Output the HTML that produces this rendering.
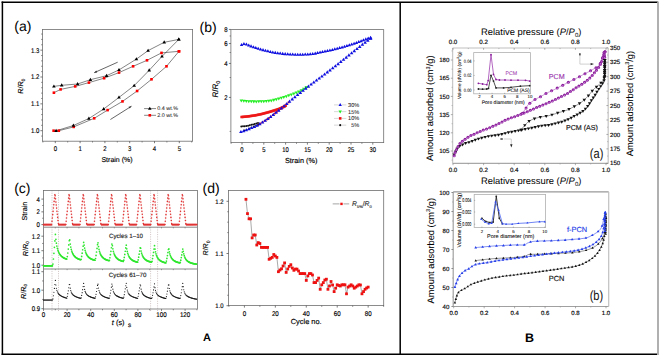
<!DOCTYPE html>
<html><head><meta charset="utf-8"><style>
html,body{margin:0;padding:0;background:#fff;}
svg{display:block;font-family:"Liberation Sans", sans-serif;text-rendering:geometricPrecision;}
</style></head><body>
<svg width="659" height="357" viewBox="0 0 659 357">
<rect x="0" y="0" width="659" height="357" fill="#fff"/>
<line x1="1.6" y1="2.3" x2="657.9" y2="2.3" stroke="#000" stroke-width="1.5" />
<line x1="1.6" y1="354.2" x2="657.2" y2="354.2" stroke="#000" stroke-width="1.5" />
<line x1="2.4" y1="1.6" x2="2.4" y2="355" stroke="#000" stroke-width="1.5" />
<line x1="658" y1="1.6" x2="658" y2="355" stroke="#a8a8a8" stroke-width="1.8" />
<line x1="400.2" y1="2.3" x2="400.2" y2="354.3" stroke="#000" stroke-width="1.5" />
<rect x="42.4" y="29.4" width="150.2" height="111.8" stroke="#6e6e6e" stroke-width="0.8" fill="none"/>
<line x1="55.3" y1="141.2" x2="55.3" y2="143.2" stroke="#444" stroke-width="0.7" />
<text transform="translate(55.3,151.41) scale(0.87,1)" text-anchor="middle" fill="#000" stroke="#000" stroke-width="0.15" style="font-size:6.9px;" >0</text>
<line x1="80.1" y1="141.2" x2="80.1" y2="143.2" stroke="#444" stroke-width="0.7" />
<text transform="translate(80.1,151.41) scale(0.87,1)" text-anchor="middle" fill="#000" stroke="#000" stroke-width="0.15" style="font-size:6.9px;" >1</text>
<line x1="104.9" y1="141.2" x2="104.9" y2="143.2" stroke="#444" stroke-width="0.7" />
<text transform="translate(104.9,151.41) scale(0.87,1)" text-anchor="middle" fill="#000" stroke="#000" stroke-width="0.15" style="font-size:6.9px;" >2</text>
<line x1="129.7" y1="141.2" x2="129.7" y2="143.2" stroke="#444" stroke-width="0.7" />
<text transform="translate(129.7,151.41) scale(0.87,1)" text-anchor="middle" fill="#000" stroke="#000" stroke-width="0.15" style="font-size:6.9px;" >3</text>
<line x1="154.5" y1="141.2" x2="154.5" y2="143.2" stroke="#444" stroke-width="0.7" />
<text transform="translate(154.5,151.41) scale(0.87,1)" text-anchor="middle" fill="#000" stroke="#000" stroke-width="0.15" style="font-size:6.9px;" >4</text>
<line x1="179.3" y1="141.2" x2="179.3" y2="143.2" stroke="#444" stroke-width="0.7" />
<text transform="translate(179.3,151.41) scale(0.87,1)" text-anchor="middle" fill="#000" stroke="#000" stroke-width="0.15" style="font-size:6.9px;" >5</text>
<line x1="42.9" y1="141.2" x2="42.9" y2="142.5" stroke="#444" stroke-width="0.6" />
<line x1="67.7" y1="141.2" x2="67.7" y2="142.5" stroke="#444" stroke-width="0.6" />
<line x1="92.5" y1="141.2" x2="92.5" y2="142.5" stroke="#444" stroke-width="0.6" />
<line x1="117.3" y1="141.2" x2="117.3" y2="142.5" stroke="#444" stroke-width="0.6" />
<line x1="142.1" y1="141.2" x2="142.1" y2="142.5" stroke="#444" stroke-width="0.6" />
<line x1="166.9" y1="141.2" x2="166.9" y2="142.5" stroke="#444" stroke-width="0.6" />
<line x1="191.7" y1="141.2" x2="191.7" y2="142.5" stroke="#444" stroke-width="0.6" />
<line x1="40.4" y1="130.7" x2="42.4" y2="130.7" stroke="#444" stroke-width="0.7" />
<text transform="translate(39.3,133.11) scale(0.87,1)" text-anchor="end" fill="#000" stroke="#000" stroke-width="0.15" style="font-size:6.9px;" >1.0</text>
<line x1="40.4" y1="103.85" x2="42.4" y2="103.85" stroke="#444" stroke-width="0.7" />
<text transform="translate(39.3,106.26) scale(0.87,1)" text-anchor="end" fill="#000" stroke="#000" stroke-width="0.15" style="font-size:6.9px;" >1.1</text>
<line x1="40.4" y1="77" x2="42.4" y2="77" stroke="#444" stroke-width="0.7" />
<text transform="translate(39.3,79.42) scale(0.87,1)" text-anchor="end" fill="#000" stroke="#000" stroke-width="0.15" style="font-size:6.9px;" >1.2</text>
<line x1="40.4" y1="50.15" x2="42.4" y2="50.15" stroke="#444" stroke-width="0.7" />
<text transform="translate(39.3,52.56) scale(0.87,1)" text-anchor="end" fill="#000" stroke="#000" stroke-width="0.15" style="font-size:6.9px;" >1.3</text>
<line x1="41.1" y1="136.07" x2="42.4" y2="136.07" stroke="#444" stroke-width="0.6" />
<line x1="41.1" y1="125.33" x2="42.4" y2="125.33" stroke="#444" stroke-width="0.6" />
<line x1="41.1" y1="119.96" x2="42.4" y2="119.96" stroke="#444" stroke-width="0.6" />
<line x1="41.1" y1="114.59" x2="42.4" y2="114.59" stroke="#444" stroke-width="0.6" />
<line x1="41.1" y1="109.22" x2="42.4" y2="109.22" stroke="#444" stroke-width="0.6" />
<line x1="41.1" y1="98.48" x2="42.4" y2="98.48" stroke="#444" stroke-width="0.6" />
<line x1="41.1" y1="93.11" x2="42.4" y2="93.11" stroke="#444" stroke-width="0.6" />
<line x1="41.1" y1="87.74" x2="42.4" y2="87.74" stroke="#444" stroke-width="0.6" />
<line x1="41.1" y1="82.37" x2="42.4" y2="82.37" stroke="#444" stroke-width="0.6" />
<line x1="41.1" y1="71.63" x2="42.4" y2="71.63" stroke="#444" stroke-width="0.6" />
<line x1="41.1" y1="66.26" x2="42.4" y2="66.26" stroke="#444" stroke-width="0.6" />
<line x1="41.1" y1="60.89" x2="42.4" y2="60.89" stroke="#444" stroke-width="0.6" />
<line x1="41.1" y1="55.52" x2="42.4" y2="55.52" stroke="#444" stroke-width="0.6" />
<line x1="41.1" y1="44.78" x2="42.4" y2="44.78" stroke="#444" stroke-width="0.6" />
<line x1="41.1" y1="39.41" x2="42.4" y2="39.41" stroke="#444" stroke-width="0.6" />
<line x1="41.1" y1="34.04" x2="42.4" y2="34.04" stroke="#444" stroke-width="0.6" />
<text x="117" y="162.05" text-anchor="middle" fill="#000" stroke="#000" stroke-width="0.15" style="font-size:7px;" >Strain (%)</text>
<g transform="translate(20.9,86.2) rotate(-90)"><text x="0" y="2.52" text-anchor="middle" fill="#000" stroke="#000" stroke-width="0.15" style="font-size:7.2px;"><tspan font-style="italic">R</tspan>/<tspan font-style="italic">R</tspan><tspan font-size="5" dy="1.6">0</tspan></text></g>
<text x="14.3" y="30.9" text-anchor="start" fill="#000" stroke="#000" stroke-width="0" style="font-size:14px;" >(a)</text>
<polyline fill="none" stroke="#333" stroke-width="0.6" points="56.1,130.8 73.4,125.5 88.9,118.5 103.7,109 119,97.4 134.2,85.6 149.2,70.3 162,56.4 178.8,39.4" />
<polyline fill="none" stroke="#333" stroke-width="0.6" points="178.8,39.4 164.2,42.3 148.1,50.6 136.4,59.1 119,69.9 106.6,75.7 90.4,79.7 77.6,84 61.7,85.3 53.9,86.4" />
<polyline fill="none" stroke="#333" stroke-width="0.6" points="53.6,130.7 58.8,130.7 73.7,126.9 94.2,118.3 107.6,110.1 122.5,101.4 137.1,91 151.5,79.3 166.5,66.3 179,51.3" />
<polyline fill="none" stroke="#333" stroke-width="0.6" points="179,51.3 161.5,52.9 147,60.3 133.1,66.3 119,72.6 104.1,78.2 88.9,82.6 75.2,86.4 60.6,89.4 53.9,92.7" />
<rect x="52.3" y="129.4" width="2.6" height="2.6" fill="#f00"/>
<rect x="57.5" y="129.4" width="2.6" height="2.6" fill="#f00"/>
<rect x="72.4" y="125.6" width="2.6" height="2.6" fill="#f00"/>
<rect x="92.9" y="117" width="2.6" height="2.6" fill="#f00"/>
<rect x="106.3" y="108.8" width="2.6" height="2.6" fill="#f00"/>
<rect x="121.2" y="100.1" width="2.6" height="2.6" fill="#f00"/>
<rect x="135.8" y="89.7" width="2.6" height="2.6" fill="#f00"/>
<rect x="150.2" y="78" width="2.6" height="2.6" fill="#f00"/>
<rect x="165.2" y="65" width="2.6" height="2.6" fill="#f00"/>
<rect x="177.7" y="50" width="2.6" height="2.6" fill="#f00"/>
<rect x="177.7" y="50" width="2.6" height="2.6" fill="#f00"/>
<rect x="160.2" y="51.6" width="2.6" height="2.6" fill="#f00"/>
<rect x="145.7" y="59" width="2.6" height="2.6" fill="#f00"/>
<rect x="131.8" y="65" width="2.6" height="2.6" fill="#f00"/>
<rect x="117.7" y="71.3" width="2.6" height="2.6" fill="#f00"/>
<rect x="102.8" y="76.9" width="2.6" height="2.6" fill="#f00"/>
<rect x="87.6" y="81.3" width="2.6" height="2.6" fill="#f00"/>
<rect x="73.9" y="85.1" width="2.6" height="2.6" fill="#f00"/>
<rect x="59.3" y="88.1" width="2.6" height="2.6" fill="#f00"/>
<rect x="52.6" y="91.4" width="2.6" height="2.6" fill="#f00"/>
<polygon points="56.1,128.87 54.3,131.98 57.9,131.98" fill="#000"/>
<polygon points="73.4,123.57 71.6,126.68 75.2,126.68" fill="#000"/>
<polygon points="88.9,116.57 87.1,119.68 90.7,119.68" fill="#000"/>
<polygon points="103.7,107.07 101.9,110.18 105.5,110.18" fill="#000"/>
<polygon points="119,95.47 117.2,98.58 120.8,98.58" fill="#000"/>
<polygon points="134.2,83.67 132.4,86.78 136,86.78" fill="#000"/>
<polygon points="149.2,68.37 147.4,71.48 151,71.48" fill="#000"/>
<polygon points="162,54.47 160.2,57.58 163.8,57.58" fill="#000"/>
<polygon points="178.8,37.47 177,40.58 180.6,40.58" fill="#000"/>
<polygon points="178.8,37.47 177,40.58 180.6,40.58" fill="#000"/>
<polygon points="164.2,40.37 162.4,43.48 166,43.48" fill="#000"/>
<polygon points="148.1,48.67 146.3,51.78 149.9,51.78" fill="#000"/>
<polygon points="136.4,57.17 134.6,60.28 138.2,60.28" fill="#000"/>
<polygon points="119,67.97 117.2,71.08 120.8,71.08" fill="#000"/>
<polygon points="106.6,73.77 104.8,76.88 108.4,76.88" fill="#000"/>
<polygon points="90.4,77.77 88.6,80.88 92.2,80.88" fill="#000"/>
<polygon points="77.6,82.07 75.8,85.18 79.4,85.18" fill="#000"/>
<polygon points="61.7,83.37 59.9,86.48 63.5,86.48" fill="#000"/>
<polygon points="53.9,84.47 52.1,87.58 55.7,87.58" fill="#000"/>
<line x1="117.7" y1="62.2" x2="94.2" y2="72.7" stroke="#333" stroke-width="0.75" />
<polygon points="94.2,72.7 96.31,70.55 97.21,72.56" fill="#333"/>
<line x1="110.4" y1="119.5" x2="131.5" y2="106.2" stroke="#333" stroke-width="0.75" />
<polygon points="131.5,106.2 129.72,108.62 128.54,106.76" fill="#333"/>
<line x1="144.1" y1="108.6" x2="156" y2="108.6" stroke="#333" stroke-width="0.6" />
<polygon points="149.8,106.67 148,109.78 151.6,109.78" fill="#000"/>
<line x1="144.1" y1="115.3" x2="156" y2="115.3" stroke="#333" stroke-width="0.6" />
<rect x="148.5" y="114" width="2.6" height="2.6" fill="#f00"/>
<text x="157.3" y="110.49" text-anchor="start" fill="#222" stroke="#222" stroke-width="0.06" style="font-size:5.4px;" >0.4 wt.%</text>
<text x="157.3" y="117.19" text-anchor="start" fill="#222" stroke="#222" stroke-width="0.06" style="font-size:5.4px;" >2.0 wt.%</text>
<rect x="230.9" y="29.6" width="152.8" height="113" stroke="#6e6e6e" stroke-width="0.8" fill="none"/>
<line x1="242" y1="142.6" x2="242" y2="144.6" stroke="#444" stroke-width="0.7" />
<text transform="translate(242,151.91) scale(0.85,1)" text-anchor="middle" fill="#000" stroke="#000" stroke-width="0.15" style="font-size:6.9px;" >0</text>
<line x1="263.8" y1="142.6" x2="263.8" y2="144.6" stroke="#444" stroke-width="0.7" />
<text transform="translate(263.8,151.91) scale(0.85,1)" text-anchor="middle" fill="#000" stroke="#000" stroke-width="0.15" style="font-size:6.9px;" >5</text>
<line x1="285.6" y1="142.6" x2="285.6" y2="144.6" stroke="#444" stroke-width="0.7" />
<text transform="translate(285.6,151.91) scale(0.85,1)" text-anchor="middle" fill="#000" stroke="#000" stroke-width="0.15" style="font-size:6.9px;" >10</text>
<line x1="307.4" y1="142.6" x2="307.4" y2="144.6" stroke="#444" stroke-width="0.7" />
<text transform="translate(307.4,151.91) scale(0.85,1)" text-anchor="middle" fill="#000" stroke="#000" stroke-width="0.15" style="font-size:6.9px;" >15</text>
<line x1="329.2" y1="142.6" x2="329.2" y2="144.6" stroke="#444" stroke-width="0.7" />
<text transform="translate(329.2,151.91) scale(0.85,1)" text-anchor="middle" fill="#000" stroke="#000" stroke-width="0.15" style="font-size:6.9px;" >20</text>
<line x1="351" y1="142.6" x2="351" y2="144.6" stroke="#444" stroke-width="0.7" />
<text transform="translate(351,151.91) scale(0.85,1)" text-anchor="middle" fill="#000" stroke="#000" stroke-width="0.15" style="font-size:6.9px;" >25</text>
<line x1="372.8" y1="142.6" x2="372.8" y2="144.6" stroke="#444" stroke-width="0.7" />
<text transform="translate(372.8,151.91) scale(0.85,1)" text-anchor="middle" fill="#000" stroke="#000" stroke-width="0.15" style="font-size:6.9px;" >30</text>
<line x1="231.1" y1="142.6" x2="231.1" y2="143.9" stroke="#444" stroke-width="0.6" />
<line x1="252.9" y1="142.6" x2="252.9" y2="143.9" stroke="#444" stroke-width="0.6" />
<line x1="274.7" y1="142.6" x2="274.7" y2="143.9" stroke="#444" stroke-width="0.6" />
<line x1="296.5" y1="142.6" x2="296.5" y2="143.9" stroke="#444" stroke-width="0.6" />
<line x1="318.3" y1="142.6" x2="318.3" y2="143.9" stroke="#444" stroke-width="0.6" />
<line x1="340.1" y1="142.6" x2="340.1" y2="143.9" stroke="#444" stroke-width="0.6" />
<line x1="361.9" y1="142.6" x2="361.9" y2="143.9" stroke="#444" stroke-width="0.6" />
<line x1="229.6" y1="131.4" x2="230.9" y2="131.4" stroke="#444" stroke-width="0.6" />
<line x1="228.9" y1="97.41" x2="230.9" y2="97.41" stroke="#444" stroke-width="0.7" />
<text transform="translate(227.6,99.83) scale(0.87,1)" text-anchor="end" fill="#000" stroke="#000" stroke-width="0.15" style="font-size:6.9px;" >2</text>
<line x1="229.6" y1="77.53" x2="230.9" y2="77.53" stroke="#444" stroke-width="0.6" />
<line x1="228.9" y1="63.43" x2="230.9" y2="63.43" stroke="#444" stroke-width="0.7" />
<text transform="translate(227.6,65.84) scale(0.87,1)" text-anchor="end" fill="#000" stroke="#000" stroke-width="0.15" style="font-size:6.9px;" >4</text>
<line x1="229.6" y1="52.49" x2="230.9" y2="52.49" stroke="#444" stroke-width="0.6" />
<line x1="228.9" y1="43.55" x2="230.9" y2="43.55" stroke="#444" stroke-width="0.7" />
<text transform="translate(227.6,45.96) scale(0.87,1)" text-anchor="end" fill="#000" stroke="#000" stroke-width="0.15" style="font-size:6.9px;" >6</text>
<line x1="229.6" y1="35.99" x2="230.9" y2="35.99" stroke="#444" stroke-width="0.6" />
<line x1="228.9" y1="29.44" x2="230.9" y2="29.44" stroke="#444" stroke-width="0.7" />
<text transform="translate(227.6,31.86) scale(0.87,1)" text-anchor="end" fill="#000" stroke="#000" stroke-width="0.15" style="font-size:6.9px;" >8</text>
<text x="301.1" y="162.75" text-anchor="middle" fill="#000" stroke="#000" stroke-width="0.15" style="font-size:7.3px;" >Strain (%)</text>
<g transform="translate(215.2,89.2) rotate(-90)"><text x="0" y="2.8" text-anchor="middle" fill="#000" stroke="#000" stroke-width="0.15" style="font-size:8px;"><tspan font-style="italic">R</tspan>/<tspan font-style="italic">R</tspan><tspan font-size="5.5" dy="1.8">0</tspan></text></g>
<text x="199.6" y="32.2" text-anchor="start" fill="#000" stroke="#000" stroke-width="0" style="font-size:14px;" >(b)</text>
<polygon points="241.3,102.48 239.55,99.45 243.05,99.45" fill="#22ee22"/>
<polygon points="243.8,102.73 242.05,99.7 245.55,99.7" fill="#22ee22"/>
<polygon points="246.3,102.98 244.55,99.94 248.05,99.94" fill="#22ee22"/>
<polygon points="248.8,103.17 247.05,100.14 250.55,100.14" fill="#22ee22"/>
<polygon points="251.3,103.31 249.55,100.28 253.05,100.28" fill="#22ee22"/>
<polygon points="253.8,103.41 252.05,100.37 255.55,100.37" fill="#22ee22"/>
<polygon points="256.3,103.41 254.55,100.38 258.05,100.38" fill="#22ee22"/>
<polygon points="258.8,103.34 257.05,100.31 260.55,100.31" fill="#22ee22"/>
<polygon points="261.3,103.27 259.55,100.24 263.05,100.24" fill="#22ee22"/>
<polygon points="263.8,103.17 262.05,100.14 265.55,100.14" fill="#22ee22"/>
<polygon points="266.3,103.01 264.55,99.98 268.05,99.98" fill="#22ee22"/>
<polygon points="268.8,102.77 267.05,99.74 270.55,99.74" fill="#22ee22"/>
<polygon points="271.3,102.41 269.55,99.38 273.05,99.38" fill="#22ee22"/>
<polygon points="273.8,101.9 272.05,98.87 275.55,98.87" fill="#22ee22"/>
<polygon points="276.3,101.29 274.55,98.26 278.05,98.26" fill="#22ee22"/>
<polygon points="278.8,100.59 277.05,97.56 280.55,97.56" fill="#22ee22"/>
<polygon points="281.3,99.83 279.55,96.8 283.05,96.8" fill="#22ee22"/>
<polygon points="283.8,99.04 282.05,96.01 285.55,96.01" fill="#22ee22"/>
<polygon points="286.3,98.22 284.55,95.19 288.05,95.19" fill="#22ee22"/>
<polygon points="288.8,97.36 287.05,94.33 290.55,94.33" fill="#22ee22"/>
<polygon points="291.3,96.45 289.55,93.42 293.05,93.42" fill="#22ee22"/>
<polygon points="293.8,95.5 292.05,92.47 295.55,92.47" fill="#22ee22"/>
<polygon points="296.3,94.51 294.55,91.48 298.05,91.48" fill="#22ee22"/>
<polygon points="298.8,93.43 297.05,90.4 300.55,90.4" fill="#22ee22"/>
<polygon points="301.3,92.22 299.55,89.18 303.05,89.18" fill="#22ee22"/>
<polygon points="303.8,90.87 302.05,87.84 305.55,87.84" fill="#22ee22"/>
<polygon points="306.3,89.49 304.55,86.45 308.05,86.45" fill="#22ee22"/>
<polygon points="306.5,89.38 304.75,86.35 308.25,86.35" fill="#22ee22"/>
<rect x="240.35" y="115.75" width="2.5" height="2.5" fill="#ee1818"/>
<rect x="241.55" y="115.65" width="2.5" height="2.5" fill="#ee1818"/>
<rect x="242.75" y="115.55" width="2.5" height="2.5" fill="#ee1818"/>
<rect x="243.94" y="115.44" width="2.5" height="2.5" fill="#ee1818"/>
<rect x="245.14" y="115.32" width="2.5" height="2.5" fill="#ee1818"/>
<rect x="246.33" y="115.18" width="2.5" height="2.5" fill="#ee1818"/>
<rect x="247.52" y="115.02" width="2.5" height="2.5" fill="#ee1818"/>
<rect x="248.72" y="114.86" width="2.5" height="2.5" fill="#ee1818"/>
<rect x="249.91" y="114.7" width="2.5" height="2.5" fill="#ee1818"/>
<rect x="251.1" y="114.53" width="2.5" height="2.5" fill="#ee1818"/>
<rect x="252.29" y="114.35" width="2.5" height="2.5" fill="#ee1818"/>
<rect x="253.47" y="114.17" width="2.5" height="2.5" fill="#ee1818"/>
<rect x="254.66" y="113.96" width="2.5" height="2.5" fill="#ee1818"/>
<rect x="255.84" y="113.75" width="2.5" height="2.5" fill="#ee1818"/>
<rect x="257.02" y="113.51" width="2.5" height="2.5" fill="#ee1818"/>
<rect x="258.2" y="113.26" width="2.5" height="2.5" fill="#ee1818"/>
<rect x="259.37" y="113" width="2.5" height="2.5" fill="#ee1818"/>
<rect x="260.54" y="112.72" width="2.5" height="2.5" fill="#ee1818"/>
<rect x="261.7" y="112.43" width="2.5" height="2.5" fill="#ee1818"/>
<rect x="262.87" y="112.13" width="2.5" height="2.5" fill="#ee1818"/>
<rect x="264.03" y="111.82" width="2.5" height="2.5" fill="#ee1818"/>
<rect x="265.19" y="111.51" width="2.5" height="2.5" fill="#ee1818"/>
<rect x="266.35" y="111.19" width="2.5" height="2.5" fill="#ee1818"/>
<rect x="267.51" y="110.87" width="2.5" height="2.5" fill="#ee1818"/>
<rect x="268.66" y="110.53" width="2.5" height="2.5" fill="#ee1818"/>
<rect x="269.82" y="110.19" width="2.5" height="2.5" fill="#ee1818"/>
<rect x="270.97" y="109.84" width="2.5" height="2.5" fill="#ee1818"/>
<rect x="272.12" y="109.49" width="2.5" height="2.5" fill="#ee1818"/>
<rect x="273.26" y="109.13" width="2.5" height="2.5" fill="#ee1818"/>
<rect x="274.41" y="108.76" width="2.5" height="2.5" fill="#ee1818"/>
<rect x="275.55" y="108.38" width="2.5" height="2.5" fill="#ee1818"/>
<rect x="276.69" y="108" width="2.5" height="2.5" fill="#ee1818"/>
<rect x="277.82" y="107.58" width="2.5" height="2.5" fill="#ee1818"/>
<rect x="278.93" y="107.15" width="2.5" height="2.5" fill="#ee1818"/>
<rect x="280.04" y="106.68" width="2.5" height="2.5" fill="#ee1818"/>
<rect x="281.14" y="106.2" width="2.5" height="2.5" fill="#ee1818"/>
<rect x="282.23" y="105.69" width="2.5" height="2.5" fill="#ee1818"/>
<rect x="283.3" y="105.13" width="2.5" height="2.5" fill="#ee1818"/>
<rect x="284.35" y="104.55" width="2.5" height="2.5" fill="#ee1818"/>
<circle cx="241.3" cy="126.5" r="1" fill="#111" />
<circle cx="243" cy="126.32" r="1" fill="#111" />
<circle cx="244.7" cy="126.14" r="1" fill="#111" />
<circle cx="246.4" cy="125.93" r="1" fill="#111" />
<circle cx="248.09" cy="125.64" r="1" fill="#111" />
<circle cx="249.76" cy="125.28" r="1" fill="#111" />
<circle cx="251.42" cy="124.87" r="1" fill="#111" />
<circle cx="253.07" cy="124.44" r="1" fill="#111" />
<circle cx="254.73" cy="123.99" r="1" fill="#111" />
<circle cx="256.37" cy="123.52" r="1" fill="#111" />
<circle cx="258" cy="123" r="1" fill="#111" />
<rect x="257.34" y="123.79" width="1.8" height="1.8" fill="#ee1111"/>
<rect x="259.53" y="122.57" width="1.8" height="1.8" fill="#ee1111"/>
<rect x="261.68" y="121.28" width="1.8" height="1.8" fill="#ee1111"/>
<rect x="263.8" y="119.94" width="1.8" height="1.8" fill="#ee1111"/>
<rect x="265.91" y="118.57" width="1.8" height="1.8" fill="#ee1111"/>
<rect x="267.98" y="117.17" width="1.8" height="1.8" fill="#ee1111"/>
<rect x="270.02" y="115.69" width="1.8" height="1.8" fill="#ee1111"/>
<rect x="272" y="114.16" width="1.8" height="1.8" fill="#ee1111"/>
<rect x="273.97" y="112.59" width="1.8" height="1.8" fill="#ee1111"/>
<rect x="275.94" y="111.04" width="1.8" height="1.8" fill="#ee1111"/>
<rect x="277.91" y="109.49" width="1.8" height="1.8" fill="#ee1111"/>
<rect x="279.87" y="107.92" width="1.8" height="1.8" fill="#ee1111"/>
<rect x="281.82" y="106.35" width="1.8" height="1.8" fill="#ee1111"/>
<rect x="283.76" y="104.75" width="1.8" height="1.8" fill="#ee1111"/>
<rect x="285.68" y="103.14" width="1.8" height="1.8" fill="#ee1111"/>
<rect x="287.6" y="101.52" width="1.8" height="1.8" fill="#ee1111"/>
<circle cx="244.3" cy="130.37" r="0.9" fill="#111" />
<circle cx="246.67" cy="129.55" r="0.9" fill="#111" />
<circle cx="249.01" cy="128.63" r="0.9" fill="#111" />
<circle cx="251.32" cy="127.67" r="0.9" fill="#111" />
<circle cx="253.66" cy="126.74" r="0.9" fill="#111" />
<circle cx="255.98" cy="125.78" r="0.9" fill="#111" />
<circle cx="258.24" cy="124.69" r="0.9" fill="#111" />
<polygon points="241.6,42.92 239.85,45.95 243.35,45.95" fill="#1010e0"/>
<polygon points="243.93,42.05 242.18,45.09 245.68,45.09" fill="#1010e0"/>
<polygon points="246.38,42.51 244.63,45.54 248.13,45.54" fill="#1010e0"/>
<polygon points="248.72,43.41 246.97,46.44 250.47,46.44" fill="#1010e0"/>
<polygon points="251.05,44.35 249.3,47.38 252.8,47.38" fill="#1010e0"/>
<polygon points="253.41,45.19 251.66,48.22 255.16,48.22" fill="#1010e0"/>
<polygon points="255.8,45.96 254.05,48.99 257.55,48.99" fill="#1010e0"/>
<polygon points="258.19,46.71 256.44,49.74 259.94,49.74" fill="#1010e0"/>
<polygon points="260.59,47.43 258.84,50.46 262.34,50.46" fill="#1010e0"/>
<polygon points="263.01,48.12 261.26,51.15 264.76,51.15" fill="#1010e0"/>
<polygon points="265.43,48.75 263.68,51.78 267.18,51.78" fill="#1010e0"/>
<polygon points="267.87,49.34 266.12,52.37 269.62,52.37" fill="#1010e0"/>
<polygon points="270.32,49.89 268.57,52.92 272.07,52.92" fill="#1010e0"/>
<polygon points="272.77,50.4 271.02,53.43 274.52,53.43" fill="#1010e0"/>
<polygon points="275.24,50.85 273.49,53.88 276.99,53.88" fill="#1010e0"/>
<polygon points="277.72,51.25 275.97,54.28 279.47,54.28" fill="#1010e0"/>
<polygon points="280.2,51.59 278.45,54.62 281.95,54.62" fill="#1010e0"/>
<polygon points="282.7,51.87 280.95,54.9 284.45,54.9" fill="#1010e0"/>
<polygon points="285.19,52.1 283.44,55.14 286.94,55.14" fill="#1010e0"/>
<polygon points="287.7,52.3 285.95,55.33 289.45,55.33" fill="#1010e0"/>
<polygon points="290.2,52.46 288.45,55.49 291.95,55.49" fill="#1010e0"/>
<polygon points="292.7,52.59 290.95,55.62 294.45,55.62" fill="#1010e0"/>
<polygon points="295.21,52.69 293.46,55.72 296.96,55.72" fill="#1010e0"/>
<polygon points="297.72,52.74 295.97,55.77 299.47,55.77" fill="#1010e0"/>
<polygon points="300.23,52.75 298.48,55.78 301.98,55.78" fill="#1010e0"/>
<polygon points="302.73,52.69 300.98,55.72 304.48,55.72" fill="#1010e0"/>
<polygon points="305.24,52.57 303.49,55.6 306.99,55.6" fill="#1010e0"/>
<polygon points="307.74,52.39 305.99,55.42 309.49,55.42" fill="#1010e0"/>
<polygon points="310.24,52.18 308.49,55.21 311.99,55.21" fill="#1010e0"/>
<polygon points="312.74,51.94 310.99,54.98 314.49,54.98" fill="#1010e0"/>
<polygon points="315.23,51.62 313.48,54.66 316.98,54.66" fill="#1010e0"/>
<polygon points="317.62,50.92 315.87,53.95 319.37,53.95" fill="#1010e0"/>
<polygon points="320.08,50.44 318.33,53.47 321.83,53.47" fill="#1010e0"/>
<polygon points="322.55,49.98 320.8,53.01 324.3,53.01" fill="#1010e0"/>
<polygon points="325.01,49.5 323.26,52.54 326.76,52.54" fill="#1010e0"/>
<polygon points="327.47,49.01 325.72,52.04 329.22,52.04" fill="#1010e0"/>
<polygon points="329.92,48.48 328.17,51.51 331.67,51.51" fill="#1010e0"/>
<polygon points="332.37,47.92 330.62,50.95 334.12,50.95" fill="#1010e0"/>
<polygon points="334.81,47.34 333.06,50.37 336.56,50.37" fill="#1010e0"/>
<polygon points="337.24,46.73 335.49,49.76 338.99,49.76" fill="#1010e0"/>
<polygon points="339.67,46.09 337.92,49.12 341.42,49.12" fill="#1010e0"/>
<polygon points="342.09,45.43 340.34,48.46 343.84,48.46" fill="#1010e0"/>
<polygon points="344.5,44.75 342.75,47.78 346.25,47.78" fill="#1010e0"/>
<polygon points="346.91,44.04 345.16,47.07 348.66,47.07" fill="#1010e0"/>
<polygon points="349.31,43.31 347.56,46.34 351.06,46.34" fill="#1010e0"/>
<polygon points="351.7,42.55 349.95,45.58 353.45,45.58" fill="#1010e0"/>
<polygon points="354.08,41.76 352.33,44.79 355.83,44.79" fill="#1010e0"/>
<polygon points="356.44,40.92 354.69,43.95 358.19,43.95" fill="#1010e0"/>
<polygon points="358.79,40.04 357.04,43.07 360.54,43.07" fill="#1010e0"/>
<polygon points="361.14,39.15 359.39,42.18 362.89,42.18" fill="#1010e0"/>
<polygon points="363.48,38.25 361.73,41.28 365.23,41.28" fill="#1010e0"/>
<polygon points="365.83,37.37 364.08,40.41 367.58,40.41" fill="#1010e0"/>
<polygon points="368.2,36.56 366.45,39.59 369.95,39.59" fill="#1010e0"/>
<polygon points="370.6,35.82 368.85,38.85 372.35,38.85" fill="#1010e0"/>
<polygon points="240.9,129.97 239.1,133.08 242.7,133.08" fill="#1010e0"/>
<polygon points="243.6,129.14 241.8,132.26 245.4,132.26" fill="#1010e0"/>
<polygon points="246.3,128.18 244.5,131.3 248.1,131.3" fill="#1010e0"/>
<polygon points="249,127.09 247.2,130.2 250.8,130.2" fill="#1010e0"/>
<polygon points="251.7,125.99 249.9,129.1 253.5,129.1" fill="#1010e0"/>
<polygon points="254.4,124.9 252.6,128.02 256.2,128.02" fill="#1010e0"/>
<polygon points="257.1,123.63 255.3,126.75 258.9,126.75" fill="#1010e0"/>
<polygon points="259.8,122.12 258,125.24 261.6,125.24" fill="#1010e0"/>
<polygon points="262.5,120.47 260.7,123.59 264.3,123.59" fill="#1010e0"/>
<polygon points="265.2,118.74 263.4,121.86 267,121.86" fill="#1010e0"/>
<polygon points="267.9,116.92 266.1,120.04 269.7,120.04" fill="#1010e0"/>
<polygon points="270.6,114.94 268.8,118.06 272.4,118.06" fill="#1010e0"/>
<polygon points="273.3,112.81 271.5,115.93 275.1,115.93" fill="#1010e0"/>
<polygon points="276,110.68 274.2,113.8 277.8,113.8" fill="#1010e0"/>
<polygon points="278.7,108.55 276.9,111.67 280.5,111.67" fill="#1010e0"/>
<polygon points="281.4,106.37 279.6,109.49 283.2,109.49" fill="#1010e0"/>
<polygon points="284.1,104.16 282.3,107.27 285.9,107.27" fill="#1010e0"/>
<polygon points="286.8,101.88 285,105 288.6,105" fill="#1010e0"/>
<polygon points="289.5,99.59 287.7,102.71 291.3,102.71" fill="#1010e0"/>
<polygon points="292.2,97.34 290.4,100.46 294,100.46" fill="#1010e0"/>
<polygon points="294.9,95.14 293.1,98.26 296.7,98.26" fill="#1010e0"/>
<polygon points="297.6,92.98 295.8,96.1 299.4,96.1" fill="#1010e0"/>
<polygon points="300.3,90.84 298.5,93.95 302.1,93.95" fill="#1010e0"/>
<polygon points="303,88.71 301.2,91.83 304.8,91.83" fill="#1010e0"/>
<polygon points="305.7,86.61 303.9,89.72 307.5,89.72" fill="#1010e0"/>
<polygon points="308.4,84.52 306.6,87.64 310.2,87.64" fill="#1010e0"/>
<polygon points="311.1,82.47 309.3,85.59 312.9,85.59" fill="#1010e0"/>
<polygon points="313.8,80.45 312,83.57 315.6,83.57" fill="#1010e0"/>
<polygon points="316.5,78.45 314.7,81.57 318.3,81.57" fill="#1010e0"/>
<polygon points="319.2,76.46 317.4,79.58 321,79.58" fill="#1010e0"/>
<polygon points="321.9,74.45 320.1,77.56 323.7,77.56" fill="#1010e0"/>
<polygon points="324.6,72.41 322.8,75.52 326.4,75.52" fill="#1010e0"/>
<polygon points="327.3,70.36 325.5,73.47 329.1,73.47" fill="#1010e0"/>
<polygon points="330,68.29 328.2,71.41 331.8,71.41" fill="#1010e0"/>
<polygon points="332.7,66.22 330.9,69.34 334.5,69.34" fill="#1010e0"/>
<polygon points="335.4,64.13 333.6,67.25 337.2,67.25" fill="#1010e0"/>
<polygon points="338.1,62.02 336.3,65.13 339.9,65.13" fill="#1010e0"/>
<polygon points="340.8,59.87 339,62.99 342.6,62.99" fill="#1010e0"/>
<polygon points="343.5,57.7 341.7,60.82 345.3,60.82" fill="#1010e0"/>
<polygon points="346.2,55.52 344.4,58.64 348,58.64" fill="#1010e0"/>
<polygon points="348.9,53.34 347.1,56.46 350.7,56.46" fill="#1010e0"/>
<polygon points="351.6,51.19 349.8,54.31 353.4,54.31" fill="#1010e0"/>
<polygon points="354.3,49.06 352.5,52.17 356.1,52.17" fill="#1010e0"/>
<polygon points="357,46.93 355.2,50.05 358.8,50.05" fill="#1010e0"/>
<polygon points="359.7,44.82 357.9,47.94 361.5,47.94" fill="#1010e0"/>
<polygon points="362.4,42.72 360.6,45.84 364.2,45.84" fill="#1010e0"/>
<polygon points="365.1,40.64 363.3,43.76 366.9,43.76" fill="#1010e0"/>
<polygon points="367.8,38.59 366,41.71 369.6,41.71" fill="#1010e0"/>
<polygon points="370.5,36.54 368.7,39.66 372.3,39.66" fill="#1010e0"/>
<polygon points="370.6,36.47 368.8,39.58 372.4,39.58" fill="#1010e0"/>
<line x1="334" y1="104.9" x2="338.7" y2="104.9" stroke="#bbb" stroke-width="0.6" />
<line x1="341.7" y1="104.9" x2="346.3" y2="104.9" stroke="#bbb" stroke-width="0.6" />
<polygon points="340.2,103.07 338.5,106.02 341.9,106.02" fill="#1010e0"/>
<text x="359.3" y="106.86" text-anchor="end" fill="#222" stroke="#222" stroke-width="0.06" style="font-size:5.6px;" >30%</text>
<line x1="334" y1="111.65" x2="338.7" y2="111.65" stroke="#bbb" stroke-width="0.6" />
<line x1="341.7" y1="111.65" x2="346.3" y2="111.65" stroke="#bbb" stroke-width="0.6" />
<polygon points="340.2,113.48 338.5,110.53 341.9,110.53" fill="#22ee22"/>
<text x="359.3" y="113.61" text-anchor="end" fill="#222" stroke="#222" stroke-width="0.06" style="font-size:5.6px;" >15%</text>
<line x1="334" y1="118.4" x2="338.7" y2="118.4" stroke="#bbb" stroke-width="0.6" />
<line x1="341.7" y1="118.4" x2="346.3" y2="118.4" stroke="#bbb" stroke-width="0.6" />
<rect x="338.9" y="117.1" width="2.6" height="2.6" fill="#ee1111"/>
<text x="359.3" y="120.36" text-anchor="end" fill="#222" stroke="#222" stroke-width="0.06" style="font-size:5.6px;" >10%</text>
<line x1="334" y1="125.15" x2="338.7" y2="125.15" stroke="#bbb" stroke-width="0.6" />
<line x1="341.7" y1="125.15" x2="346.3" y2="125.15" stroke="#bbb" stroke-width="0.6" />
<circle cx="340.2" cy="125.15" r="1.1" fill="#111" />
<text x="359.3" y="127.11" text-anchor="end" fill="#222" stroke="#222" stroke-width="0.06" style="font-size:5.6px;" >5%</text>
<line x1="52" y1="190.4" x2="52" y2="311.5" stroke="#b09a9a" stroke-width="0.6" stroke-dasharray="1,1.3"/>
<line x1="58.5" y1="190.4" x2="58.5" y2="311.5" stroke="#b09a9a" stroke-width="0.6" stroke-dasharray="1,1.3"/>
<line x1="150.6" y1="190.4" x2="150.6" y2="311.5" stroke="#b09a9a" stroke-width="0.6" stroke-dasharray="1,1.3"/>
<line x1="157.6" y1="190.4" x2="157.6" y2="311.5" stroke="#b09a9a" stroke-width="0.6" stroke-dasharray="1,1.3"/>
<rect x="43.4" y="190.4" width="154" height="118.6" stroke="#6e6e6e" stroke-width="0.8" fill="none"/>
<line x1="43.4" y1="227.2" x2="197.4" y2="227.2" stroke="#888" stroke-width="1.0" />
<line x1="43.4" y1="269" x2="197.4" y2="269" stroke="#888" stroke-width="1.0" />
<line x1="43.5" y1="309" x2="43.5" y2="311" stroke="#444" stroke-width="0.6" />
<text transform="translate(43.5,317.22) scale(0.9,1)" text-anchor="middle" fill="#000" stroke="#000" stroke-width="0.15" style="font-size:6.9px;" >0</text>
<line x1="55.3" y1="309" x2="55.3" y2="310.3" stroke="#444" stroke-width="0.6" />
<line x1="55.3" y1="227.2" x2="55.3" y2="228.4" stroke="#555" stroke-width="0.5" />
<line x1="55.3" y1="269" x2="55.3" y2="270.2" stroke="#555" stroke-width="0.5" />
<line x1="67.1" y1="309" x2="67.1" y2="311" stroke="#444" stroke-width="0.6" />
<line x1="67.1" y1="227.2" x2="67.1" y2="228.4" stroke="#555" stroke-width="0.5" />
<line x1="67.1" y1="269" x2="67.1" y2="270.2" stroke="#555" stroke-width="0.5" />
<text transform="translate(67.1,317.22) scale(0.9,1)" text-anchor="middle" fill="#000" stroke="#000" stroke-width="0.15" style="font-size:6.9px;" >20</text>
<line x1="78.9" y1="309" x2="78.9" y2="310.3" stroke="#444" stroke-width="0.6" />
<line x1="78.9" y1="227.2" x2="78.9" y2="228.4" stroke="#555" stroke-width="0.5" />
<line x1="78.9" y1="269" x2="78.9" y2="270.2" stroke="#555" stroke-width="0.5" />
<line x1="90.7" y1="309" x2="90.7" y2="311" stroke="#444" stroke-width="0.6" />
<line x1="90.7" y1="227.2" x2="90.7" y2="228.4" stroke="#555" stroke-width="0.5" />
<line x1="90.7" y1="269" x2="90.7" y2="270.2" stroke="#555" stroke-width="0.5" />
<text transform="translate(90.7,317.22) scale(0.9,1)" text-anchor="middle" fill="#000" stroke="#000" stroke-width="0.15" style="font-size:6.9px;" >40</text>
<line x1="102.5" y1="309" x2="102.5" y2="310.3" stroke="#444" stroke-width="0.6" />
<line x1="102.5" y1="227.2" x2="102.5" y2="228.4" stroke="#555" stroke-width="0.5" />
<line x1="102.5" y1="269" x2="102.5" y2="270.2" stroke="#555" stroke-width="0.5" />
<line x1="114.3" y1="309" x2="114.3" y2="311" stroke="#444" stroke-width="0.6" />
<line x1="114.3" y1="227.2" x2="114.3" y2="228.4" stroke="#555" stroke-width="0.5" />
<line x1="114.3" y1="269" x2="114.3" y2="270.2" stroke="#555" stroke-width="0.5" />
<text transform="translate(114.3,317.22) scale(0.9,1)" text-anchor="middle" fill="#000" stroke="#000" stroke-width="0.15" style="font-size:6.9px;" >60</text>
<line x1="126.1" y1="309" x2="126.1" y2="310.3" stroke="#444" stroke-width="0.6" />
<line x1="126.1" y1="227.2" x2="126.1" y2="228.4" stroke="#555" stroke-width="0.5" />
<line x1="126.1" y1="269" x2="126.1" y2="270.2" stroke="#555" stroke-width="0.5" />
<line x1="137.9" y1="309" x2="137.9" y2="311" stroke="#444" stroke-width="0.6" />
<line x1="137.9" y1="227.2" x2="137.9" y2="228.4" stroke="#555" stroke-width="0.5" />
<line x1="137.9" y1="269" x2="137.9" y2="270.2" stroke="#555" stroke-width="0.5" />
<text transform="translate(137.9,317.22) scale(0.9,1)" text-anchor="middle" fill="#000" stroke="#000" stroke-width="0.15" style="font-size:6.9px;" >80</text>
<line x1="149.7" y1="309" x2="149.7" y2="310.3" stroke="#444" stroke-width="0.6" />
<line x1="149.7" y1="227.2" x2="149.7" y2="228.4" stroke="#555" stroke-width="0.5" />
<line x1="149.7" y1="269" x2="149.7" y2="270.2" stroke="#555" stroke-width="0.5" />
<line x1="161.5" y1="309" x2="161.5" y2="311" stroke="#444" stroke-width="0.6" />
<line x1="161.5" y1="227.2" x2="161.5" y2="228.4" stroke="#555" stroke-width="0.5" />
<line x1="161.5" y1="269" x2="161.5" y2="270.2" stroke="#555" stroke-width="0.5" />
<text transform="translate(161.5,317.22) scale(0.9,1)" text-anchor="middle" fill="#000" stroke="#000" stroke-width="0.15" style="font-size:6.9px;" >100</text>
<line x1="173.3" y1="309" x2="173.3" y2="310.3" stroke="#444" stroke-width="0.6" />
<line x1="173.3" y1="227.2" x2="173.3" y2="228.4" stroke="#555" stroke-width="0.5" />
<line x1="173.3" y1="269" x2="173.3" y2="270.2" stroke="#555" stroke-width="0.5" />
<line x1="185.1" y1="309" x2="185.1" y2="311" stroke="#444" stroke-width="0.6" />
<line x1="185.1" y1="227.2" x2="185.1" y2="228.4" stroke="#555" stroke-width="0.5" />
<line x1="185.1" y1="269" x2="185.1" y2="270.2" stroke="#555" stroke-width="0.5" />
<text transform="translate(185.1,317.22) scale(0.9,1)" text-anchor="middle" fill="#000" stroke="#000" stroke-width="0.15" style="font-size:6.9px;" >120</text>
<line x1="196.9" y1="309" x2="196.9" y2="310.3" stroke="#444" stroke-width="0.6" />
<line x1="41.4" y1="224.6" x2="43.4" y2="224.6" stroke="#444" stroke-width="0.7" />
<text transform="translate(39.9,227.01) scale(0.87,1)" text-anchor="end" fill="#000" stroke="#000" stroke-width="0.15" style="font-size:6.9px;" >0</text>
<line x1="41.4" y1="211.85" x2="43.4" y2="211.85" stroke="#444" stroke-width="0.7" />
<text transform="translate(39.9,214.26) scale(0.87,1)" text-anchor="end" fill="#000" stroke="#000" stroke-width="0.15" style="font-size:6.9px;" >2</text>
<line x1="41.4" y1="199.1" x2="43.4" y2="199.1" stroke="#444" stroke-width="0.7" />
<text transform="translate(39.9,201.51) scale(0.87,1)" text-anchor="end" fill="#000" stroke="#000" stroke-width="0.15" style="font-size:6.9px;" >4</text>
<line x1="42.1" y1="218.22" x2="43.4" y2="218.22" stroke="#444" stroke-width="0.6" />
<line x1="42.1" y1="205.47" x2="43.4" y2="205.47" stroke="#444" stroke-width="0.6" />
<line x1="41.4" y1="265.2" x2="43.4" y2="265.2" stroke="#444" stroke-width="0.7" />
<text transform="translate(40,267.62) scale(0.87,1)" text-anchor="end" fill="#000" stroke="#000" stroke-width="0.15" style="font-size:6.9px;" >1.0</text>
<line x1="41.4" y1="250.7" x2="43.4" y2="250.7" stroke="#444" stroke-width="0.7" />
<text transform="translate(40,253.11) scale(0.87,1)" text-anchor="end" fill="#000" stroke="#000" stroke-width="0.15" style="font-size:6.9px;" >1.1</text>
<line x1="41.4" y1="236.2" x2="43.4" y2="236.2" stroke="#444" stroke-width="0.7" />
<text transform="translate(40,238.61) scale(0.87,1)" text-anchor="end" fill="#000" stroke="#000" stroke-width="0.15" style="font-size:6.9px;" >1.2</text>
<line x1="42.1" y1="257.95" x2="43.4" y2="257.95" stroke="#444" stroke-width="0.6" />
<line x1="42.1" y1="243.45" x2="43.4" y2="243.45" stroke="#444" stroke-width="0.6" />
<line x1="41.4" y1="308.7" x2="43.4" y2="308.7" stroke="#444" stroke-width="0.7" />
<text transform="translate(40,311.12) scale(0.87,1)" text-anchor="end" fill="#000" stroke="#000" stroke-width="0.15" style="font-size:6.9px;" >0.9</text>
<line x1="41.4" y1="290.2" x2="43.4" y2="290.2" stroke="#444" stroke-width="0.7" />
<text transform="translate(40,292.62) scale(0.87,1)" text-anchor="end" fill="#000" stroke="#000" stroke-width="0.15" style="font-size:6.9px;" >1.0</text>
<line x1="41.4" y1="271.7" x2="43.4" y2="271.7" stroke="#444" stroke-width="0.7" />
<text transform="translate(40,274.12) scale(0.87,1)" text-anchor="end" fill="#000" stroke="#000" stroke-width="0.15" style="font-size:6.9px;" >1.1</text>
<line x1="42.1" y1="299.45" x2="43.4" y2="299.45" stroke="#444" stroke-width="0.6" />
<line x1="42.1" y1="280.95" x2="43.4" y2="280.95" stroke="#444" stroke-width="0.6" />
<g transform="translate(24.8,211.1) rotate(-90)"><text x="0" y="2.52" text-anchor="middle" fill="#000" stroke="#000" stroke-width="0.15" style="font-size:7.2px;">Strain</text></g>
<g transform="translate(25.2,248.7) rotate(-90)"><text x="0" y="2.52" text-anchor="middle" fill="#000" stroke="#000" stroke-width="0.15" style="font-size:7.2px;"><tspan font-style="italic">R</tspan>/<tspan font-style="italic">R</tspan><tspan font-size="4.5" dy="1.5">0</tspan></text></g>
<g transform="translate(23,291.5) rotate(-90)"><text x="0" y="2.52" text-anchor="middle" fill="#000" stroke="#000" stroke-width="0.15" style="font-size:7.2px;"><tspan font-style="italic">R</tspan>/<tspan font-style="italic">R</tspan><tspan font-size="4.5" dy="1.5">0</tspan></text></g>
<text x="14.2" y="192.7" text-anchor="start" fill="#000" stroke="#000" stroke-width="0" style="font-size:14px;" >(c)</text>
<text x="126" y="238.27" text-anchor="middle" fill="#222" stroke="#222" stroke-width="0.15" style="font-size:6.2px;" >Cycles 1&#8211;10</text>
<text x="127.6" y="277.37" text-anchor="middle" fill="#222" stroke="#222" stroke-width="0.15" style="font-size:6.2px;" >Cycles 61&#8211;70</text>
<text x="118.2" y="325.39" text-anchor="middle" fill="#000" stroke="#000" stroke-width="0.15" style="font-size:7.4px;" ><tspan font-style="italic">t</tspan> (s)</text>
<text x="129.5" y="327.24" text-anchor="middle" fill="#000" stroke="#000" stroke-width="0.15" style="font-size:6.4px;" >s</text>
<polyline fill="none" stroke="#f6c8c8" stroke-width="0.4" points="43.5,224.6 43.56,224.6 43.62,224.6 43.68,224.6 43.74,224.6 43.8,224.6 43.85,224.6 43.91,224.6 43.97,224.6 44.03,224.6 44.09,224.6 44.15,224.6 44.21,224.6 44.27,224.6 44.33,224.6 44.38,224.6 44.44,224.6 44.5,224.6 44.56,224.6 44.62,224.6 44.68,224.6 44.74,224.6 44.8,224.6 44.86,224.6 44.92,224.6 44.98,224.6 45.03,224.6 45.09,224.6 45.15,224.6 45.21,224.6 45.27,224.6 45.33,224.6 45.39,224.6 45.45,224.6 45.51,224.6 45.56,224.6 45.62,224.6 45.68,224.6 45.74,224.6 45.8,224.6 45.86,224.6 45.92,224.6 45.98,224.6 46.04,224.6 46.1,224.6 46.16,224.6 46.21,224.6 46.27,224.6 46.33,224.6 46.39,224.6 46.45,224.6 46.51,224.6 46.57,224.6 46.63,224.6 46.69,224.6 46.74,224.6 46.8,224.6 46.86,224.6 46.92,224.6 46.98,224.6 47.04,224.6 47.1,224.6 47.16,224.6 47.22,224.6 47.28,224.6 47.34,224.6 47.39,224.6 47.45,224.6 47.51,224.6 47.57,224.6 47.63,224.6 47.69,224.6 47.75,224.6 47.81,224.6 47.87,224.6 47.92,224.6 47.98,224.6 48.04,224.6 48.1,224.6 48.16,224.6 48.22,224.6 48.28,224.6 48.34,224.6 48.4,224.6 48.46,224.6 48.52,224.6 48.57,224.6 48.63,224.6 48.69,224.6 48.75,224.6 48.81,224.6 48.87,224.6 48.93,224.6 48.99,224.6 49.05,224.6 49.1,224.6 49.16,224.6 49.22,224.6 49.28,224.6 49.34,224.6 49.4,224.6 49.46,224.6 49.52,224.6 49.58,224.6 49.64,224.6 49.7,224.6 49.75,224.6 49.81,224.6 49.87,224.6 49.93,224.6 49.99,224.6 50.05,224.6 50.11,224.6 50.17,224.6 50.23,224.6 50.28,224.6 50.34,224.6 50.4,224.6 50.46,224.6 50.52,224.6 50.58,224.6 50.64,224.6 50.7,224.6 50.76,224.6 50.82,224.6 50.88,224.6 50.93,224.6 50.99,224.6 51.05,224.6 51.11,224.6 51.17,224.6 51.23,224.6 51.29,224.6 51.35,224.6 51.41,224.6 51.47,224.6 51.52,224.6 51.58,224.6 51.64,224.6 51.7,224.05 51.76,223.5 51.82,222.94 51.88,222.39 51.94,221.84 52,221.29 52.05,220.74 52.11,220.18 52.17,219.63 52.23,219.08 52.29,218.53 52.35,217.97 52.41,217.42 52.47,216.87 52.53,216.32 52.59,215.77 52.64,215.21 52.7,214.66 52.76,214.11 52.82,213.56 52.88,213.01 52.94,212.45 53,211.9 53.06,211.35 53.12,210.8 53.18,210.24 53.23,209.69 53.29,209.14 53.35,208.59 53.41,208.04 53.47,207.48 53.53,206.93 53.59,206.38 53.65,205.83 53.71,205.28 53.77,204.72 53.83,204.17 53.88,203.62 53.94,203.07 54,202.52 54.06,201.96 54.12,201.41 54.18,200.86 54.24,200.31 54.3,199.75 54.36,199.2 54.41,198.65 54.47,198.1 54.53,197.55 54.59,196.99 54.65,196.44 54.71,195.89 54.77,195.34 54.83,194.79 54.89,194.23 54.95,193.68 55,194.2 55.06,194.71 55.12,195.23 55.18,195.74 55.24,196.26 55.3,196.77 55.36,197.29 55.42,197.8 55.48,198.32 55.54,198.83 55.59,199.35 55.65,199.87 55.71,200.38 55.77,200.9 55.83,201.41 55.89,201.93 55.95,202.44 56.01,202.96 56.07,203.47 56.13,203.99 56.19,204.5 56.24,205.02 56.3,205.53 56.36,206.05 56.42,206.56 56.48,207.08 56.54,207.59 56.6,208.11 56.66,208.63 56.72,209.14 56.77,209.66 56.83,210.17 56.89,210.69 56.95,211.2 57.01,211.72 57.07,212.23 57.13,212.75 57.19,213.26 57.25,213.78 57.31,214.29 57.36,214.81 57.42,215.32 57.48,215.84 57.54,216.35 57.6,216.87 57.66,217.39 57.72,217.9 57.78,218.42 57.84,218.93 57.9,219.45 57.95,219.96 58.01,220.48 58.07,220.99 58.13,221.51 58.19,222.02 58.25,222.54 58.31,223.05 58.37,223.57 58.43,224.08 58.49,224.6 58.55,224.6 58.6,224.6 58.66,224.6 58.72,224.6 58.78,224.6 58.84,224.6 58.9,224.6 58.96,224.6 59.02,224.6 59.08,224.6 59.13,224.6 59.19,224.6 59.25,224.6 59.31,224.6 59.37,224.6 59.43,224.6 59.49,224.6 59.55,224.6 59.61,224.6 59.67,224.6 59.72,224.6 59.78,224.6 59.84,224.6 59.9,224.6 59.96,224.6 60.02,224.6 60.08,224.6 60.14,224.6 60.2,224.6 60.26,224.6 60.31,224.6 60.37,224.6 60.43,224.6 60.49,224.6 60.55,224.6 60.61,224.6 60.67,224.6 60.73,224.6 60.79,224.6 60.85,224.6 60.91,224.6 60.96,224.6 61.02,224.6 61.08,224.6 61.14,224.6 61.2,224.6 61.26,224.6 61.32,224.6 61.38,224.6 61.44,224.6 61.49,224.6 61.55,224.6 61.61,224.6 61.67,224.6 61.73,224.6 61.79,224.6 61.85,224.6 61.91,224.6 61.97,224.6 62.03,224.6 62.08,224.6 62.14,224.6 62.2,224.6 62.26,224.6 62.32,224.6 62.38,224.6 62.44,224.6 62.5,224.6 62.56,224.6 62.62,224.6 62.67,224.6 62.73,224.6 62.79,224.6 62.85,224.6 62.91,224.6 62.97,224.6 63.03,224.6 63.09,224.6 63.15,224.6 63.21,224.6 63.27,224.6 63.32,224.6 63.38,224.6 63.44,224.6 63.5,224.6 63.56,224.6 63.62,224.6 63.68,224.6 63.74,224.6 63.8,224.6 63.86,224.6 63.91,224.6 63.97,224.6 64.03,224.6 64.09,224.6 64.15,224.6 64.21,224.6 64.27,224.6 64.33,224.6 64.39,224.6 64.44,224.6 64.5,224.6 64.56,224.6 64.62,224.6 64.68,224.6 64.74,224.6 64.8,224.6 64.86,224.6 64.92,224.6 64.98,224.6 65.03,224.6 65.09,224.6 65.15,224.6 65.21,224.6 65.27,224.6 65.33,224.6 65.39,224.6 65.45,224.6 65.51,224.6 65.57,224.6 65.62,224.6 65.68,224.6 65.74,224.6 65.8,224.6 65.86,224.05 65.92,223.5 65.98,222.94 66.04,222.39 66.1,221.84 66.16,221.29 66.22,220.74 66.27,220.18 66.33,219.63 66.39,219.08 66.45,218.53 66.51,217.97 66.57,217.42 66.63,216.87 66.69,216.32 66.75,215.77 66.81,215.21 66.86,214.66 66.92,214.11 66.98,213.56 67.04,213.01 67.1,212.45 67.16,211.9 67.22,211.35 67.28,210.8 67.34,210.24 67.39,209.69 67.45,209.14 67.51,208.59 67.57,208.04 67.63,207.48 67.69,206.93 67.75,206.38 67.81,205.83 67.87,205.28 67.93,204.72 67.98,204.17 68.04,203.62 68.1,203.07 68.16,202.52 68.22,201.96 68.28,201.41 68.34,200.86 68.4,200.31 68.46,199.75 68.52,199.2 68.58,198.65 68.63,198.1 68.69,197.55 68.75,196.99 68.81,196.44 68.87,195.89 68.93,195.34 68.99,194.79 69.05,194.23 69.11,193.68 69.16,194.2 69.22,194.71 69.28,195.23 69.34,195.74 69.4,196.26 69.46,196.77 69.52,197.29 69.58,197.8 69.64,198.32 69.7,198.83 69.75,199.35 69.81,199.87 69.87,200.38 69.93,200.9 69.99,201.41 70.05,201.93 70.11,202.44 70.17,202.96 70.23,203.47 70.29,203.99 70.34,204.5 70.4,205.02 70.46,205.53 70.52,206.05 70.58,206.56 70.64,207.08 70.7,207.59 70.76,208.11 70.82,208.63 70.88,209.14 70.94,209.66 70.99,210.17 71.05,210.69 71.11,211.2 71.17,211.72 71.23,212.23 71.29,212.75 71.35,213.26 71.41,213.78 71.47,214.29 71.53,214.81 71.58,215.32 71.64,215.84 71.7,216.36 71.76,216.87 71.82,217.39 71.88,217.9 71.94,218.42 72,218.93 72.06,219.45 72.11,219.96 72.17,220.48 72.23,220.99 72.29,221.51 72.35,222.02 72.41,222.54 72.47,223.05 72.53,223.57 72.59,224.08 72.65,224.6 72.7,224.6 72.76,224.6 72.82,224.6 72.88,224.6 72.94,224.6 73,224.6 73.06,224.6 73.12,224.6 73.18,224.6 73.24,224.6 73.3,224.6 73.35,224.6 73.41,224.6 73.47,224.6 73.53,224.6 73.59,224.6 73.65,224.6 73.71,224.6 73.77,224.6 73.83,224.6 73.88,224.6 73.94,224.6 74,224.6 74.06,224.6 74.12,224.6 74.18,224.6 74.24,224.6 74.3,224.6 74.36,224.6 74.42,224.6 74.47,224.6 74.53,224.6 74.59,224.6 74.65,224.6 74.71,224.6 74.77,224.6 74.83,224.6 74.89,224.6 74.95,224.6 75.01,224.6 75.06,224.6 75.12,224.6 75.18,224.6 75.24,224.6 75.3,224.6 75.36,224.6 75.42,224.6 75.48,224.6 75.54,224.6 75.6,224.6 75.66,224.6 75.71,224.6 75.77,224.6 75.83,224.6 75.89,224.6 75.95,224.6 76.01,224.6 76.07,224.6 76.13,224.6 76.19,224.6 76.25,224.6 76.3,224.6 76.36,224.6 76.42,224.6 76.48,224.6 76.54,224.6 76.6,224.6 76.66,224.6 76.72,224.6 76.78,224.6 76.84,224.6 76.89,224.6 76.95,224.6 77.01,224.6 77.07,224.6 77.13,224.6 77.19,224.6 77.25,224.6 77.31,224.6 77.37,224.6 77.42,224.6 77.48,224.6 77.54,224.6 77.6,224.6 77.66,224.6 77.72,224.6 77.78,224.6 77.84,224.6 77.9,224.6 77.96,224.6 78.02,224.6 78.07,224.6 78.13,224.6 78.19,224.6 78.25,224.6 78.31,224.6 78.37,224.6 78.43,224.6 78.49,224.6 78.55,224.6 78.6,224.6 78.66,224.6 78.72,224.6 78.78,224.6 78.84,224.6 78.9,224.6 78.96,224.6 79.02,224.6 79.08,224.6 79.14,224.6 79.19,224.6 79.25,224.6 79.31,224.6 79.37,224.6 79.43,224.6 79.49,224.6 79.55,224.6 79.61,224.6 79.67,224.6 79.73,224.6 79.78,224.6 79.84,224.6 79.9,224.6 79.96,224.6 80.02,224.05 80.08,223.5 80.14,222.94 80.2,222.39 80.26,221.84 80.32,221.29 80.38,220.74 80.43,220.18 80.49,219.63 80.55,219.08 80.61,218.53 80.67,217.97 80.73,217.42 80.79,216.87 80.85,216.32 80.91,215.77 80.97,215.21 81.02,214.66 81.08,214.11 81.14,213.56 81.2,213.01 81.26,212.45 81.32,211.9 81.38,211.35 81.44,210.8 81.5,210.24 81.56,209.69 81.61,209.14 81.67,208.59 81.73,208.04 81.79,207.48 81.85,206.93 81.91,206.38 81.97,205.83 82.03,205.28 82.09,204.72 82.14,204.17 82.2,203.62 82.26,203.07 82.32,202.52 82.38,201.96 82.44,201.41 82.5,200.86 82.56,200.31 82.62,199.75 82.68,199.2 82.73,198.65 82.79,198.1 82.85,197.55 82.91,196.99 82.97,196.44 83.03,195.89 83.09,195.34 83.15,194.79 83.21,194.23 83.27,193.68 83.32,194.2 83.38,194.71 83.44,195.23 83.5,195.74 83.56,196.26 83.62,196.77 83.68,197.29 83.74,197.8 83.8,198.32 83.86,198.83 83.91,199.35 83.97,199.87 84.03,200.38 84.09,200.9 84.15,201.41 84.21,201.93 84.27,202.44 84.33,202.96 84.39,203.47 84.45,203.99 84.5,204.5 84.56,205.02 84.62,205.53 84.68,206.05 84.74,206.56 84.8,207.08 84.86,207.59 84.92,208.11 84.98,208.63 85.04,209.14 85.09,209.66 85.15,210.17 85.21,210.69 85.27,211.2 85.33,211.72 85.39,212.23 85.45,212.75 85.51,213.26 85.57,213.78 85.63,214.29 85.69,214.81 85.74,215.32 85.8,215.84 85.86,216.35 85.92,216.87 85.98,217.39 86.04,217.9 86.1,218.42 86.16,218.93 86.22,219.45 86.28,219.96 86.33,220.48 86.39,220.99 86.45,221.51 86.51,222.02 86.57,222.54 86.63,223.05 86.69,223.57 86.75,224.08 86.81,224.6 86.86,224.6 86.92,224.6 86.98,224.6 87.04,224.6 87.1,224.6 87.16,224.6 87.22,224.6 87.28,224.6 87.34,224.6 87.4,224.6 87.45,224.6 87.51,224.6 87.57,224.6 87.63,224.6 87.69,224.6 87.75,224.6 87.81,224.6 87.87,224.6 87.93,224.6 87.99,224.6 88.04,224.6 88.1,224.6 88.16,224.6 88.22,224.6 88.28,224.6 88.34,224.6 88.4,224.6 88.46,224.6 88.52,224.6 88.58,224.6 88.63,224.6 88.69,224.6 88.75,224.6 88.81,224.6 88.87,224.6 88.93,224.6 88.99,224.6 89.05,224.6 89.11,224.6 89.17,224.6 89.22,224.6 89.28,224.6 89.34,224.6 89.4,224.6 89.46,224.6 89.52,224.6 89.58,224.6 89.64,224.6 89.7,224.6 89.76,224.6 89.81,224.6 89.87,224.6 89.93,224.6 89.99,224.6 90.05,224.6 90.11,224.6 90.17,224.6 90.23,224.6 90.29,224.6 90.35,224.6 90.41,224.6 90.46,224.6 90.52,224.6 90.58,224.6 90.64,224.6 90.7,224.6 90.76,224.6 90.82,224.6 90.88,224.6 90.94,224.6 91,224.6 91.05,224.6 91.11,224.6 91.17,224.6 91.23,224.6 91.29,224.6 91.35,224.6 91.41,224.6 91.47,224.6 91.53,224.6 91.59,224.6 91.64,224.6 91.7,224.6 91.76,224.6 91.82,224.6 91.88,224.6 91.94,224.6 92,224.6 92.06,224.6 92.12,224.6 92.17,224.6 92.23,224.6 92.29,224.6 92.35,224.6 92.41,224.6 92.47,224.6 92.53,224.6 92.59,224.6 92.65,224.6 92.71,224.6 92.77,224.6 92.82,224.6 92.88,224.6 92.94,224.6 93,224.6 93.06,224.6 93.12,224.6 93.18,224.6 93.24,224.6 93.3,224.6 93.35,224.6 93.41,224.6 93.47,224.6 93.53,224.6 93.59,224.6 93.65,224.6 93.71,224.6 93.77,224.6 93.83,224.6 93.89,224.6 93.94,224.6 94,224.6 94.06,224.6 94.12,224.6 94.18,224.05 94.24,223.5 94.3,222.94 94.36,222.39 94.42,221.84 94.48,221.29 94.53,220.74 94.59,220.18 94.65,219.63 94.71,219.08 94.77,218.53 94.83,217.97 94.89,217.42 94.95,216.87 95.01,216.32 95.07,215.77 95.12,215.21 95.18,214.66 95.24,214.11 95.3,213.56 95.36,213.01 95.42,212.45 95.48,211.9 95.54,211.35 95.6,210.8 95.66,210.24 95.72,209.69 95.77,209.14 95.83,208.59 95.89,208.04 95.95,207.48 96.01,206.93 96.07,206.38 96.13,205.83 96.19,205.28 96.25,204.72 96.31,204.17 96.36,203.62 96.42,203.07 96.48,202.52 96.54,201.96 96.6,201.41 96.66,200.86 96.72,200.31 96.78,199.75 96.84,199.2 96.89,198.65 96.95,198.1 97.01,197.55 97.07,196.99 97.13,196.44 97.19,195.89 97.25,195.34 97.31,194.79 97.37,194.23 97.43,193.68 97.48,194.2 97.54,194.71 97.6,195.23 97.66,195.74 97.72,196.26 97.78,196.77 97.84,197.29 97.9,197.8 97.96,198.32 98.02,198.83 98.07,199.35 98.13,199.87 98.19,200.38 98.25,200.9 98.31,201.41 98.37,201.93 98.43,202.44 98.49,202.96 98.55,203.47 98.61,203.99 98.66,204.5 98.72,205.02 98.78,205.53 98.84,206.05 98.9,206.56 98.96,207.08 99.02,207.59 99.08,208.11 99.14,208.63 99.2,209.14 99.25,209.66 99.31,210.17 99.37,210.69 99.43,211.2 99.49,211.72 99.55,212.23 99.61,212.75 99.67,213.26 99.73,213.78 99.79,214.29 99.84,214.81 99.9,215.32 99.96,215.84 100.02,216.36 100.08,216.87 100.14,217.39 100.2,217.9 100.26,218.42 100.32,218.93 100.38,219.45 100.44,219.96 100.49,220.48 100.55,220.99 100.61,221.51 100.67,222.02 100.73,222.54 100.79,223.05 100.85,223.57 100.91,224.08 100.97,224.6 101.03,224.6 101.08,224.6 101.14,224.6 101.2,224.6 101.26,224.6 101.32,224.6 101.38,224.6 101.44,224.6 101.5,224.6 101.56,224.6 101.61,224.6 101.67,224.6 101.73,224.6 101.79,224.6 101.85,224.6 101.91,224.6 101.97,224.6 102.03,224.6 102.09,224.6 102.15,224.6 102.2,224.6 102.26,224.6 102.32,224.6 102.38,224.6 102.44,224.6 102.5,224.6 102.56,224.6 102.62,224.6 102.68,224.6 102.74,224.6 102.79,224.6 102.85,224.6 102.91,224.6 102.97,224.6 103.03,224.6 103.09,224.6 103.15,224.6 103.21,224.6 103.27,224.6 103.33,224.6 103.38,224.6 103.44,224.6 103.5,224.6 103.56,224.6 103.62,224.6 103.68,224.6 103.74,224.6 103.8,224.6 103.86,224.6 103.92,224.6 103.97,224.6 104.03,224.6 104.09,224.6 104.15,224.6 104.21,224.6 104.27,224.6 104.33,224.6 104.39,224.6 104.45,224.6 104.51,224.6 104.56,224.6 104.62,224.6 104.68,224.6 104.74,224.6 104.8,224.6 104.86,224.6 104.92,224.6 104.98,224.6 105.04,224.6 105.1,224.6 105.16,224.6 105.21,224.6 105.27,224.6 105.33,224.6 105.39,224.6 105.45,224.6 105.51,224.6 105.57,224.6 105.63,224.6 105.69,224.6 105.75,224.6 105.8,224.6 105.86,224.6 105.92,224.6 105.98,224.6 106.04,224.6 106.1,224.6 106.16,224.6 106.22,224.6 106.28,224.6 106.33,224.6 106.39,224.6 106.45,224.6 106.51,224.6 106.57,224.6 106.63,224.6 106.69,224.6 106.75,224.6 106.81,224.6 106.87,224.6 106.92,224.6 106.98,224.6 107.04,224.6 107.1,224.6 107.16,224.6 107.22,224.6 107.28,224.6 107.34,224.6 107.4,224.6 107.46,224.6 107.52,224.6 107.57,224.6 107.63,224.6 107.69,224.6 107.75,224.6 107.81,224.6 107.87,224.6 107.93,224.6 107.99,224.6 108.05,224.6 108.1,224.6 108.16,224.6 108.22,224.6 108.28,224.6 108.34,224.05 108.4,223.5 108.46,222.94 108.52,222.39 108.58,221.84 108.64,221.29 108.69,220.74 108.75,220.18 108.81,219.63 108.87,219.08 108.93,218.53 108.99,217.97 109.05,217.42 109.11,216.87 109.17,216.32 109.23,215.77 109.28,215.21 109.34,214.66 109.4,214.11 109.46,213.56 109.52,213.01 109.58,212.45 109.64,211.9 109.7,211.35 109.76,210.8 109.82,210.24 109.88,209.69 109.93,209.14 109.99,208.59 110.05,208.04 110.11,207.48 110.17,206.93 110.23,206.38 110.29,205.83 110.35,205.28 110.41,204.72 110.47,204.17 110.52,203.62 110.58,203.07 110.64,202.52 110.7,201.96 110.76,201.41 110.82,200.86 110.88,200.31 110.94,199.75 111,199.2 111.05,198.65 111.11,198.1 111.17,197.55 111.23,196.99 111.29,196.44 111.35,195.89 111.41,195.34 111.47,194.79 111.53,194.23 111.59,193.68 111.64,194.2 111.7,194.71 111.76,195.23 111.82,195.74 111.88,196.26 111.94,196.77 112,197.29 112.06,197.8 112.12,198.32 112.18,198.83 112.23,199.35 112.29,199.87 112.35,200.38 112.41,200.9 112.47,201.41 112.53,201.93 112.59,202.44 112.65,202.96 112.71,203.47 112.77,203.99 112.83,204.5 112.88,205.02 112.94,205.53 113,206.05 113.06,206.56 113.12,207.08 113.18,207.59 113.24,208.11 113.3,208.63 113.36,209.14 113.41,209.66 113.47,210.17 113.53,210.69 113.59,211.2 113.65,211.72 113.71,212.23 113.77,212.75 113.83,213.26 113.89,213.78 113.95,214.29 114,214.81 114.06,215.32 114.12,215.84 114.18,216.36 114.24,216.87 114.3,217.39 114.36,217.9 114.42,218.42 114.48,218.93 114.54,219.45 114.59,219.96 114.65,220.48 114.71,220.99 114.77,221.51 114.83,222.02 114.89,222.54 114.95,223.05 115.01,223.57 115.07,224.08 115.13,224.6 115.19,224.6 115.24,224.6 115.3,224.6 115.36,224.6 115.42,224.6 115.48,224.6 115.54,224.6 115.6,224.6 115.66,224.6 115.72,224.6 115.77,224.6 115.83,224.6 115.89,224.6 115.95,224.6 116.01,224.6 116.07,224.6 116.13,224.6 116.19,224.6 116.25,224.6 116.31,224.6 116.36,224.6 116.42,224.6 116.48,224.6 116.54,224.6 116.6,224.6 116.66,224.6 116.72,224.6 116.78,224.6 116.84,224.6 116.9,224.6 116.95,224.6 117.01,224.6 117.07,224.6 117.13,224.6 117.19,224.6 117.25,224.6 117.31,224.6 117.37,224.6 117.43,224.6 117.49,224.6 117.55,224.6 117.6,224.6 117.66,224.6 117.72,224.6 117.78,224.6 117.84,224.6 117.9,224.6 117.96,224.6 118.02,224.6 118.08,224.6 118.13,224.6 118.19,224.6 118.25,224.6 118.31,224.6 118.37,224.6 118.43,224.6 118.49,224.6 118.55,224.6 118.61,224.6 118.67,224.6 118.72,224.6 118.78,224.6 118.84,224.6 118.9,224.6 118.96,224.6 119.02,224.6 119.08,224.6 119.14,224.6 119.2,224.6 119.26,224.6 119.31,224.6 119.37,224.6 119.43,224.6 119.49,224.6 119.55,224.6 119.61,224.6 119.67,224.6 119.73,224.6 119.79,224.6 119.85,224.6 119.91,224.6 119.96,224.6 120.02,224.6 120.08,224.6 120.14,224.6 120.2,224.6 120.26,224.6 120.32,224.6 120.38,224.6 120.44,224.6 120.49,224.6 120.55,224.6 120.61,224.6 120.67,224.6 120.73,224.6 120.79,224.6 120.85,224.6 120.91,224.6 120.97,224.6 121.03,224.6 121.08,224.6 121.14,224.6 121.2,224.6 121.26,224.6 121.32,224.6 121.38,224.6 121.44,224.6 121.5,224.6 121.56,224.6 121.62,224.6 121.67,224.6 121.73,224.6 121.79,224.6 121.85,224.6 121.91,224.6 121.97,224.6 122.03,224.6 122.09,224.6 122.15,224.6 122.21,224.6 122.27,224.6 122.32,224.6 122.38,224.6 122.44,224.6 122.5,224.05 122.56,223.5 122.62,222.94 122.68,222.39 122.74,221.84 122.8,221.29 122.85,220.74 122.91,220.18 122.97,219.63 123.03,219.08 123.09,218.53 123.15,217.97 123.21,217.42 123.27,216.87 123.33,216.32 123.39,215.77 123.44,215.21 123.5,214.66 123.56,214.11 123.62,213.56 123.68,213.01 123.74,212.45 123.8,211.9 123.86,211.35 123.92,210.8 123.98,210.24 124.03,209.69 124.09,209.14 124.15,208.59 124.21,208.04 124.27,207.48 124.33,206.93 124.39,206.38 124.45,205.83 124.51,205.28 124.57,204.72 124.62,204.17 124.68,203.62 124.74,203.07 124.8,202.52 124.86,201.96 124.92,201.41 124.98,200.86 125.04,200.31 125.1,199.75 125.16,199.2 125.21,198.65 125.27,198.1 125.33,197.55 125.39,196.99 125.45,196.44 125.51,195.89 125.57,195.34 125.63,194.79 125.69,194.23 125.75,193.68 125.8,194.2 125.86,194.71 125.92,195.23 125.98,195.74 126.04,196.26 126.1,196.77 126.16,197.29 126.22,197.8 126.28,198.32 126.34,198.83 126.39,199.35 126.45,199.86 126.51,200.38 126.57,200.9 126.63,201.41 126.69,201.93 126.75,202.44 126.81,202.96 126.87,203.47 126.93,203.99 126.98,204.5 127.04,205.02 127.1,205.53 127.16,206.05 127.22,206.56 127.28,207.08 127.34,207.59 127.4,208.11 127.46,208.63 127.52,209.14 127.57,209.66 127.63,210.17 127.69,210.69 127.75,211.2 127.81,211.72 127.87,212.23 127.93,212.75 127.99,213.26 128.05,213.78 128.11,214.29 128.16,214.81 128.22,215.32 128.28,215.84 128.34,216.35 128.4,216.87 128.46,217.39 128.52,217.9 128.58,218.42 128.64,218.93 128.7,219.45 128.75,219.96 128.81,220.48 128.87,220.99 128.93,221.51 128.99,222.02 129.05,222.54 129.11,223.05 129.17,223.57 129.23,224.08 129.29,224.6 129.34,224.6 129.4,224.6 129.46,224.6 129.52,224.6 129.58,224.6 129.64,224.6 129.7,224.6 129.76,224.6 129.82,224.6 129.88,224.6 129.94,224.6 129.99,224.6 130.05,224.6 130.11,224.6 130.17,224.6 130.23,224.6 130.29,224.6 130.35,224.6 130.41,224.6 130.47,224.6 130.52,224.6 130.58,224.6 130.64,224.6 130.7,224.6 130.76,224.6 130.82,224.6 130.88,224.6 130.94,224.6 131,224.6 131.06,224.6 131.12,224.6 131.17,224.6 131.23,224.6 131.29,224.6 131.35,224.6 131.41,224.6 131.47,224.6 131.53,224.6 131.59,224.6 131.65,224.6 131.7,224.6 131.76,224.6 131.82,224.6 131.88,224.6 131.94,224.6 132,224.6 132.06,224.6 132.12,224.6 132.18,224.6 132.24,224.6 132.3,224.6 132.35,224.6 132.41,224.6 132.47,224.6 132.53,224.6 132.59,224.6 132.65,224.6 132.71,224.6 132.77,224.6 132.83,224.6 132.88,224.6 132.94,224.6 133,224.6 133.06,224.6 133.12,224.6 133.18,224.6 133.24,224.6 133.3,224.6 133.36,224.6 133.42,224.6 133.47,224.6 133.53,224.6 133.59,224.6 133.65,224.6 133.71,224.6 133.77,224.6 133.83,224.6 133.89,224.6 133.95,224.6 134.01,224.6 134.06,224.6 134.12,224.6 134.18,224.6 134.24,224.6 134.3,224.6 134.36,224.6 134.42,224.6 134.48,224.6 134.54,224.6 134.6,224.6 134.66,224.6 134.71,224.6 134.77,224.6 134.83,224.6 134.89,224.6 134.95,224.6 135.01,224.6 135.07,224.6 135.13,224.6 135.19,224.6 135.25,224.6 135.3,224.6 135.36,224.6 135.42,224.6 135.48,224.6 135.54,224.6 135.6,224.6 135.66,224.6 135.72,224.6 135.78,224.6 135.83,224.6 135.89,224.6 135.95,224.6 136.01,224.6 136.07,224.6 136.13,224.6 136.19,224.6 136.25,224.6 136.31,224.6 136.37,224.6 136.43,224.6 136.48,224.6 136.54,224.6 136.6,224.6 136.66,224.05 136.72,223.5 136.78,222.94 136.84,222.39 136.9,221.84 136.96,221.29 137.01,220.74 137.07,220.18 137.13,219.63 137.19,219.08 137.25,218.53 137.31,217.97 137.37,217.42 137.43,216.87 137.49,216.32 137.55,215.77 137.6,215.21 137.66,214.66 137.72,214.11 137.78,213.56 137.84,213.01 137.9,212.45 137.96,211.9 138.02,211.35 138.08,210.8 138.14,210.24 138.19,209.69 138.25,209.14 138.31,208.59 138.37,208.04 138.43,207.48 138.49,206.93 138.55,206.38 138.61,205.83 138.67,205.28 138.73,204.72 138.78,204.17 138.84,203.62 138.9,203.07 138.96,202.52 139.02,201.96 139.08,201.41 139.14,200.86 139.2,200.31 139.26,199.75 139.32,199.2 139.38,198.65 139.43,198.1 139.49,197.55 139.55,196.99 139.61,196.44 139.67,195.89 139.73,195.34 139.79,194.79 139.85,194.23 139.91,193.68 139.96,194.2 140.02,194.71 140.08,195.23 140.14,195.74 140.2,196.26 140.26,196.77 140.32,197.29 140.38,197.8 140.44,198.32 140.5,198.83 140.56,199.35 140.61,199.87 140.67,200.38 140.73,200.9 140.79,201.41 140.85,201.93 140.91,202.44 140.97,202.96 141.03,203.47 141.09,203.99 141.14,204.5 141.2,205.02 141.26,205.53 141.32,206.05 141.38,206.56 141.44,207.08 141.5,207.59 141.56,208.11 141.62,208.63 141.68,209.14 141.74,209.66 141.79,210.17 141.85,210.69 141.91,211.2 141.97,211.72 142.03,212.23 142.09,212.75 142.15,213.26 142.21,213.78 142.27,214.29 142.32,214.81 142.38,215.32 142.44,215.84 142.5,216.35 142.56,216.87 142.62,217.39 142.68,217.9 142.74,218.42 142.8,218.93 142.86,219.45 142.91,219.96 142.97,220.48 143.03,220.99 143.09,221.51 143.15,222.02 143.21,222.54 143.27,223.05 143.33,223.57 143.39,224.08 143.45,224.6 143.5,224.6 143.56,224.6 143.62,224.6 143.68,224.6 143.74,224.6 143.8,224.6 143.86,224.6 143.92,224.6 143.98,224.6 144.04,224.6 144.09,224.6 144.15,224.6 144.21,224.6 144.27,224.6 144.33,224.6 144.39,224.6 144.45,224.6 144.51,224.6 144.57,224.6 144.63,224.6 144.69,224.6 144.74,224.6 144.8,224.6 144.86,224.6 144.92,224.6 144.98,224.6 145.04,224.6 145.1,224.6 145.16,224.6 145.22,224.6 145.27,224.6 145.33,224.6 145.39,224.6 145.45,224.6 145.51,224.6 145.57,224.6 145.63,224.6 145.69,224.6 145.75,224.6 145.81,224.6 145.87,224.6 145.92,224.6 145.98,224.6 146.04,224.6 146.1,224.6 146.16,224.6 146.22,224.6 146.28,224.6 146.34,224.6 146.4,224.6 146.45,224.6 146.51,224.6 146.57,224.6 146.63,224.6 146.69,224.6 146.75,224.6 146.81,224.6 146.87,224.6 146.93,224.6 146.99,224.6 147.04,224.6 147.1,224.6 147.16,224.6 147.22,224.6 147.28,224.6 147.34,224.6 147.4,224.6 147.46,224.6 147.52,224.6 147.58,224.6 147.63,224.6 147.69,224.6 147.75,224.6 147.81,224.6 147.87,224.6 147.93,224.6 147.99,224.6 148.05,224.6 148.11,224.6 148.17,224.6 148.22,224.6 148.28,224.6 148.34,224.6 148.4,224.6 148.46,224.6 148.52,224.6 148.58,224.6 148.64,224.6 148.7,224.6 148.76,224.6 148.81,224.6 148.87,224.6 148.93,224.6 148.99,224.6 149.05,224.6 149.11,224.6 149.17,224.6 149.23,224.6 149.29,224.6 149.35,224.6 149.41,224.6 149.46,224.6 149.52,224.6 149.58,224.6 149.64,224.6 149.7,224.6 149.76,224.6 149.82,224.6 149.88,224.6 149.94,224.6 150,224.6 150.05,224.6 150.11,224.6 150.17,224.6 150.23,224.6 150.29,224.6 150.35,224.6 150.41,224.6 150.47,224.6 150.53,224.6 150.58,224.6 150.64,224.6 150.7,224.6 150.76,224.6 150.82,224.05 150.88,223.5 150.94,222.94 151,222.39 151.06,221.84 151.12,221.29 151.18,220.74 151.23,220.18 151.29,219.63 151.35,219.08 151.41,218.53 151.47,217.97 151.53,217.42 151.59,216.87 151.65,216.32 151.71,215.77 151.76,215.21 151.82,214.66 151.88,214.11 151.94,213.56 152,213.01 152.06,212.45 152.12,211.9 152.18,211.35 152.24,210.8 152.3,210.24 152.35,209.69 152.41,209.14 152.47,208.59 152.53,208.04 152.59,207.48 152.65,206.93 152.71,206.38 152.77,205.83 152.83,205.28 152.89,204.72 152.94,204.17 153,203.62 153.06,203.07 153.12,202.52 153.18,201.96 153.24,201.41 153.3,200.86 153.36,200.31 153.42,199.75 153.48,199.2 153.53,198.65 153.59,198.1 153.65,197.55 153.71,196.99 153.77,196.44 153.83,195.89 153.89,195.34 153.95,194.79 154.01,194.23 154.07,193.68 154.12,194.2 154.18,194.71 154.24,195.23 154.3,195.74 154.36,196.26 154.42,196.77 154.48,197.29 154.54,197.8 154.6,198.32 154.66,198.83 154.71,199.35 154.77,199.87 154.83,200.38 154.89,200.9 154.95,201.41 155.01,201.93 155.07,202.44 155.13,202.96 155.19,203.47 155.25,203.99 155.31,204.5 155.36,205.02 155.42,205.53 155.48,206.05 155.54,206.56 155.6,207.08 155.66,207.59 155.72,208.11 155.78,208.63 155.84,209.14 155.89,209.66 155.95,210.17 156.01,210.69 156.07,211.2 156.13,211.72 156.19,212.23 156.25,212.75 156.31,213.26 156.37,213.78 156.43,214.29 156.49,214.81 156.54,215.32 156.6,215.84 156.66,216.35 156.72,216.87 156.78,217.39 156.84,217.9 156.9,218.42 156.96,218.93 157.02,219.45 157.07,219.96 157.13,220.48 157.19,220.99 157.25,221.51 157.31,222.02 157.37,222.54 157.43,223.05 157.49,223.57 157.55,224.08 157.61,224.6 157.66,224.6 157.72,224.6 157.78,224.6 157.84,224.6 157.9,224.6 157.96,224.6 158.02,224.6 158.08,224.6 158.14,224.6 158.2,224.6 158.25,224.6 158.31,224.6 158.37,224.6 158.43,224.6 158.49,224.6 158.55,224.6 158.61,224.6 158.67,224.6 158.73,224.6 158.79,224.6 158.84,224.6 158.9,224.6 158.96,224.6 159.02,224.6 159.08,224.6 159.14,224.6 159.2,224.6 159.26,224.6 159.32,224.6 159.38,224.6 159.44,224.6 159.49,224.6 159.55,224.6 159.61,224.6 159.67,224.6 159.73,224.6 159.79,224.6 159.85,224.6 159.91,224.6 159.97,224.6 160.02,224.6 160.08,224.6 160.14,224.6 160.2,224.6 160.26,224.6 160.32,224.6 160.38,224.6 160.44,224.6 160.5,224.6 160.56,224.6 160.62,224.6 160.67,224.6 160.73,224.6 160.79,224.6 160.85,224.6 160.91,224.6 160.97,224.6 161.03,224.6 161.09,224.6 161.15,224.6 161.2,224.6 161.26,224.6 161.32,224.6 161.38,224.6 161.44,224.6 161.5,224.6 161.56,224.6 161.62,224.6 161.68,224.6 161.74,224.6 161.79,224.6 161.85,224.6 161.91,224.6 161.97,224.6 162.03,224.6 162.09,224.6 162.15,224.6 162.21,224.6 162.27,224.6 162.33,224.6 162.38,224.6 162.44,224.6 162.5,224.6 162.56,224.6 162.62,224.6 162.68,224.6 162.74,224.6 162.8,224.6 162.86,224.6 162.92,224.6 162.97,224.6 163.03,224.6 163.09,224.6 163.15,224.6 163.21,224.6 163.27,224.6 163.33,224.6 163.39,224.6 163.45,224.6 163.51,224.6 163.56,224.6 163.62,224.6 163.68,224.6 163.74,224.6 163.8,224.6 163.86,224.6 163.92,224.6 163.98,224.6 164.04,224.6 164.1,224.6 164.15,224.6 164.21,224.6 164.27,224.6 164.33,224.6 164.39,224.6 164.45,224.6 164.51,224.6 164.57,224.6 164.63,224.6 164.69,224.6 164.75,224.6 164.8,224.6 164.86,224.6 164.92,224.6 164.98,224.05 165.04,223.5 165.1,222.94 165.16,222.39 165.22,221.84 165.28,221.29 165.33,220.74 165.39,220.18 165.45,219.63 165.51,219.08 165.57,218.53 165.63,217.97 165.69,217.42 165.75,216.87 165.81,216.32 165.87,215.77 165.93,215.21 165.98,214.66 166.04,214.11 166.1,213.56 166.16,213.01 166.22,212.45 166.28,211.9 166.34,211.35 166.4,210.8 166.46,210.24 166.51,209.69 166.57,209.14 166.63,208.59 166.69,208.04 166.75,207.48 166.81,206.93 166.87,206.38 166.93,205.83 166.99,205.28 167.05,204.72 167.1,204.17 167.16,203.62 167.22,203.07 167.28,202.52 167.34,201.96 167.4,201.41 167.46,200.86 167.52,200.31 167.58,199.75 167.64,199.2 167.69,198.65 167.75,198.1 167.81,197.55 167.87,196.99 167.93,196.44 167.99,195.89 168.05,195.34 168.11,194.79 168.17,194.23 168.23,193.68 168.28,194.2 168.34,194.71 168.4,195.23 168.46,195.74 168.52,196.26 168.58,196.77 168.64,197.29 168.7,197.8 168.76,198.32 168.82,198.83 168.88,199.35 168.93,199.87 168.99,200.38 169.05,200.9 169.11,201.41 169.17,201.93 169.23,202.44 169.29,202.96 169.35,203.47 169.41,203.99 169.46,204.5 169.52,205.02 169.58,205.53 169.64,206.05 169.7,206.56 169.76,207.08 169.82,207.59 169.88,208.11 169.94,208.63 170,209.14 170.06,209.66 170.11,210.17 170.17,210.69 170.23,211.2 170.29,211.72 170.35,212.23 170.41,212.75 170.47,213.26 170.53,213.78 170.59,214.29 170.64,214.81 170.7,215.32 170.76,215.84 170.82,216.35 170.88,216.87 170.94,217.39 171,217.9 171.06,218.42 171.12,218.93 171.18,219.45 171.24,219.96 171.29,220.48 171.35,220.99 171.41,221.51 171.47,222.02 171.53,222.54 171.59,223.05 171.65,223.57 171.71,224.08 171.77,224.6 171.82,224.6 171.88,224.6 171.94,224.6 172,224.6 172.06,224.6 172.12,224.6 172.18,224.6 172.24,224.6 172.3,224.6 172.36,224.6 172.41,224.6 172.47,224.6 172.53,224.6 172.59,224.6 172.65,224.6 172.71,224.6 172.77,224.6 172.83,224.6 172.89,224.6 172.95,224.6 173,224.6 173.06,224.6 173.12,224.6 173.18,224.6 173.24,224.6 173.3,224.6 173.36,224.6 173.42,224.6 173.48,224.6 173.54,224.6 173.59,224.6 173.65,224.6 173.71,224.6 173.77,224.6 173.83,224.6 173.89,224.6 173.95,224.6 174.01,224.6 174.07,224.6 174.13,224.6 174.19,224.6 174.24,224.6 174.3,224.6 174.36,224.6 174.42,224.6 174.48,224.6 174.54,224.6 174.6,224.6 174.66,224.6 174.72,224.6 174.78,224.6 174.83,224.6 174.89,224.6 174.95,224.6 175.01,224.6 175.07,224.6 175.13,224.6 175.19,224.6 175.25,224.6 175.31,224.6 175.36,224.6 175.42,224.6 175.48,224.6 175.54,224.6 175.6,224.6 175.66,224.6 175.72,224.6 175.78,224.6 175.84,224.6 175.9,224.6 175.95,224.6 176.01,224.6 176.07,224.6 176.13,224.6 176.19,224.6 176.25,224.6 176.31,224.6 176.37,224.6 176.43,224.6 176.49,224.6 176.54,224.6 176.6,224.6 176.66,224.6 176.72,224.6 176.78,224.6 176.84,224.6 176.9,224.6 176.96,224.6 177.02,224.6 177.08,224.6 177.13,224.6 177.19,224.6 177.25,224.6 177.31,224.6 177.37,224.6 177.43,224.6 177.49,224.6 177.55,224.6 177.61,224.6 177.67,224.6 177.72,224.6 177.78,224.6 177.84,224.6 177.9,224.6 177.96,224.6 178.02,224.6 178.08,224.6 178.14,224.6 178.2,224.6 178.26,224.6 178.31,224.6 178.37,224.6 178.43,224.6 178.49,224.6 178.55,224.6 178.61,224.6 178.67,224.6 178.73,224.6 178.79,224.6 178.85,224.6 178.91,224.6 178.96,224.6 179.02,224.6 179.08,224.6 179.14,224.05 179.2,223.5 179.26,222.94 179.32,222.39 179.38,221.84 179.44,221.29 179.5,220.74 179.55,220.18 179.61,219.63 179.67,219.08 179.73,218.53 179.79,217.97 179.85,217.42 179.91,216.87 179.97,216.32 180.03,215.77 180.08,215.21 180.14,214.66 180.2,214.11 180.26,213.56 180.32,213.01 180.38,212.45 180.44,211.9 180.5,211.35 180.56,210.8 180.62,210.24 180.67,209.69 180.73,209.14 180.79,208.59 180.85,208.04 180.91,207.48 180.97,206.93 181.03,206.38 181.09,205.83 181.15,205.28 181.21,204.72 181.26,204.17 181.32,203.62 181.38,203.07 181.44,202.52 181.5,201.96 181.56,201.41 181.62,200.86 181.68,200.31 181.74,199.75 181.8,199.2 181.85,198.65 181.91,198.1 181.97,197.55 182.03,196.99 182.09,196.44 182.15,195.89 182.21,195.34 182.27,194.79 182.33,194.23 182.39,193.68 182.44,194.2 182.5,194.71 182.56,195.23 182.62,195.74 182.68,196.26 182.74,196.77 182.8,197.29 182.86,197.8 182.92,198.32 182.98,198.83 183.03,199.35 183.09,199.87 183.15,200.38 183.21,200.9 183.27,201.41 183.33,201.93 183.39,202.44 183.45,202.96 183.51,203.47 183.57,203.99 183.62,204.5 183.68,205.02 183.74,205.53 183.8,206.05 183.86,206.56 183.92,207.08 183.98,207.59 184.04,208.11 184.1,208.63 184.16,209.14 184.22,209.66 184.27,210.17 184.33,210.69 184.39,211.2 184.45,211.72 184.51,212.23 184.57,212.75 184.63,213.26 184.69,213.78 184.75,214.29 184.8,214.81 184.86,215.32 184.92,215.84 184.98,216.35 185.04,216.87 185.1,217.39 185.16,217.9 185.22,218.42 185.28,218.93 185.34,219.45 185.39,219.96 185.45,220.48 185.51,220.99 185.57,221.51 185.63,222.02 185.69,222.54 185.75,223.05 185.81,223.57 185.87,224.08 185.93,224.6 185.98,224.6 186.04,224.6 186.1,224.6 186.16,224.6 186.22,224.6 186.28,224.6 186.34,224.6 186.4,224.6 186.46,224.6 186.52,224.6 186.57,224.6 186.63,224.6 186.69,224.6 186.75,224.6 186.81,224.6 186.87,224.6 186.93,224.6 186.99,224.6 187.05,224.6 187.11,224.6 187.16,224.6 187.22,224.6 187.28,224.6 187.34,224.6 187.4,224.6 187.46,224.6 187.52,224.6 187.58,224.6 187.64,224.6 187.7,224.6 187.75,224.6 187.81,224.6 187.87,224.6 187.93,224.6 187.99,224.6 188.05,224.6 188.11,224.6 188.17,224.6 188.23,224.6 188.29,224.6 188.34,224.6 188.4,224.6 188.46,224.6 188.52,224.6 188.58,224.6 188.64,224.6 188.7,224.6 188.76,224.6 188.82,224.6 188.88,224.6 188.94,224.6 188.99,224.6 189.05,224.6 189.11,224.6 189.17,224.6 189.23,224.6 189.29,224.6 189.35,224.6 189.41,224.6 189.47,224.6 189.53,224.6 189.58,224.6 189.64,224.6 189.7,224.6 189.76,224.6 189.82,224.6 189.88,224.6 189.94,224.6 190,224.6 190.06,224.6 190.11,224.6 190.17,224.6 190.23,224.6 190.29,224.6 190.35,224.6 190.41,224.6 190.47,224.6 190.53,224.6 190.59,224.6 190.65,224.6 190.7,224.6 190.76,224.6 190.82,224.6 190.88,224.6 190.94,224.6 191,224.6 191.06,224.6 191.12,224.6 191.18,224.6 191.24,224.6 191.29,224.6 191.35,224.6 191.41,224.6 191.47,224.6 191.53,224.6 191.59,224.6 191.65,224.6 191.71,224.6 191.77,224.6 191.83,224.6 191.88,224.6 191.94,224.6 192,224.6 192.06,224.6 192.12,224.6 192.18,224.6 192.24,224.6 192.3,224.6 192.36,224.6 192.42,224.6 192.47,224.6 192.53,224.6 192.59,224.6 192.65,224.6 192.71,224.6 192.77,224.6 192.83,224.6 192.89,224.6 192.95,224.6 193.01,224.6 193.06,224.6 193.12,224.6 193.18,224.6 193.24,224.6 193.3,224.6 193.36,224.6 193.42,224.6 193.48,224.6 193.54,224.6 193.6,224.6 193.66,224.6 193.71,224.6 193.77,224.6 193.83,224.6 193.89,224.6 193.95,224.6 194.01,224.6 194.07,224.6 194.13,224.6 194.19,224.6 194.25,224.6 194.3,224.6 194.36,224.6 194.42,224.6 194.48,224.6 194.54,224.6 194.6,224.6 194.66,224.6 194.72,224.6 194.78,224.6 194.83,224.6 194.89,224.6 194.95,224.6 195.01,224.6 195.07,224.6 195.13,224.6 195.19,224.6 195.25,224.6 195.31,224.6 195.37,224.6 195.42,224.6 195.48,224.6 195.54,224.6 195.6,224.6 195.66,224.6 195.72,224.6 195.78,224.6 195.84,224.6 195.9,224.6 195.96,224.6 196.01,224.6 196.07,224.6 196.13,224.6 196.19,224.6 196.25,224.6 196.31,224.6 196.37,224.6 196.43,224.6 196.49,224.6 196.55,224.6 196.6,224.6 196.66,224.6 196.72,224.6 196.78,224.6 196.84,224.6 196.9,224.6" />
<line x1="43.5" y1="224.6" x2="51.64" y2="224.6" stroke="#e43a3a" stroke-width="1.15" />
<line x1="58.49" y1="224.6" x2="65.8" y2="224.6" stroke="#e43a3a" stroke-width="1.15" />
<line x1="72.65" y1="224.6" x2="79.96" y2="224.6" stroke="#e43a3a" stroke-width="1.15" />
<line x1="86.81" y1="224.6" x2="94.12" y2="224.6" stroke="#e43a3a" stroke-width="1.15" />
<line x1="100.97" y1="224.6" x2="108.28" y2="224.6" stroke="#e43a3a" stroke-width="1.15" />
<line x1="115.13" y1="224.6" x2="122.44" y2="224.6" stroke="#e43a3a" stroke-width="1.15" />
<line x1="129.29" y1="224.6" x2="136.6" y2="224.6" stroke="#e43a3a" stroke-width="1.15" />
<line x1="143.45" y1="224.6" x2="150.76" y2="224.6" stroke="#e43a3a" stroke-width="1.15" />
<line x1="157.61" y1="224.6" x2="164.92" y2="224.6" stroke="#e43a3a" stroke-width="1.15" />
<line x1="171.77" y1="224.6" x2="179.08" y2="224.6" stroke="#e43a3a" stroke-width="1.15" />
<line x1="185.93" y1="224.6" x2="193.24" y2="224.6" stroke="#e43a3a" stroke-width="1.15" />
<circle cx="43.5" cy="224.6" r="0.8" fill="#e03535" />
<circle cx="43.85" cy="224.6" r="0.8" fill="#e03535" />
<circle cx="44.21" cy="224.6" r="0.8" fill="#e03535" />
<circle cx="44.56" cy="224.6" r="0.8" fill="#e03535" />
<circle cx="44.92" cy="224.6" r="0.8" fill="#e03535" />
<circle cx="45.27" cy="224.6" r="0.8" fill="#e03535" />
<circle cx="45.62" cy="224.6" r="0.8" fill="#e03535" />
<circle cx="45.98" cy="224.6" r="0.8" fill="#e03535" />
<circle cx="46.33" cy="224.6" r="0.8" fill="#e03535" />
<circle cx="46.69" cy="224.6" r="0.8" fill="#e03535" />
<circle cx="47.04" cy="224.6" r="0.8" fill="#e03535" />
<circle cx="47.39" cy="224.6" r="0.8" fill="#e03535" />
<circle cx="47.75" cy="224.6" r="0.8" fill="#e03535" />
<circle cx="48.1" cy="224.6" r="0.8" fill="#e03535" />
<circle cx="48.46" cy="224.6" r="0.8" fill="#e03535" />
<circle cx="48.81" cy="224.6" r="0.8" fill="#e03535" />
<circle cx="49.16" cy="224.6" r="0.8" fill="#e03535" />
<circle cx="49.52" cy="224.6" r="0.8" fill="#e03535" />
<circle cx="49.87" cy="224.6" r="0.8" fill="#e03535" />
<circle cx="50.23" cy="224.6" r="0.8" fill="#e03535" />
<circle cx="50.58" cy="224.6" r="0.8" fill="#e03535" />
<circle cx="50.93" cy="224.6" r="0.8" fill="#e03535" />
<circle cx="51.29" cy="224.6" r="0.8" fill="#e03535" />
<circle cx="51.64" cy="224.6" r="0.8" fill="#e03535" />
<circle cx="52" cy="221.29" r="0.8" fill="#e03535" />
<circle cx="52.35" cy="217.97" r="0.8" fill="#e03535" />
<circle cx="52.7" cy="214.66" r="0.8" fill="#e03535" />
<circle cx="53.06" cy="211.35" r="0.8" fill="#e03535" />
<circle cx="53.41" cy="208.04" r="0.8" fill="#e03535" />
<circle cx="53.77" cy="204.72" r="0.8" fill="#e03535" />
<circle cx="54.12" cy="201.41" r="0.8" fill="#e03535" />
<circle cx="54.47" cy="198.1" r="0.8" fill="#e03535" />
<circle cx="54.83" cy="194.79" r="0.8" fill="#e03535" />
<circle cx="55.18" cy="195.74" r="0.8" fill="#e03535" />
<circle cx="55.54" cy="198.83" r="0.8" fill="#e03535" />
<circle cx="55.89" cy="201.93" r="0.8" fill="#e03535" />
<circle cx="56.24" cy="205.02" r="0.8" fill="#e03535" />
<circle cx="56.6" cy="208.11" r="0.8" fill="#e03535" />
<circle cx="56.95" cy="211.2" r="0.8" fill="#e03535" />
<circle cx="57.31" cy="214.29" r="0.8" fill="#e03535" />
<circle cx="57.66" cy="217.39" r="0.8" fill="#e03535" />
<circle cx="58.01" cy="220.48" r="0.8" fill="#e03535" />
<circle cx="58.37" cy="223.57" r="0.8" fill="#e03535" />
<circle cx="58.72" cy="224.6" r="0.8" fill="#e03535" />
<circle cx="59.08" cy="224.6" r="0.8" fill="#e03535" />
<circle cx="59.43" cy="224.6" r="0.8" fill="#e03535" />
<circle cx="59.78" cy="224.6" r="0.8" fill="#e03535" />
<circle cx="60.14" cy="224.6" r="0.8" fill="#e03535" />
<circle cx="60.49" cy="224.6" r="0.8" fill="#e03535" />
<circle cx="60.85" cy="224.6" r="0.8" fill="#e03535" />
<circle cx="61.2" cy="224.6" r="0.8" fill="#e03535" />
<circle cx="61.55" cy="224.6" r="0.8" fill="#e03535" />
<circle cx="61.91" cy="224.6" r="0.8" fill="#e03535" />
<circle cx="62.26" cy="224.6" r="0.8" fill="#e03535" />
<circle cx="62.62" cy="224.6" r="0.8" fill="#e03535" />
<circle cx="62.97" cy="224.6" r="0.8" fill="#e03535" />
<circle cx="63.32" cy="224.6" r="0.8" fill="#e03535" />
<circle cx="63.68" cy="224.6" r="0.8" fill="#e03535" />
<circle cx="64.03" cy="224.6" r="0.8" fill="#e03535" />
<circle cx="64.39" cy="224.6" r="0.8" fill="#e03535" />
<circle cx="64.74" cy="224.6" r="0.8" fill="#e03535" />
<circle cx="65.09" cy="224.6" r="0.8" fill="#e03535" />
<circle cx="65.45" cy="224.6" r="0.8" fill="#e03535" />
<circle cx="65.8" cy="224.6" r="0.8" fill="#e03535" />
<circle cx="66.16" cy="221.29" r="0.8" fill="#e03535" />
<circle cx="66.51" cy="217.97" r="0.8" fill="#e03535" />
<circle cx="66.86" cy="214.66" r="0.8" fill="#e03535" />
<circle cx="67.22" cy="211.35" r="0.8" fill="#e03535" />
<circle cx="67.57" cy="208.04" r="0.8" fill="#e03535" />
<circle cx="67.93" cy="204.72" r="0.8" fill="#e03535" />
<circle cx="68.28" cy="201.41" r="0.8" fill="#e03535" />
<circle cx="68.63" cy="198.1" r="0.8" fill="#e03535" />
<circle cx="68.99" cy="194.79" r="0.8" fill="#e03535" />
<circle cx="69.34" cy="195.74" r="0.8" fill="#e03535" />
<circle cx="69.7" cy="198.83" r="0.8" fill="#e03535" />
<circle cx="70.05" cy="201.93" r="0.8" fill="#e03535" />
<circle cx="70.4" cy="205.02" r="0.8" fill="#e03535" />
<circle cx="70.76" cy="208.11" r="0.8" fill="#e03535" />
<circle cx="71.11" cy="211.2" r="0.8" fill="#e03535" />
<circle cx="71.47" cy="214.29" r="0.8" fill="#e03535" />
<circle cx="71.82" cy="217.39" r="0.8" fill="#e03535" />
<circle cx="72.17" cy="220.48" r="0.8" fill="#e03535" />
<circle cx="72.53" cy="223.57" r="0.8" fill="#e03535" />
<circle cx="72.88" cy="224.6" r="0.8" fill="#e03535" />
<circle cx="73.24" cy="224.6" r="0.8" fill="#e03535" />
<circle cx="73.59" cy="224.6" r="0.8" fill="#e03535" />
<circle cx="73.94" cy="224.6" r="0.8" fill="#e03535" />
<circle cx="74.3" cy="224.6" r="0.8" fill="#e03535" />
<circle cx="74.65" cy="224.6" r="0.8" fill="#e03535" />
<circle cx="75.01" cy="224.6" r="0.8" fill="#e03535" />
<circle cx="75.36" cy="224.6" r="0.8" fill="#e03535" />
<circle cx="75.71" cy="224.6" r="0.8" fill="#e03535" />
<circle cx="76.07" cy="224.6" r="0.8" fill="#e03535" />
<circle cx="76.42" cy="224.6" r="0.8" fill="#e03535" />
<circle cx="76.78" cy="224.6" r="0.8" fill="#e03535" />
<circle cx="77.13" cy="224.6" r="0.8" fill="#e03535" />
<circle cx="77.48" cy="224.6" r="0.8" fill="#e03535" />
<circle cx="77.84" cy="224.6" r="0.8" fill="#e03535" />
<circle cx="78.19" cy="224.6" r="0.8" fill="#e03535" />
<circle cx="78.55" cy="224.6" r="0.8" fill="#e03535" />
<circle cx="78.9" cy="224.6" r="0.8" fill="#e03535" />
<circle cx="79.25" cy="224.6" r="0.8" fill="#e03535" />
<circle cx="79.61" cy="224.6" r="0.8" fill="#e03535" />
<circle cx="79.96" cy="224.6" r="0.8" fill="#e03535" />
<circle cx="80.32" cy="221.29" r="0.8" fill="#e03535" />
<circle cx="80.67" cy="217.97" r="0.8" fill="#e03535" />
<circle cx="81.02" cy="214.66" r="0.8" fill="#e03535" />
<circle cx="81.38" cy="211.35" r="0.8" fill="#e03535" />
<circle cx="81.73" cy="208.04" r="0.8" fill="#e03535" />
<circle cx="82.09" cy="204.72" r="0.8" fill="#e03535" />
<circle cx="82.44" cy="201.41" r="0.8" fill="#e03535" />
<circle cx="82.79" cy="198.1" r="0.8" fill="#e03535" />
<circle cx="83.15" cy="194.79" r="0.8" fill="#e03535" />
<circle cx="83.5" cy="195.74" r="0.8" fill="#e03535" />
<circle cx="83.86" cy="198.83" r="0.8" fill="#e03535" />
<circle cx="84.21" cy="201.93" r="0.8" fill="#e03535" />
<circle cx="84.56" cy="205.02" r="0.8" fill="#e03535" />
<circle cx="84.92" cy="208.11" r="0.8" fill="#e03535" />
<circle cx="85.27" cy="211.2" r="0.8" fill="#e03535" />
<circle cx="85.63" cy="214.29" r="0.8" fill="#e03535" />
<circle cx="85.98" cy="217.39" r="0.8" fill="#e03535" />
<circle cx="86.33" cy="220.48" r="0.8" fill="#e03535" />
<circle cx="86.69" cy="223.57" r="0.8" fill="#e03535" />
<circle cx="87.04" cy="224.6" r="0.8" fill="#e03535" />
<circle cx="87.4" cy="224.6" r="0.8" fill="#e03535" />
<circle cx="87.75" cy="224.6" r="0.8" fill="#e03535" />
<circle cx="88.1" cy="224.6" r="0.8" fill="#e03535" />
<circle cx="88.46" cy="224.6" r="0.8" fill="#e03535" />
<circle cx="88.81" cy="224.6" r="0.8" fill="#e03535" />
<circle cx="89.17" cy="224.6" r="0.8" fill="#e03535" />
<circle cx="89.52" cy="224.6" r="0.8" fill="#e03535" />
<circle cx="89.87" cy="224.6" r="0.8" fill="#e03535" />
<circle cx="90.23" cy="224.6" r="0.8" fill="#e03535" />
<circle cx="90.58" cy="224.6" r="0.8" fill="#e03535" />
<circle cx="90.94" cy="224.6" r="0.8" fill="#e03535" />
<circle cx="91.29" cy="224.6" r="0.8" fill="#e03535" />
<circle cx="91.64" cy="224.6" r="0.8" fill="#e03535" />
<circle cx="92" cy="224.6" r="0.8" fill="#e03535" />
<circle cx="92.35" cy="224.6" r="0.8" fill="#e03535" />
<circle cx="92.71" cy="224.6" r="0.8" fill="#e03535" />
<circle cx="93.06" cy="224.6" r="0.8" fill="#e03535" />
<circle cx="93.41" cy="224.6" r="0.8" fill="#e03535" />
<circle cx="93.77" cy="224.6" r="0.8" fill="#e03535" />
<circle cx="94.12" cy="224.6" r="0.8" fill="#e03535" />
<circle cx="94.48" cy="221.29" r="0.8" fill="#e03535" />
<circle cx="94.83" cy="217.97" r="0.8" fill="#e03535" />
<circle cx="95.18" cy="214.66" r="0.8" fill="#e03535" />
<circle cx="95.54" cy="211.35" r="0.8" fill="#e03535" />
<circle cx="95.89" cy="208.04" r="0.8" fill="#e03535" />
<circle cx="96.25" cy="204.72" r="0.8" fill="#e03535" />
<circle cx="96.6" cy="201.41" r="0.8" fill="#e03535" />
<circle cx="96.95" cy="198.1" r="0.8" fill="#e03535" />
<circle cx="97.31" cy="194.79" r="0.8" fill="#e03535" />
<circle cx="97.66" cy="195.74" r="0.8" fill="#e03535" />
<circle cx="98.02" cy="198.83" r="0.8" fill="#e03535" />
<circle cx="98.37" cy="201.93" r="0.8" fill="#e03535" />
<circle cx="98.72" cy="205.02" r="0.8" fill="#e03535" />
<circle cx="99.08" cy="208.11" r="0.8" fill="#e03535" />
<circle cx="99.43" cy="211.2" r="0.8" fill="#e03535" />
<circle cx="99.79" cy="214.29" r="0.8" fill="#e03535" />
<circle cx="100.14" cy="217.39" r="0.8" fill="#e03535" />
<circle cx="100.49" cy="220.48" r="0.8" fill="#e03535" />
<circle cx="100.85" cy="223.57" r="0.8" fill="#e03535" />
<circle cx="101.2" cy="224.6" r="0.8" fill="#e03535" />
<circle cx="101.56" cy="224.6" r="0.8" fill="#e03535" />
<circle cx="101.91" cy="224.6" r="0.8" fill="#e03535" />
<circle cx="102.26" cy="224.6" r="0.8" fill="#e03535" />
<circle cx="102.62" cy="224.6" r="0.8" fill="#e03535" />
<circle cx="102.97" cy="224.6" r="0.8" fill="#e03535" />
<circle cx="103.33" cy="224.6" r="0.8" fill="#e03535" />
<circle cx="103.68" cy="224.6" r="0.8" fill="#e03535" />
<circle cx="104.03" cy="224.6" r="0.8" fill="#e03535" />
<circle cx="104.39" cy="224.6" r="0.8" fill="#e03535" />
<circle cx="104.74" cy="224.6" r="0.8" fill="#e03535" />
<circle cx="105.1" cy="224.6" r="0.8" fill="#e03535" />
<circle cx="105.45" cy="224.6" r="0.8" fill="#e03535" />
<circle cx="105.8" cy="224.6" r="0.8" fill="#e03535" />
<circle cx="106.16" cy="224.6" r="0.8" fill="#e03535" />
<circle cx="106.51" cy="224.6" r="0.8" fill="#e03535" />
<circle cx="106.87" cy="224.6" r="0.8" fill="#e03535" />
<circle cx="107.22" cy="224.6" r="0.8" fill="#e03535" />
<circle cx="107.57" cy="224.6" r="0.8" fill="#e03535" />
<circle cx="107.93" cy="224.6" r="0.8" fill="#e03535" />
<circle cx="108.28" cy="224.6" r="0.8" fill="#e03535" />
<circle cx="108.64" cy="221.29" r="0.8" fill="#e03535" />
<circle cx="108.99" cy="217.97" r="0.8" fill="#e03535" />
<circle cx="109.34" cy="214.66" r="0.8" fill="#e03535" />
<circle cx="109.7" cy="211.35" r="0.8" fill="#e03535" />
<circle cx="110.05" cy="208.04" r="0.8" fill="#e03535" />
<circle cx="110.41" cy="204.72" r="0.8" fill="#e03535" />
<circle cx="110.76" cy="201.41" r="0.8" fill="#e03535" />
<circle cx="111.11" cy="198.1" r="0.8" fill="#e03535" />
<circle cx="111.47" cy="194.79" r="0.8" fill="#e03535" />
<circle cx="111.82" cy="195.74" r="0.8" fill="#e03535" />
<circle cx="112.18" cy="198.83" r="0.8" fill="#e03535" />
<circle cx="112.53" cy="201.93" r="0.8" fill="#e03535" />
<circle cx="112.88" cy="205.02" r="0.8" fill="#e03535" />
<circle cx="113.24" cy="208.11" r="0.8" fill="#e03535" />
<circle cx="113.59" cy="211.2" r="0.8" fill="#e03535" />
<circle cx="113.95" cy="214.29" r="0.8" fill="#e03535" />
<circle cx="114.3" cy="217.39" r="0.8" fill="#e03535" />
<circle cx="114.65" cy="220.48" r="0.8" fill="#e03535" />
<circle cx="115.01" cy="223.57" r="0.8" fill="#e03535" />
<circle cx="115.36" cy="224.6" r="0.8" fill="#e03535" />
<circle cx="115.72" cy="224.6" r="0.8" fill="#e03535" />
<circle cx="116.07" cy="224.6" r="0.8" fill="#e03535" />
<circle cx="116.42" cy="224.6" r="0.8" fill="#e03535" />
<circle cx="116.78" cy="224.6" r="0.8" fill="#e03535" />
<circle cx="117.13" cy="224.6" r="0.8" fill="#e03535" />
<circle cx="117.49" cy="224.6" r="0.8" fill="#e03535" />
<circle cx="117.84" cy="224.6" r="0.8" fill="#e03535" />
<circle cx="118.19" cy="224.6" r="0.8" fill="#e03535" />
<circle cx="118.55" cy="224.6" r="0.8" fill="#e03535" />
<circle cx="118.9" cy="224.6" r="0.8" fill="#e03535" />
<circle cx="119.26" cy="224.6" r="0.8" fill="#e03535" />
<circle cx="119.61" cy="224.6" r="0.8" fill="#e03535" />
<circle cx="119.96" cy="224.6" r="0.8" fill="#e03535" />
<circle cx="120.32" cy="224.6" r="0.8" fill="#e03535" />
<circle cx="120.67" cy="224.6" r="0.8" fill="#e03535" />
<circle cx="121.03" cy="224.6" r="0.8" fill="#e03535" />
<circle cx="121.38" cy="224.6" r="0.8" fill="#e03535" />
<circle cx="121.73" cy="224.6" r="0.8" fill="#e03535" />
<circle cx="122.09" cy="224.6" r="0.8" fill="#e03535" />
<circle cx="122.44" cy="224.6" r="0.8" fill="#e03535" />
<circle cx="122.8" cy="221.29" r="0.8" fill="#e03535" />
<circle cx="123.15" cy="217.97" r="0.8" fill="#e03535" />
<circle cx="123.5" cy="214.66" r="0.8" fill="#e03535" />
<circle cx="123.86" cy="211.35" r="0.8" fill="#e03535" />
<circle cx="124.21" cy="208.04" r="0.8" fill="#e03535" />
<circle cx="124.57" cy="204.72" r="0.8" fill="#e03535" />
<circle cx="124.92" cy="201.41" r="0.8" fill="#e03535" />
<circle cx="125.27" cy="198.1" r="0.8" fill="#e03535" />
<circle cx="125.63" cy="194.79" r="0.8" fill="#e03535" />
<circle cx="125.98" cy="195.74" r="0.8" fill="#e03535" />
<circle cx="126.34" cy="198.83" r="0.8" fill="#e03535" />
<circle cx="126.69" cy="201.93" r="0.8" fill="#e03535" />
<circle cx="127.04" cy="205.02" r="0.8" fill="#e03535" />
<circle cx="127.4" cy="208.11" r="0.8" fill="#e03535" />
<circle cx="127.75" cy="211.2" r="0.8" fill="#e03535" />
<circle cx="128.11" cy="214.29" r="0.8" fill="#e03535" />
<circle cx="128.46" cy="217.39" r="0.8" fill="#e03535" />
<circle cx="128.81" cy="220.48" r="0.8" fill="#e03535" />
<circle cx="129.17" cy="223.57" r="0.8" fill="#e03535" />
<circle cx="129.52" cy="224.6" r="0.8" fill="#e03535" />
<circle cx="129.88" cy="224.6" r="0.8" fill="#e03535" />
<circle cx="130.23" cy="224.6" r="0.8" fill="#e03535" />
<circle cx="130.58" cy="224.6" r="0.8" fill="#e03535" />
<circle cx="130.94" cy="224.6" r="0.8" fill="#e03535" />
<circle cx="131.29" cy="224.6" r="0.8" fill="#e03535" />
<circle cx="131.65" cy="224.6" r="0.8" fill="#e03535" />
<circle cx="132" cy="224.6" r="0.8" fill="#e03535" />
<circle cx="132.35" cy="224.6" r="0.8" fill="#e03535" />
<circle cx="132.71" cy="224.6" r="0.8" fill="#e03535" />
<circle cx="133.06" cy="224.6" r="0.8" fill="#e03535" />
<circle cx="133.42" cy="224.6" r="0.8" fill="#e03535" />
<circle cx="133.77" cy="224.6" r="0.8" fill="#e03535" />
<circle cx="134.12" cy="224.6" r="0.8" fill="#e03535" />
<circle cx="134.48" cy="224.6" r="0.8" fill="#e03535" />
<circle cx="134.83" cy="224.6" r="0.8" fill="#e03535" />
<circle cx="135.19" cy="224.6" r="0.8" fill="#e03535" />
<circle cx="135.54" cy="224.6" r="0.8" fill="#e03535" />
<circle cx="135.89" cy="224.6" r="0.8" fill="#e03535" />
<circle cx="136.25" cy="224.6" r="0.8" fill="#e03535" />
<circle cx="136.6" cy="224.6" r="0.8" fill="#e03535" />
<circle cx="136.96" cy="221.29" r="0.8" fill="#e03535" />
<circle cx="137.31" cy="217.97" r="0.8" fill="#e03535" />
<circle cx="137.66" cy="214.66" r="0.8" fill="#e03535" />
<circle cx="138.02" cy="211.35" r="0.8" fill="#e03535" />
<circle cx="138.37" cy="208.04" r="0.8" fill="#e03535" />
<circle cx="138.73" cy="204.72" r="0.8" fill="#e03535" />
<circle cx="139.08" cy="201.41" r="0.8" fill="#e03535" />
<circle cx="139.43" cy="198.1" r="0.8" fill="#e03535" />
<circle cx="139.79" cy="194.79" r="0.8" fill="#e03535" />
<circle cx="140.14" cy="195.74" r="0.8" fill="#e03535" />
<circle cx="140.5" cy="198.83" r="0.8" fill="#e03535" />
<circle cx="140.85" cy="201.93" r="0.8" fill="#e03535" />
<circle cx="141.2" cy="205.02" r="0.8" fill="#e03535" />
<circle cx="141.56" cy="208.11" r="0.8" fill="#e03535" />
<circle cx="141.91" cy="211.2" r="0.8" fill="#e03535" />
<circle cx="142.27" cy="214.29" r="0.8" fill="#e03535" />
<circle cx="142.62" cy="217.39" r="0.8" fill="#e03535" />
<circle cx="142.97" cy="220.48" r="0.8" fill="#e03535" />
<circle cx="143.33" cy="223.57" r="0.8" fill="#e03535" />
<circle cx="143.68" cy="224.6" r="0.8" fill="#e03535" />
<circle cx="144.04" cy="224.6" r="0.8" fill="#e03535" />
<circle cx="144.39" cy="224.6" r="0.8" fill="#e03535" />
<circle cx="144.74" cy="224.6" r="0.8" fill="#e03535" />
<circle cx="145.1" cy="224.6" r="0.8" fill="#e03535" />
<circle cx="145.45" cy="224.6" r="0.8" fill="#e03535" />
<circle cx="145.81" cy="224.6" r="0.8" fill="#e03535" />
<circle cx="146.16" cy="224.6" r="0.8" fill="#e03535" />
<circle cx="146.51" cy="224.6" r="0.8" fill="#e03535" />
<circle cx="146.87" cy="224.6" r="0.8" fill="#e03535" />
<circle cx="147.22" cy="224.6" r="0.8" fill="#e03535" />
<circle cx="147.58" cy="224.6" r="0.8" fill="#e03535" />
<circle cx="147.93" cy="224.6" r="0.8" fill="#e03535" />
<circle cx="148.28" cy="224.6" r="0.8" fill="#e03535" />
<circle cx="148.64" cy="224.6" r="0.8" fill="#e03535" />
<circle cx="148.99" cy="224.6" r="0.8" fill="#e03535" />
<circle cx="149.35" cy="224.6" r="0.8" fill="#e03535" />
<circle cx="149.7" cy="224.6" r="0.8" fill="#e03535" />
<circle cx="150.05" cy="224.6" r="0.8" fill="#e03535" />
<circle cx="150.41" cy="224.6" r="0.8" fill="#e03535" />
<circle cx="150.76" cy="224.6" r="0.8" fill="#e03535" />
<circle cx="151.12" cy="221.29" r="0.8" fill="#e03535" />
<circle cx="151.47" cy="217.97" r="0.8" fill="#e03535" />
<circle cx="151.82" cy="214.66" r="0.8" fill="#e03535" />
<circle cx="152.18" cy="211.35" r="0.8" fill="#e03535" />
<circle cx="152.53" cy="208.04" r="0.8" fill="#e03535" />
<circle cx="152.89" cy="204.72" r="0.8" fill="#e03535" />
<circle cx="153.24" cy="201.41" r="0.8" fill="#e03535" />
<circle cx="153.59" cy="198.1" r="0.8" fill="#e03535" />
<circle cx="153.95" cy="194.79" r="0.8" fill="#e03535" />
<circle cx="154.3" cy="195.74" r="0.8" fill="#e03535" />
<circle cx="154.66" cy="198.83" r="0.8" fill="#e03535" />
<circle cx="155.01" cy="201.93" r="0.8" fill="#e03535" />
<circle cx="155.36" cy="205.02" r="0.8" fill="#e03535" />
<circle cx="155.72" cy="208.11" r="0.8" fill="#e03535" />
<circle cx="156.07" cy="211.2" r="0.8" fill="#e03535" />
<circle cx="156.43" cy="214.29" r="0.8" fill="#e03535" />
<circle cx="156.78" cy="217.39" r="0.8" fill="#e03535" />
<circle cx="157.13" cy="220.48" r="0.8" fill="#e03535" />
<circle cx="157.49" cy="223.57" r="0.8" fill="#e03535" />
<circle cx="157.84" cy="224.6" r="0.8" fill="#e03535" />
<circle cx="158.2" cy="224.6" r="0.8" fill="#e03535" />
<circle cx="158.55" cy="224.6" r="0.8" fill="#e03535" />
<circle cx="158.9" cy="224.6" r="0.8" fill="#e03535" />
<circle cx="159.26" cy="224.6" r="0.8" fill="#e03535" />
<circle cx="159.61" cy="224.6" r="0.8" fill="#e03535" />
<circle cx="159.97" cy="224.6" r="0.8" fill="#e03535" />
<circle cx="160.32" cy="224.6" r="0.8" fill="#e03535" />
<circle cx="160.67" cy="224.6" r="0.8" fill="#e03535" />
<circle cx="161.03" cy="224.6" r="0.8" fill="#e03535" />
<circle cx="161.38" cy="224.6" r="0.8" fill="#e03535" />
<circle cx="161.74" cy="224.6" r="0.8" fill="#e03535" />
<circle cx="162.09" cy="224.6" r="0.8" fill="#e03535" />
<circle cx="162.44" cy="224.6" r="0.8" fill="#e03535" />
<circle cx="162.8" cy="224.6" r="0.8" fill="#e03535" />
<circle cx="163.15" cy="224.6" r="0.8" fill="#e03535" />
<circle cx="163.51" cy="224.6" r="0.8" fill="#e03535" />
<circle cx="163.86" cy="224.6" r="0.8" fill="#e03535" />
<circle cx="164.21" cy="224.6" r="0.8" fill="#e03535" />
<circle cx="164.57" cy="224.6" r="0.8" fill="#e03535" />
<circle cx="164.92" cy="224.6" r="0.8" fill="#e03535" />
<circle cx="165.28" cy="221.29" r="0.8" fill="#e03535" />
<circle cx="165.63" cy="217.97" r="0.8" fill="#e03535" />
<circle cx="165.98" cy="214.66" r="0.8" fill="#e03535" />
<circle cx="166.34" cy="211.35" r="0.8" fill="#e03535" />
<circle cx="166.69" cy="208.04" r="0.8" fill="#e03535" />
<circle cx="167.05" cy="204.72" r="0.8" fill="#e03535" />
<circle cx="167.4" cy="201.41" r="0.8" fill="#e03535" />
<circle cx="167.75" cy="198.1" r="0.8" fill="#e03535" />
<circle cx="168.11" cy="194.79" r="0.8" fill="#e03535" />
<circle cx="168.46" cy="195.74" r="0.8" fill="#e03535" />
<circle cx="168.82" cy="198.83" r="0.8" fill="#e03535" />
<circle cx="169.17" cy="201.93" r="0.8" fill="#e03535" />
<circle cx="169.52" cy="205.02" r="0.8" fill="#e03535" />
<circle cx="169.88" cy="208.11" r="0.8" fill="#e03535" />
<circle cx="170.23" cy="211.2" r="0.8" fill="#e03535" />
<circle cx="170.59" cy="214.29" r="0.8" fill="#e03535" />
<circle cx="170.94" cy="217.39" r="0.8" fill="#e03535" />
<circle cx="171.29" cy="220.48" r="0.8" fill="#e03535" />
<circle cx="171.65" cy="223.57" r="0.8" fill="#e03535" />
<circle cx="172" cy="224.6" r="0.8" fill="#e03535" />
<circle cx="172.36" cy="224.6" r="0.8" fill="#e03535" />
<circle cx="172.71" cy="224.6" r="0.8" fill="#e03535" />
<circle cx="173.06" cy="224.6" r="0.8" fill="#e03535" />
<circle cx="173.42" cy="224.6" r="0.8" fill="#e03535" />
<circle cx="173.77" cy="224.6" r="0.8" fill="#e03535" />
<circle cx="174.13" cy="224.6" r="0.8" fill="#e03535" />
<circle cx="174.48" cy="224.6" r="0.8" fill="#e03535" />
<circle cx="174.83" cy="224.6" r="0.8" fill="#e03535" />
<circle cx="175.19" cy="224.6" r="0.8" fill="#e03535" />
<circle cx="175.54" cy="224.6" r="0.8" fill="#e03535" />
<circle cx="175.9" cy="224.6" r="0.8" fill="#e03535" />
<circle cx="176.25" cy="224.6" r="0.8" fill="#e03535" />
<circle cx="176.6" cy="224.6" r="0.8" fill="#e03535" />
<circle cx="176.96" cy="224.6" r="0.8" fill="#e03535" />
<circle cx="177.31" cy="224.6" r="0.8" fill="#e03535" />
<circle cx="177.67" cy="224.6" r="0.8" fill="#e03535" />
<circle cx="178.02" cy="224.6" r="0.8" fill="#e03535" />
<circle cx="178.37" cy="224.6" r="0.8" fill="#e03535" />
<circle cx="178.73" cy="224.6" r="0.8" fill="#e03535" />
<circle cx="179.08" cy="224.6" r="0.8" fill="#e03535" />
<circle cx="179.44" cy="221.29" r="0.8" fill="#e03535" />
<circle cx="179.79" cy="217.97" r="0.8" fill="#e03535" />
<circle cx="180.14" cy="214.66" r="0.8" fill="#e03535" />
<circle cx="180.5" cy="211.35" r="0.8" fill="#e03535" />
<circle cx="180.85" cy="208.04" r="0.8" fill="#e03535" />
<circle cx="181.21" cy="204.72" r="0.8" fill="#e03535" />
<circle cx="181.56" cy="201.41" r="0.8" fill="#e03535" />
<circle cx="181.91" cy="198.1" r="0.8" fill="#e03535" />
<circle cx="182.27" cy="194.79" r="0.8" fill="#e03535" />
<circle cx="182.62" cy="195.74" r="0.8" fill="#e03535" />
<circle cx="182.98" cy="198.83" r="0.8" fill="#e03535" />
<circle cx="183.33" cy="201.93" r="0.8" fill="#e03535" />
<circle cx="183.68" cy="205.02" r="0.8" fill="#e03535" />
<circle cx="184.04" cy="208.11" r="0.8" fill="#e03535" />
<circle cx="184.39" cy="211.2" r="0.8" fill="#e03535" />
<circle cx="184.75" cy="214.29" r="0.8" fill="#e03535" />
<circle cx="185.1" cy="217.39" r="0.8" fill="#e03535" />
<circle cx="185.45" cy="220.48" r="0.8" fill="#e03535" />
<circle cx="185.81" cy="223.57" r="0.8" fill="#e03535" />
<circle cx="186.16" cy="224.6" r="0.8" fill="#e03535" />
<circle cx="186.52" cy="224.6" r="0.8" fill="#e03535" />
<circle cx="186.87" cy="224.6" r="0.8" fill="#e03535" />
<circle cx="187.22" cy="224.6" r="0.8" fill="#e03535" />
<circle cx="187.58" cy="224.6" r="0.8" fill="#e03535" />
<circle cx="187.93" cy="224.6" r="0.8" fill="#e03535" />
<circle cx="188.29" cy="224.6" r="0.8" fill="#e03535" />
<circle cx="188.64" cy="224.6" r="0.8" fill="#e03535" />
<circle cx="188.99" cy="224.6" r="0.8" fill="#e03535" />
<circle cx="189.35" cy="224.6" r="0.8" fill="#e03535" />
<circle cx="189.7" cy="224.6" r="0.8" fill="#e03535" />
<circle cx="190.06" cy="224.6" r="0.8" fill="#e03535" />
<circle cx="190.41" cy="224.6" r="0.8" fill="#e03535" />
<circle cx="190.76" cy="224.6" r="0.8" fill="#e03535" />
<circle cx="191.12" cy="224.6" r="0.8" fill="#e03535" />
<circle cx="191.47" cy="224.6" r="0.8" fill="#e03535" />
<circle cx="191.83" cy="224.6" r="0.8" fill="#e03535" />
<circle cx="192.18" cy="224.6" r="0.8" fill="#e03535" />
<circle cx="192.53" cy="224.6" r="0.8" fill="#e03535" />
<circle cx="192.89" cy="224.6" r="0.8" fill="#e03535" />
<circle cx="193.24" cy="224.6" r="0.8" fill="#e03535" />
<circle cx="193.6" cy="224.6" r="0.8" fill="#e03535" />
<circle cx="193.95" cy="224.6" r="0.8" fill="#e03535" />
<circle cx="194.3" cy="224.6" r="0.8" fill="#e03535" />
<circle cx="194.66" cy="224.6" r="0.8" fill="#e03535" />
<circle cx="195.01" cy="224.6" r="0.8" fill="#e03535" />
<circle cx="195.37" cy="224.6" r="0.8" fill="#e03535" />
<circle cx="195.72" cy="224.6" r="0.8" fill="#e03535" />
<circle cx="196.07" cy="224.6" r="0.8" fill="#e03535" />
<circle cx="196.43" cy="224.6" r="0.8" fill="#e03535" />
<circle cx="196.78" cy="224.6" r="0.8" fill="#e03535" />
<circle cx="43.5" cy="265.78" r="0.85" fill="#2ee62e" />
<circle cx="44" cy="265.78" r="0.85" fill="#2ee62e" />
<circle cx="44.49" cy="265.78" r="0.85" fill="#2ee62e" />
<circle cx="44.99" cy="265.78" r="0.85" fill="#2ee62e" />
<circle cx="45.48" cy="265.78" r="0.85" fill="#2ee62e" />
<circle cx="45.98" cy="265.78" r="0.85" fill="#2ee62e" />
<circle cx="46.47" cy="265.78" r="0.85" fill="#2ee62e" />
<circle cx="46.97" cy="265.78" r="0.85" fill="#2ee62e" />
<circle cx="47.46" cy="265.78" r="0.85" fill="#2ee62e" />
<circle cx="47.96" cy="265.78" r="0.85" fill="#2ee62e" />
<circle cx="48.46" cy="265.78" r="0.85" fill="#2ee62e" />
<circle cx="48.95" cy="265.78" r="0.85" fill="#2ee62e" />
<circle cx="49.45" cy="265.78" r="0.85" fill="#2ee62e" />
<circle cx="49.94" cy="265.78" r="0.85" fill="#2ee62e" />
<circle cx="50.44" cy="265.78" r="0.85" fill="#2ee62e" />
<circle cx="50.93" cy="265.78" r="0.85" fill="#2ee62e" />
<circle cx="51.43" cy="265.78" r="0.85" fill="#2ee62e" />
<circle cx="51.93" cy="265.78" r="0.85" fill="#2ee62e" />
<circle cx="52.42" cy="265.78" r="0.85" fill="#2ee62e" />
<circle cx="52.92" cy="264.09" r="0.85" fill="#2ee62e" />
<circle cx="53.41" cy="259.02" r="0.85" fill="#2ee62e" />
<circle cx="53.91" cy="253.34" r="0.85" fill="#2ee62e" />
<circle cx="54.4" cy="247.29" r="0.85" fill="#2ee62e" />
<circle cx="54.9" cy="240.96" r="0.85" fill="#2ee62e" />
<circle cx="55.39" cy="234.41" r="0.85" fill="#2ee62e" />
<circle cx="55.89" cy="239.24" r="0.85" fill="#2ee62e" />
<circle cx="56.39" cy="243.19" r="0.85" fill="#2ee62e" />
<circle cx="56.88" cy="246.12" r="0.85" fill="#2ee62e" />
<circle cx="57.38" cy="248.34" r="0.85" fill="#2ee62e" />
<circle cx="57.87" cy="250.07" r="0.85" fill="#2ee62e" />
<circle cx="58.37" cy="251.44" r="0.85" fill="#2ee62e" />
<circle cx="58.86" cy="252.57" r="0.85" fill="#2ee62e" />
<circle cx="59.36" cy="253.5" r="0.85" fill="#2ee62e" />
<circle cx="59.85" cy="254.29" r="0.85" fill="#2ee62e" />
<circle cx="60.35" cy="254.97" r="0.85" fill="#2ee62e" />
<circle cx="60.85" cy="255.55" r="0.85" fill="#2ee62e" />
<circle cx="61.34" cy="256.07" r="0.85" fill="#2ee62e" />
<circle cx="61.84" cy="256.52" r="0.85" fill="#2ee62e" />
<circle cx="62.33" cy="256.93" r="0.85" fill="#2ee62e" />
<circle cx="62.83" cy="257.28" r="0.85" fill="#2ee62e" />
<circle cx="63.32" cy="257.6" r="0.85" fill="#2ee62e" />
<circle cx="63.82" cy="257.89" r="0.85" fill="#2ee62e" />
<circle cx="64.32" cy="258.15" r="0.85" fill="#2ee62e" />
<circle cx="64.81" cy="258.38" r="0.85" fill="#2ee62e" />
<circle cx="65.31" cy="258.59" r="0.85" fill="#2ee62e" />
<circle cx="65.8" cy="258.77" r="0.85" fill="#2ee62e" />
<circle cx="66.3" cy="258.94" r="0.85" fill="#2ee62e" />
<circle cx="66.79" cy="259.09" r="0.85" fill="#2ee62e" />
<circle cx="67.29" cy="256.6" r="0.85" fill="#2ee62e" />
<circle cx="67.78" cy="253.01" r="0.85" fill="#2ee62e" />
<circle cx="68.28" cy="249.09" r="0.85" fill="#2ee62e" />
<circle cx="68.78" cy="244.96" r="0.85" fill="#2ee62e" />
<circle cx="69.27" cy="240.67" r="0.85" fill="#2ee62e" />
<circle cx="69.77" cy="239.91" r="0.85" fill="#2ee62e" />
<circle cx="70.26" cy="244.06" r="0.85" fill="#2ee62e" />
<circle cx="70.76" cy="247.09" r="0.85" fill="#2ee62e" />
<circle cx="71.25" cy="249.36" r="0.85" fill="#2ee62e" />
<circle cx="71.75" cy="251.1" r="0.85" fill="#2ee62e" />
<circle cx="72.24" cy="252.47" r="0.85" fill="#2ee62e" />
<circle cx="72.74" cy="253.57" r="0.85" fill="#2ee62e" />
<circle cx="73.24" cy="254.47" r="0.85" fill="#2ee62e" />
<circle cx="73.73" cy="255.23" r="0.85" fill="#2ee62e" />
<circle cx="74.23" cy="255.88" r="0.85" fill="#2ee62e" />
<circle cx="74.72" cy="256.44" r="0.85" fill="#2ee62e" />
<circle cx="75.22" cy="256.92" r="0.85" fill="#2ee62e" />
<circle cx="75.71" cy="257.35" r="0.85" fill="#2ee62e" />
<circle cx="76.21" cy="257.73" r="0.85" fill="#2ee62e" />
<circle cx="76.71" cy="258.06" r="0.85" fill="#2ee62e" />
<circle cx="77.2" cy="258.36" r="0.85" fill="#2ee62e" />
<circle cx="77.7" cy="258.63" r="0.85" fill="#2ee62e" />
<circle cx="78.19" cy="258.87" r="0.85" fill="#2ee62e" />
<circle cx="78.69" cy="259.08" r="0.85" fill="#2ee62e" />
<circle cx="79.18" cy="259.27" r="0.85" fill="#2ee62e" />
<circle cx="79.68" cy="259.45" r="0.85" fill="#2ee62e" />
<circle cx="80.17" cy="259.6" r="0.85" fill="#2ee62e" />
<circle cx="80.67" cy="259.74" r="0.85" fill="#2ee62e" />
<circle cx="81.17" cy="259.23" r="0.85" fill="#2ee62e" />
<circle cx="81.66" cy="256.41" r="0.85" fill="#2ee62e" />
<circle cx="82.16" cy="253.2" r="0.85" fill="#2ee62e" />
<circle cx="82.65" cy="249.76" r="0.85" fill="#2ee62e" />
<circle cx="83.15" cy="246.16" r="0.85" fill="#2ee62e" />
<circle cx="83.64" cy="242.43" r="0.85" fill="#2ee62e" />
<circle cx="84.14" cy="245.03" r="0.85" fill="#2ee62e" />
<circle cx="84.63" cy="248.09" r="0.85" fill="#2ee62e" />
<circle cx="85.13" cy="250.36" r="0.85" fill="#2ee62e" />
<circle cx="85.63" cy="252.07" r="0.85" fill="#2ee62e" />
<circle cx="86.12" cy="253.39" r="0.85" fill="#2ee62e" />
<circle cx="86.62" cy="254.45" r="0.85" fill="#2ee62e" />
<circle cx="87.11" cy="255.3" r="0.85" fill="#2ee62e" />
<circle cx="87.61" cy="256.01" r="0.85" fill="#2ee62e" />
<circle cx="88.1" cy="256.61" r="0.85" fill="#2ee62e" />
<circle cx="88.6" cy="257.13" r="0.85" fill="#2ee62e" />
<circle cx="89.1" cy="257.57" r="0.85" fill="#2ee62e" />
<circle cx="89.59" cy="257.96" r="0.85" fill="#2ee62e" />
<circle cx="90.09" cy="258.3" r="0.85" fill="#2ee62e" />
<circle cx="90.58" cy="258.61" r="0.85" fill="#2ee62e" />
<circle cx="91.08" cy="258.88" r="0.85" fill="#2ee62e" />
<circle cx="91.57" cy="259.12" r="0.85" fill="#2ee62e" />
<circle cx="92.07" cy="259.34" r="0.85" fill="#2ee62e" />
<circle cx="92.56" cy="259.53" r="0.85" fill="#2ee62e" />
<circle cx="93.06" cy="259.7" r="0.85" fill="#2ee62e" />
<circle cx="93.56" cy="259.86" r="0.85" fill="#2ee62e" />
<circle cx="94.05" cy="260" r="0.85" fill="#2ee62e" />
<circle cx="94.55" cy="260.13" r="0.85" fill="#2ee62e" />
<circle cx="95.04" cy="260.24" r="0.85" fill="#2ee62e" />
<circle cx="95.54" cy="258.49" r="0.85" fill="#2ee62e" />
<circle cx="96.03" cy="255.39" r="0.85" fill="#2ee62e" />
<circle cx="96.53" cy="251.99" r="0.85" fill="#2ee62e" />
<circle cx="97.02" cy="248.39" r="0.85" fill="#2ee62e" />
<circle cx="97.52" cy="244.65" r="0.85" fill="#2ee62e" />
<circle cx="98.02" cy="242.81" r="0.85" fill="#2ee62e" />
<circle cx="98.51" cy="246.57" r="0.85" fill="#2ee62e" />
<circle cx="99.01" cy="249.32" r="0.85" fill="#2ee62e" />
<circle cx="99.5" cy="251.37" r="0.85" fill="#2ee62e" />
<circle cx="100" cy="252.93" r="0.85" fill="#2ee62e" />
<circle cx="100.49" cy="254.16" r="0.85" fill="#2ee62e" />
<circle cx="100.99" cy="255.14" r="0.85" fill="#2ee62e" />
<circle cx="101.49" cy="255.95" r="0.85" fill="#2ee62e" />
<circle cx="101.98" cy="256.62" r="0.85" fill="#2ee62e" />
<circle cx="102.48" cy="257.2" r="0.85" fill="#2ee62e" />
<circle cx="102.97" cy="257.69" r="0.85" fill="#2ee62e" />
<circle cx="103.47" cy="258.12" r="0.85" fill="#2ee62e" />
<circle cx="103.96" cy="258.5" r="0.85" fill="#2ee62e" />
<circle cx="104.46" cy="258.83" r="0.85" fill="#2ee62e" />
<circle cx="104.95" cy="259.13" r="0.85" fill="#2ee62e" />
<circle cx="105.45" cy="259.39" r="0.85" fill="#2ee62e" />
<circle cx="105.95" cy="259.63" r="0.85" fill="#2ee62e" />
<circle cx="106.44" cy="259.84" r="0.85" fill="#2ee62e" />
<circle cx="106.94" cy="260.03" r="0.85" fill="#2ee62e" />
<circle cx="107.43" cy="260.2" r="0.85" fill="#2ee62e" />
<circle cx="107.93" cy="260.35" r="0.85" fill="#2ee62e" />
<circle cx="108.42" cy="260.49" r="0.85" fill="#2ee62e" />
<circle cx="108.92" cy="260.61" r="0.85" fill="#2ee62e" />
<circle cx="109.41" cy="260.44" r="0.85" fill="#2ee62e" />
<circle cx="109.91" cy="257.76" r="0.85" fill="#2ee62e" />
<circle cx="110.41" cy="254.64" r="0.85" fill="#2ee62e" />
<circle cx="110.9" cy="251.29" r="0.85" fill="#2ee62e" />
<circle cx="111.4" cy="247.77" r="0.85" fill="#2ee62e" />
<circle cx="111.89" cy="244.11" r="0.85" fill="#2ee62e" />
<circle cx="112.39" cy="245.67" r="0.85" fill="#2ee62e" />
<circle cx="112.88" cy="248.87" r="0.85" fill="#2ee62e" />
<circle cx="113.38" cy="251.23" r="0.85" fill="#2ee62e" />
<circle cx="113.88" cy="253.01" r="0.85" fill="#2ee62e" />
<circle cx="114.37" cy="254.38" r="0.85" fill="#2ee62e" />
<circle cx="114.87" cy="255.47" r="0.85" fill="#2ee62e" />
<circle cx="115.36" cy="256.35" r="0.85" fill="#2ee62e" />
<circle cx="115.86" cy="257.08" r="0.85" fill="#2ee62e" />
<circle cx="116.35" cy="257.69" r="0.85" fill="#2ee62e" />
<circle cx="116.85" cy="258.22" r="0.85" fill="#2ee62e" />
<circle cx="117.34" cy="258.67" r="0.85" fill="#2ee62e" />
<circle cx="117.84" cy="259.07" r="0.85" fill="#2ee62e" />
<circle cx="118.34" cy="259.42" r="0.85" fill="#2ee62e" />
<circle cx="118.83" cy="259.73" r="0.85" fill="#2ee62e" />
<circle cx="119.33" cy="260" r="0.85" fill="#2ee62e" />
<circle cx="119.82" cy="260.25" r="0.85" fill="#2ee62e" />
<circle cx="120.32" cy="260.47" r="0.85" fill="#2ee62e" />
<circle cx="120.81" cy="260.66" r="0.85" fill="#2ee62e" />
<circle cx="121.31" cy="260.84" r="0.85" fill="#2ee62e" />
<circle cx="121.8" cy="261" r="0.85" fill="#2ee62e" />
<circle cx="122.3" cy="261.14" r="0.85" fill="#2ee62e" />
<circle cx="122.8" cy="261.27" r="0.85" fill="#2ee62e" />
<circle cx="123.29" cy="261.38" r="0.85" fill="#2ee62e" />
<circle cx="123.79" cy="260.19" r="0.85" fill="#2ee62e" />
<circle cx="124.28" cy="257.46" r="0.85" fill="#2ee62e" />
<circle cx="124.78" cy="254.44" r="0.85" fill="#2ee62e" />
<circle cx="125.27" cy="251.23" r="0.85" fill="#2ee62e" />
<circle cx="125.77" cy="247.88" r="0.85" fill="#2ee62e" />
<circle cx="126.27" cy="245.17" r="0.85" fill="#2ee62e" />
<circle cx="126.76" cy="248.78" r="0.85" fill="#2ee62e" />
<circle cx="127.26" cy="251.41" r="0.85" fill="#2ee62e" />
<circle cx="127.75" cy="253.36" r="0.85" fill="#2ee62e" />
<circle cx="128.25" cy="254.85" r="0.85" fill="#2ee62e" />
<circle cx="128.74" cy="256.01" r="0.85" fill="#2ee62e" />
<circle cx="129.24" cy="256.94" r="0.85" fill="#2ee62e" />
<circle cx="129.73" cy="257.7" r="0.85" fill="#2ee62e" />
<circle cx="130.23" cy="258.34" r="0.85" fill="#2ee62e" />
<circle cx="130.73" cy="258.87" r="0.85" fill="#2ee62e" />
<circle cx="131.22" cy="259.33" r="0.85" fill="#2ee62e" />
<circle cx="131.72" cy="259.73" r="0.85" fill="#2ee62e" />
<circle cx="132.21" cy="260.09" r="0.85" fill="#2ee62e" />
<circle cx="132.71" cy="260.4" r="0.85" fill="#2ee62e" />
<circle cx="133.2" cy="260.67" r="0.85" fill="#2ee62e" />
<circle cx="133.7" cy="260.92" r="0.85" fill="#2ee62e" />
<circle cx="134.19" cy="261.14" r="0.85" fill="#2ee62e" />
<circle cx="134.69" cy="261.33" r="0.85" fill="#2ee62e" />
<circle cx="135.19" cy="261.51" r="0.85" fill="#2ee62e" />
<circle cx="135.68" cy="261.67" r="0.85" fill="#2ee62e" />
<circle cx="136.18" cy="261.81" r="0.85" fill="#2ee62e" />
<circle cx="136.67" cy="261.94" r="0.85" fill="#2ee62e" />
<circle cx="137.17" cy="262.05" r="0.85" fill="#2ee62e" />
<circle cx="137.66" cy="262.15" r="0.85" fill="#2ee62e" />
<circle cx="138.16" cy="259.9" r="0.85" fill="#2ee62e" />
<circle cx="138.66" cy="257.15" r="0.85" fill="#2ee62e" />
<circle cx="139.15" cy="254.17" r="0.85" fill="#2ee62e" />
<circle cx="139.65" cy="251.04" r="0.85" fill="#2ee62e" />
<circle cx="140.14" cy="247.79" r="0.85" fill="#2ee62e" />
<circle cx="140.64" cy="248.14" r="0.85" fill="#2ee62e" />
<circle cx="141.13" cy="251.02" r="0.85" fill="#2ee62e" />
<circle cx="141.63" cy="253.14" r="0.85" fill="#2ee62e" />
<circle cx="142.12" cy="254.73" r="0.85" fill="#2ee62e" />
<circle cx="142.62" cy="255.95" r="0.85" fill="#2ee62e" />
<circle cx="143.12" cy="256.91" r="0.85" fill="#2ee62e" />
<circle cx="143.61" cy="257.69" r="0.85" fill="#2ee62e" />
<circle cx="144.11" cy="258.33" r="0.85" fill="#2ee62e" />
<circle cx="144.6" cy="258.87" r="0.85" fill="#2ee62e" />
<circle cx="145.1" cy="259.33" r="0.85" fill="#2ee62e" />
<circle cx="145.59" cy="259.73" r="0.85" fill="#2ee62e" />
<circle cx="146.09" cy="260.08" r="0.85" fill="#2ee62e" />
<circle cx="146.58" cy="260.39" r="0.85" fill="#2ee62e" />
<circle cx="147.08" cy="260.66" r="0.85" fill="#2ee62e" />
<circle cx="147.58" cy="260.9" r="0.85" fill="#2ee62e" />
<circle cx="148.07" cy="261.11" r="0.85" fill="#2ee62e" />
<circle cx="148.57" cy="261.3" r="0.85" fill="#2ee62e" />
<circle cx="149.06" cy="261.47" r="0.85" fill="#2ee62e" />
<circle cx="149.56" cy="261.63" r="0.85" fill="#2ee62e" />
<circle cx="150.05" cy="261.77" r="0.85" fill="#2ee62e" />
<circle cx="150.55" cy="261.89" r="0.85" fill="#2ee62e" />
<circle cx="151.05" cy="262" r="0.85" fill="#2ee62e" />
<circle cx="151.54" cy="262.1" r="0.85" fill="#2ee62e" />
<circle cx="152.04" cy="261.26" r="0.85" fill="#2ee62e" />
<circle cx="152.53" cy="258.6" r="0.85" fill="#2ee62e" />
<circle cx="153.03" cy="255.61" r="0.85" fill="#2ee62e" />
<circle cx="153.52" cy="252.42" r="0.85" fill="#2ee62e" />
<circle cx="154.02" cy="249.09" r="0.85" fill="#2ee62e" />
<circle cx="154.51" cy="245.65" r="0.85" fill="#2ee62e" />
<circle cx="155.01" cy="249.06" r="0.85" fill="#2ee62e" />
<circle cx="155.51" cy="251.81" r="0.85" fill="#2ee62e" />
<circle cx="156" cy="253.84" r="0.85" fill="#2ee62e" />
<circle cx="156.5" cy="255.39" r="0.85" fill="#2ee62e" />
<circle cx="156.99" cy="256.59" r="0.85" fill="#2ee62e" />
<circle cx="157.49" cy="257.55" r="0.85" fill="#2ee62e" />
<circle cx="157.98" cy="258.33" r="0.85" fill="#2ee62e" />
<circle cx="158.48" cy="258.98" r="0.85" fill="#2ee62e" />
<circle cx="158.97" cy="259.53" r="0.85" fill="#2ee62e" />
<circle cx="159.47" cy="260" r="0.85" fill="#2ee62e" />
<circle cx="159.97" cy="260.41" r="0.85" fill="#2ee62e" />
<circle cx="160.46" cy="260.76" r="0.85" fill="#2ee62e" />
<circle cx="160.96" cy="261.08" r="0.85" fill="#2ee62e" />
<circle cx="161.45" cy="261.36" r="0.85" fill="#2ee62e" />
<circle cx="161.95" cy="261.61" r="0.85" fill="#2ee62e" />
<circle cx="162.44" cy="261.83" r="0.85" fill="#2ee62e" />
<circle cx="162.94" cy="262.03" r="0.85" fill="#2ee62e" />
<circle cx="163.44" cy="262.21" r="0.85" fill="#2ee62e" />
<circle cx="163.93" cy="262.37" r="0.85" fill="#2ee62e" />
<circle cx="164.43" cy="262.52" r="0.85" fill="#2ee62e" />
<circle cx="164.92" cy="262.64" r="0.85" fill="#2ee62e" />
<circle cx="165.42" cy="262.76" r="0.85" fill="#2ee62e" />
<circle cx="165.91" cy="262.87" r="0.85" fill="#2ee62e" />
<circle cx="166.41" cy="261.06" r="0.85" fill="#2ee62e" />
<circle cx="166.9" cy="258.45" r="0.85" fill="#2ee62e" />
<circle cx="167.4" cy="255.61" r="0.85" fill="#2ee62e" />
<circle cx="167.9" cy="252.61" r="0.85" fill="#2ee62e" />
<circle cx="168.39" cy="249.49" r="0.85" fill="#2ee62e" />
<circle cx="168.89" cy="248.9" r="0.85" fill="#2ee62e" />
<circle cx="169.38" cy="251.81" r="0.85" fill="#2ee62e" />
<circle cx="169.88" cy="253.93" r="0.85" fill="#2ee62e" />
<circle cx="170.37" cy="255.53" r="0.85" fill="#2ee62e" />
<circle cx="170.87" cy="256.75" r="0.85" fill="#2ee62e" />
<circle cx="171.36" cy="257.71" r="0.85" fill="#2ee62e" />
<circle cx="171.86" cy="258.48" r="0.85" fill="#2ee62e" />
<circle cx="172.36" cy="259.12" r="0.85" fill="#2ee62e" />
<circle cx="172.85" cy="259.65" r="0.85" fill="#2ee62e" />
<circle cx="173.35" cy="260.1" r="0.85" fill="#2ee62e" />
<circle cx="173.84" cy="260.49" r="0.85" fill="#2ee62e" />
<circle cx="174.34" cy="260.84" r="0.85" fill="#2ee62e" />
<circle cx="174.83" cy="261.13" r="0.85" fill="#2ee62e" />
<circle cx="175.33" cy="261.4" r="0.85" fill="#2ee62e" />
<circle cx="175.83" cy="261.64" r="0.85" fill="#2ee62e" />
<circle cx="176.32" cy="261.85" r="0.85" fill="#2ee62e" />
<circle cx="176.82" cy="262.03" r="0.85" fill="#2ee62e" />
<circle cx="177.31" cy="262.2" r="0.85" fill="#2ee62e" />
<circle cx="177.81" cy="262.35" r="0.85" fill="#2ee62e" />
<circle cx="178.3" cy="262.49" r="0.85" fill="#2ee62e" />
<circle cx="178.8" cy="262.61" r="0.85" fill="#2ee62e" />
<circle cx="179.29" cy="262.72" r="0.85" fill="#2ee62e" />
<circle cx="179.79" cy="262.82" r="0.85" fill="#2ee62e" />
<circle cx="180.29" cy="262.4" r="0.85" fill="#2ee62e" />
<circle cx="180.78" cy="260.17" r="0.85" fill="#2ee62e" />
<circle cx="181.28" cy="257.62" r="0.85" fill="#2ee62e" />
<circle cx="181.77" cy="254.9" r="0.85" fill="#2ee62e" />
<circle cx="182.27" cy="252.05" r="0.85" fill="#2ee62e" />
<circle cx="182.76" cy="249.1" r="0.85" fill="#2ee62e" />
<circle cx="183.26" cy="251.29" r="0.85" fill="#2ee62e" />
<circle cx="183.75" cy="253.84" r="0.85" fill="#2ee62e" />
<circle cx="184.25" cy="255.71" r="0.85" fill="#2ee62e" />
<circle cx="184.75" cy="257.12" r="0.85" fill="#2ee62e" />
<circle cx="185.24" cy="258.21" r="0.85" fill="#2ee62e" />
<circle cx="185.74" cy="259.08" r="0.85" fill="#2ee62e" />
<circle cx="186.23" cy="259.78" r="0.85" fill="#2ee62e" />
<circle cx="186.73" cy="260.35" r="0.85" fill="#2ee62e" />
<circle cx="187.22" cy="260.84" r="0.85" fill="#2ee62e" />
<circle cx="187.72" cy="261.26" r="0.85" fill="#2ee62e" />
<circle cx="188.22" cy="261.62" r="0.85" fill="#2ee62e" />
<circle cx="188.71" cy="261.93" r="0.85" fill="#2ee62e" />
<circle cx="189.21" cy="262.21" r="0.85" fill="#2ee62e" />
<circle cx="189.7" cy="262.45" r="0.85" fill="#2ee62e" />
<circle cx="190.2" cy="262.67" r="0.85" fill="#2ee62e" />
<circle cx="190.69" cy="262.87" r="0.85" fill="#2ee62e" />
<circle cx="191.19" cy="263.04" r="0.85" fill="#2ee62e" />
<circle cx="191.68" cy="263.2" r="0.85" fill="#2ee62e" />
<circle cx="192.18" cy="263.34" r="0.85" fill="#2ee62e" />
<circle cx="192.68" cy="263.46" r="0.85" fill="#2ee62e" />
<circle cx="193.17" cy="263.58" r="0.85" fill="#2ee62e" />
<circle cx="193.67" cy="263.68" r="0.85" fill="#2ee62e" />
<circle cx="194.16" cy="263.77" r="0.85" fill="#2ee62e" />
<circle cx="194.66" cy="263.85" r="0.85" fill="#2ee62e" />
<circle cx="195.15" cy="263.92" r="0.85" fill="#2ee62e" />
<circle cx="195.65" cy="263.99" r="0.85" fill="#2ee62e" />
<circle cx="196.14" cy="264.05" r="0.85" fill="#2ee62e" />
<circle cx="196.64" cy="264.1" r="0.85" fill="#2ee62e" />
<circle cx="43.5" cy="300" r="0.58" fill="#111" />
<circle cx="44" cy="300" r="0.58" fill="#111" />
<circle cx="44.49" cy="300" r="0.58" fill="#111" />
<circle cx="44.99" cy="300" r="0.58" fill="#111" />
<circle cx="45.48" cy="300" r="0.58" fill="#111" />
<circle cx="45.98" cy="300" r="0.58" fill="#111" />
<circle cx="46.47" cy="300" r="0.58" fill="#111" />
<circle cx="46.97" cy="300" r="0.58" fill="#111" />
<circle cx="47.46" cy="300" r="0.58" fill="#111" />
<circle cx="47.96" cy="300" r="0.58" fill="#111" />
<circle cx="48.46" cy="300" r="0.58" fill="#111" />
<circle cx="48.95" cy="300" r="0.58" fill="#111" />
<circle cx="49.45" cy="300" r="0.58" fill="#111" />
<circle cx="49.94" cy="300" r="0.58" fill="#111" />
<circle cx="50.44" cy="300" r="0.58" fill="#111" />
<circle cx="50.93" cy="300" r="0.58" fill="#111" />
<circle cx="51.43" cy="300" r="0.58" fill="#111" />
<circle cx="51.93" cy="300" r="0.58" fill="#111" />
<circle cx="52.42" cy="300" r="0.58" fill="#111" />
<circle cx="52.92" cy="298.95" r="0.58" fill="#111" />
<circle cx="53.41" cy="295.78" r="0.58" fill="#111" />
<circle cx="53.91" cy="292.23" r="0.58" fill="#111" />
<circle cx="54.4" cy="288.45" r="0.58" fill="#111" />
<circle cx="54.9" cy="284.5" r="0.58" fill="#111" />
<circle cx="55.39" cy="280.41" r="0.58" fill="#111" />
<circle cx="55.89" cy="285.02" r="0.58" fill="#111" />
<circle cx="56.39" cy="288.26" r="0.58" fill="#111" />
<circle cx="56.88" cy="290.36" r="0.58" fill="#111" />
<circle cx="57.38" cy="291.79" r="0.58" fill="#111" />
<circle cx="57.87" cy="292.8" r="0.58" fill="#111" />
<circle cx="58.37" cy="293.56" r="0.58" fill="#111" />
<circle cx="58.86" cy="294.15" r="0.58" fill="#111" />
<circle cx="59.36" cy="294.63" r="0.58" fill="#111" />
<circle cx="59.85" cy="295.05" r="0.58" fill="#111" />
<circle cx="60.35" cy="295.41" r="0.58" fill="#111" />
<circle cx="60.85" cy="295.74" r="0.58" fill="#111" />
<circle cx="61.34" cy="296.03" r="0.58" fill="#111" />
<circle cx="61.84" cy="296.3" r="0.58" fill="#111" />
<circle cx="62.33" cy="296.55" r="0.58" fill="#111" />
<circle cx="62.83" cy="296.78" r="0.58" fill="#111" />
<circle cx="63.32" cy="297" r="0.58" fill="#111" />
<circle cx="63.82" cy="297.2" r="0.58" fill="#111" />
<circle cx="64.32" cy="297.38" r="0.58" fill="#111" />
<circle cx="64.81" cy="297.56" r="0.58" fill="#111" />
<circle cx="65.31" cy="297.72" r="0.58" fill="#111" />
<circle cx="65.8" cy="297.87" r="0.58" fill="#111" />
<circle cx="66.3" cy="298.01" r="0.58" fill="#111" />
<circle cx="66.79" cy="298.14" r="0.58" fill="#111" />
<circle cx="67.29" cy="296.31" r="0.58" fill="#111" />
<circle cx="67.78" cy="293.67" r="0.58" fill="#111" />
<circle cx="68.28" cy="290.8" r="0.58" fill="#111" />
<circle cx="68.78" cy="287.77" r="0.58" fill="#111" />
<circle cx="69.27" cy="284.62" r="0.58" fill="#111" />
<circle cx="69.77" cy="284.53" r="0.58" fill="#111" />
<circle cx="70.26" cy="288.2" r="0.58" fill="#111" />
<circle cx="70.76" cy="290.55" r="0.58" fill="#111" />
<circle cx="71.25" cy="292.1" r="0.58" fill="#111" />
<circle cx="71.75" cy="293.18" r="0.58" fill="#111" />
<circle cx="72.24" cy="293.95" r="0.58" fill="#111" />
<circle cx="72.74" cy="294.55" r="0.58" fill="#111" />
<circle cx="73.24" cy="295.02" r="0.58" fill="#111" />
<circle cx="73.73" cy="295.42" r="0.58" fill="#111" />
<circle cx="74.23" cy="295.76" r="0.58" fill="#111" />
<circle cx="74.72" cy="296.06" r="0.58" fill="#111" />
<circle cx="75.22" cy="296.34" r="0.58" fill="#111" />
<circle cx="75.71" cy="296.59" r="0.58" fill="#111" />
<circle cx="76.21" cy="296.81" r="0.58" fill="#111" />
<circle cx="76.71" cy="297.03" r="0.58" fill="#111" />
<circle cx="77.2" cy="297.22" r="0.58" fill="#111" />
<circle cx="77.7" cy="297.4" r="0.58" fill="#111" />
<circle cx="78.19" cy="297.57" r="0.58" fill="#111" />
<circle cx="78.69" cy="297.73" r="0.58" fill="#111" />
<circle cx="79.18" cy="297.88" r="0.58" fill="#111" />
<circle cx="79.68" cy="298.01" r="0.58" fill="#111" />
<circle cx="80.17" cy="298.14" r="0.58" fill="#111" />
<circle cx="80.67" cy="298.26" r="0.58" fill="#111" />
<circle cx="81.17" cy="297.82" r="0.58" fill="#111" />
<circle cx="81.66" cy="295.4" r="0.58" fill="#111" />
<circle cx="82.16" cy="292.65" r="0.58" fill="#111" />
<circle cx="82.65" cy="289.7" r="0.58" fill="#111" />
<circle cx="83.15" cy="286.62" r="0.58" fill="#111" />
<circle cx="83.64" cy="283.42" r="0.58" fill="#111" />
<circle cx="84.14" cy="286.46" r="0.58" fill="#111" />
<circle cx="84.63" cy="289.44" r="0.58" fill="#111" />
<circle cx="85.13" cy="291.38" r="0.58" fill="#111" />
<circle cx="85.63" cy="292.68" r="0.58" fill="#111" />
<circle cx="86.12" cy="293.59" r="0.58" fill="#111" />
<circle cx="86.62" cy="294.27" r="0.58" fill="#111" />
<circle cx="87.11" cy="294.8" r="0.58" fill="#111" />
<circle cx="87.61" cy="295.24" r="0.58" fill="#111" />
<circle cx="88.1" cy="295.6" r="0.58" fill="#111" />
<circle cx="88.6" cy="295.92" r="0.58" fill="#111" />
<circle cx="89.1" cy="296.21" r="0.58" fill="#111" />
<circle cx="89.59" cy="296.47" r="0.58" fill="#111" />
<circle cx="90.09" cy="296.7" r="0.58" fill="#111" />
<circle cx="90.58" cy="296.92" r="0.58" fill="#111" />
<circle cx="91.08" cy="297.13" r="0.58" fill="#111" />
<circle cx="91.57" cy="297.31" r="0.58" fill="#111" />
<circle cx="92.07" cy="297.49" r="0.58" fill="#111" />
<circle cx="92.56" cy="297.65" r="0.58" fill="#111" />
<circle cx="93.06" cy="297.8" r="0.58" fill="#111" />
<circle cx="93.56" cy="297.94" r="0.58" fill="#111" />
<circle cx="94.05" cy="298.07" r="0.58" fill="#111" />
<circle cx="94.55" cy="298.19" r="0.58" fill="#111" />
<circle cx="95.04" cy="298.31" r="0.58" fill="#111" />
<circle cx="95.54" cy="296.86" r="0.58" fill="#111" />
<circle cx="96.03" cy="294.3" r="0.58" fill="#111" />
<circle cx="96.53" cy="291.49" r="0.58" fill="#111" />
<circle cx="97.02" cy="288.51" r="0.58" fill="#111" />
<circle cx="97.52" cy="285.42" r="0.58" fill="#111" />
<circle cx="98.02" cy="284.19" r="0.58" fill="#111" />
<circle cx="98.51" cy="288.02" r="0.58" fill="#111" />
<circle cx="99.01" cy="290.46" r="0.58" fill="#111" />
<circle cx="99.5" cy="292.07" r="0.58" fill="#111" />
<circle cx="100" cy="293.17" r="0.58" fill="#111" />
<circle cx="100.49" cy="293.96" r="0.58" fill="#111" />
<circle cx="100.99" cy="294.56" r="0.58" fill="#111" />
<circle cx="101.49" cy="295.04" r="0.58" fill="#111" />
<circle cx="101.98" cy="295.43" r="0.58" fill="#111" />
<circle cx="102.48" cy="295.78" r="0.58" fill="#111" />
<circle cx="102.97" cy="296.08" r="0.58" fill="#111" />
<circle cx="103.47" cy="296.35" r="0.58" fill="#111" />
<circle cx="103.96" cy="296.59" r="0.58" fill="#111" />
<circle cx="104.46" cy="296.82" r="0.58" fill="#111" />
<circle cx="104.95" cy="297.03" r="0.58" fill="#111" />
<circle cx="105.45" cy="297.22" r="0.58" fill="#111" />
<circle cx="105.95" cy="297.4" r="0.58" fill="#111" />
<circle cx="106.44" cy="297.57" r="0.58" fill="#111" />
<circle cx="106.94" cy="297.72" r="0.58" fill="#111" />
<circle cx="107.43" cy="297.87" r="0.58" fill="#111" />
<circle cx="107.93" cy="298" r="0.58" fill="#111" />
<circle cx="108.42" cy="298.13" r="0.58" fill="#111" />
<circle cx="108.92" cy="298.25" r="0.58" fill="#111" />
<circle cx="109.41" cy="298.11" r="0.58" fill="#111" />
<circle cx="109.91" cy="295.81" r="0.58" fill="#111" />
<circle cx="110.41" cy="293.12" r="0.58" fill="#111" />
<circle cx="110.9" cy="290.23" r="0.58" fill="#111" />
<circle cx="111.4" cy="287.2" r="0.58" fill="#111" />
<circle cx="111.89" cy="284.05" r="0.58" fill="#111" />
<circle cx="112.39" cy="286.06" r="0.58" fill="#111" />
<circle cx="112.88" cy="289.2" r="0.58" fill="#111" />
<circle cx="113.38" cy="291.23" r="0.58" fill="#111" />
<circle cx="113.88" cy="292.59" r="0.58" fill="#111" />
<circle cx="114.37" cy="293.54" r="0.58" fill="#111" />
<circle cx="114.87" cy="294.24" r="0.58" fill="#111" />
<circle cx="115.36" cy="294.78" r="0.58" fill="#111" />
<circle cx="115.86" cy="295.22" r="0.58" fill="#111" />
<circle cx="116.35" cy="295.59" r="0.58" fill="#111" />
<circle cx="116.85" cy="295.91" r="0.58" fill="#111" />
<circle cx="117.34" cy="296.2" r="0.58" fill="#111" />
<circle cx="117.84" cy="296.45" r="0.58" fill="#111" />
<circle cx="118.34" cy="296.69" r="0.58" fill="#111" />
<circle cx="118.83" cy="296.91" r="0.58" fill="#111" />
<circle cx="119.33" cy="297.11" r="0.58" fill="#111" />
<circle cx="119.82" cy="297.3" r="0.58" fill="#111" />
<circle cx="120.32" cy="297.47" r="0.58" fill="#111" />
<circle cx="120.81" cy="297.64" r="0.58" fill="#111" />
<circle cx="121.31" cy="297.79" r="0.58" fill="#111" />
<circle cx="121.8" cy="297.93" r="0.58" fill="#111" />
<circle cx="122.3" cy="298.06" r="0.58" fill="#111" />
<circle cx="122.8" cy="298.18" r="0.58" fill="#111" />
<circle cx="123.29" cy="298.29" r="0.58" fill="#111" />
<circle cx="123.79" cy="297.18" r="0.58" fill="#111" />
<circle cx="124.28" cy="294.64" r="0.58" fill="#111" />
<circle cx="124.78" cy="291.83" r="0.58" fill="#111" />
<circle cx="125.27" cy="288.83" r="0.58" fill="#111" />
<circle cx="125.77" cy="285.71" r="0.58" fill="#111" />
<circle cx="126.27" cy="283.31" r="0.58" fill="#111" />
<circle cx="126.76" cy="287.45" r="0.58" fill="#111" />
<circle cx="127.26" cy="290.08" r="0.58" fill="#111" />
<circle cx="127.75" cy="291.8" r="0.58" fill="#111" />
<circle cx="128.25" cy="292.97" r="0.58" fill="#111" />
<circle cx="128.74" cy="293.81" r="0.58" fill="#111" />
<circle cx="129.24" cy="294.44" r="0.58" fill="#111" />
<circle cx="129.73" cy="294.94" r="0.58" fill="#111" />
<circle cx="130.23" cy="295.35" r="0.58" fill="#111" />
<circle cx="130.73" cy="295.7" r="0.58" fill="#111" />
<circle cx="131.22" cy="296.01" r="0.58" fill="#111" />
<circle cx="131.72" cy="296.29" r="0.58" fill="#111" />
<circle cx="132.21" cy="296.54" r="0.58" fill="#111" />
<circle cx="132.71" cy="296.77" r="0.58" fill="#111" />
<circle cx="133.2" cy="296.98" r="0.58" fill="#111" />
<circle cx="133.7" cy="297.18" r="0.58" fill="#111" />
<circle cx="134.19" cy="297.36" r="0.58" fill="#111" />
<circle cx="134.69" cy="297.53" r="0.58" fill="#111" />
<circle cx="135.19" cy="297.69" r="0.58" fill="#111" />
<circle cx="135.68" cy="297.84" r="0.58" fill="#111" />
<circle cx="136.18" cy="297.98" r="0.58" fill="#111" />
<circle cx="136.67" cy="298.11" r="0.58" fill="#111" />
<circle cx="137.17" cy="298.23" r="0.58" fill="#111" />
<circle cx="137.66" cy="298.34" r="0.58" fill="#111" />
<circle cx="138.16" cy="296.22" r="0.58" fill="#111" />
<circle cx="138.66" cy="293.63" r="0.58" fill="#111" />
<circle cx="139.15" cy="290.84" r="0.58" fill="#111" />
<circle cx="139.65" cy="287.9" r="0.58" fill="#111" />
<circle cx="140.14" cy="284.84" r="0.58" fill="#111" />
<circle cx="140.64" cy="285.82" r="0.58" fill="#111" />
<circle cx="141.13" cy="289.13" r="0.58" fill="#111" />
<circle cx="141.63" cy="291.26" r="0.58" fill="#111" />
<circle cx="142.12" cy="292.68" r="0.58" fill="#111" />
<circle cx="142.62" cy="293.67" r="0.58" fill="#111" />
<circle cx="143.12" cy="294.38" r="0.58" fill="#111" />
<circle cx="143.61" cy="294.94" r="0.58" fill="#111" />
<circle cx="144.11" cy="295.38" r="0.58" fill="#111" />
<circle cx="144.6" cy="295.76" r="0.58" fill="#111" />
<circle cx="145.1" cy="296.08" r="0.58" fill="#111" />
<circle cx="145.59" cy="296.37" r="0.58" fill="#111" />
<circle cx="146.09" cy="296.63" r="0.58" fill="#111" />
<circle cx="146.58" cy="296.86" r="0.58" fill="#111" />
<circle cx="147.08" cy="297.08" r="0.58" fill="#111" />
<circle cx="147.58" cy="297.28" r="0.58" fill="#111" />
<circle cx="148.07" cy="297.47" r="0.58" fill="#111" />
<circle cx="148.57" cy="297.65" r="0.58" fill="#111" />
<circle cx="149.06" cy="297.81" r="0.58" fill="#111" />
<circle cx="149.56" cy="297.96" r="0.58" fill="#111" />
<circle cx="150.05" cy="298.1" r="0.58" fill="#111" />
<circle cx="150.55" cy="298.23" r="0.58" fill="#111" />
<circle cx="151.05" cy="298.35" r="0.58" fill="#111" />
<circle cx="151.54" cy="298.46" r="0.58" fill="#111" />
<circle cx="152.04" cy="297.73" r="0.58" fill="#111" />
<circle cx="152.53" cy="295.37" r="0.58" fill="#111" />
<circle cx="153.03" cy="292.72" r="0.58" fill="#111" />
<circle cx="153.52" cy="289.89" r="0.58" fill="#111" />
<circle cx="154.02" cy="286.93" r="0.58" fill="#111" />
<circle cx="154.51" cy="283.87" r="0.58" fill="#111" />
<circle cx="155.01" cy="287.7" r="0.58" fill="#111" />
<circle cx="155.51" cy="290.36" r="0.58" fill="#111" />
<circle cx="156" cy="292.1" r="0.58" fill="#111" />
<circle cx="156.5" cy="293.28" r="0.58" fill="#111" />
<circle cx="156.99" cy="294.11" r="0.58" fill="#111" />
<circle cx="157.49" cy="294.73" r="0.58" fill="#111" />
<circle cx="157.98" cy="295.22" r="0.58" fill="#111" />
<circle cx="158.48" cy="295.62" r="0.58" fill="#111" />
<circle cx="158.97" cy="295.96" r="0.58" fill="#111" />
<circle cx="159.47" cy="296.26" r="0.58" fill="#111" />
<circle cx="159.97" cy="296.53" r="0.58" fill="#111" />
<circle cx="160.46" cy="296.78" r="0.58" fill="#111" />
<circle cx="160.96" cy="297" r="0.58" fill="#111" />
<circle cx="161.45" cy="297.2" r="0.58" fill="#111" />
<circle cx="161.95" cy="297.39" r="0.58" fill="#111" />
<circle cx="162.44" cy="297.57" r="0.58" fill="#111" />
<circle cx="162.94" cy="297.74" r="0.58" fill="#111" />
<circle cx="163.44" cy="297.89" r="0.58" fill="#111" />
<circle cx="163.93" cy="298.03" r="0.58" fill="#111" />
<circle cx="164.43" cy="298.16" r="0.58" fill="#111" />
<circle cx="164.92" cy="298.29" r="0.58" fill="#111" />
<circle cx="165.42" cy="298.4" r="0.58" fill="#111" />
<circle cx="165.91" cy="298.51" r="0.58" fill="#111" />
<circle cx="166.41" cy="296.68" r="0.58" fill="#111" />
<circle cx="166.9" cy="294.04" r="0.58" fill="#111" />
<circle cx="167.4" cy="291.17" r="0.58" fill="#111" />
<circle cx="167.9" cy="288.14" r="0.58" fill="#111" />
<circle cx="168.39" cy="284.99" r="0.58" fill="#111" />
<circle cx="168.89" cy="284.88" r="0.58" fill="#111" />
<circle cx="169.38" cy="288.51" r="0.58" fill="#111" />
<circle cx="169.88" cy="290.83" r="0.58" fill="#111" />
<circle cx="170.37" cy="292.36" r="0.58" fill="#111" />
<circle cx="170.87" cy="293.42" r="0.58" fill="#111" />
<circle cx="171.36" cy="294.19" r="0.58" fill="#111" />
<circle cx="171.86" cy="294.78" r="0.58" fill="#111" />
<circle cx="172.36" cy="295.25" r="0.58" fill="#111" />
<circle cx="172.85" cy="295.64" r="0.58" fill="#111" />
<circle cx="173.35" cy="295.98" r="0.58" fill="#111" />
<circle cx="173.84" cy="296.27" r="0.58" fill="#111" />
<circle cx="174.34" cy="296.54" r="0.58" fill="#111" />
<circle cx="174.83" cy="296.79" r="0.58" fill="#111" />
<circle cx="175.33" cy="297.02" r="0.58" fill="#111" />
<circle cx="175.83" cy="297.23" r="0.58" fill="#111" />
<circle cx="176.32" cy="297.42" r="0.58" fill="#111" />
<circle cx="176.82" cy="297.6" r="0.58" fill="#111" />
<circle cx="177.31" cy="297.77" r="0.58" fill="#111" />
<circle cx="177.81" cy="297.92" r="0.58" fill="#111" />
<circle cx="178.3" cy="298.07" r="0.58" fill="#111" />
<circle cx="178.8" cy="298.2" r="0.58" fill="#111" />
<circle cx="179.29" cy="298.33" r="0.58" fill="#111" />
<circle cx="179.79" cy="298.45" r="0.58" fill="#111" />
<circle cx="180.29" cy="298" r="0.58" fill="#111" />
<circle cx="180.78" cy="295.55" r="0.58" fill="#111" />
<circle cx="181.28" cy="292.77" r="0.58" fill="#111" />
<circle cx="181.77" cy="289.79" r="0.58" fill="#111" />
<circle cx="182.27" cy="286.66" r="0.58" fill="#111" />
<circle cx="182.76" cy="283.43" r="0.58" fill="#111" />
<circle cx="183.26" cy="286.64" r="0.58" fill="#111" />
<circle cx="183.75" cy="289.76" r="0.58" fill="#111" />
<circle cx="184.25" cy="291.77" r="0.58" fill="#111" />
<circle cx="184.75" cy="293.11" r="0.58" fill="#111" />
<circle cx="185.24" cy="294.04" r="0.58" fill="#111" />
<circle cx="185.74" cy="294.73" r="0.58" fill="#111" />
<circle cx="186.23" cy="295.26" r="0.58" fill="#111" />
<circle cx="186.73" cy="295.69" r="0.58" fill="#111" />
<circle cx="187.22" cy="296.05" r="0.58" fill="#111" />
<circle cx="187.72" cy="296.37" r="0.58" fill="#111" />
<circle cx="188.22" cy="296.65" r="0.58" fill="#111" />
<circle cx="188.71" cy="296.9" r="0.58" fill="#111" />
<circle cx="189.21" cy="297.13" r="0.58" fill="#111" />
<circle cx="189.7" cy="297.34" r="0.58" fill="#111" />
<circle cx="190.2" cy="297.54" r="0.58" fill="#111" />
<circle cx="190.69" cy="297.72" r="0.58" fill="#111" />
<circle cx="191.19" cy="297.89" r="0.58" fill="#111" />
<circle cx="191.68" cy="298.05" r="0.58" fill="#111" />
<circle cx="192.18" cy="298.2" r="0.58" fill="#111" />
<circle cx="192.68" cy="298.33" r="0.58" fill="#111" />
<circle cx="193.17" cy="298.46" r="0.58" fill="#111" />
<circle cx="193.67" cy="298.58" r="0.58" fill="#111" />
<circle cx="194.16" cy="298.69" r="0.58" fill="#111" />
<circle cx="194.66" cy="298.8" r="0.58" fill="#111" />
<circle cx="195.15" cy="298.89" r="0.58" fill="#111" />
<circle cx="195.65" cy="298.98" r="0.58" fill="#111" />
<circle cx="196.14" cy="299.07" r="0.58" fill="#111" />
<circle cx="196.64" cy="299.14" r="0.58" fill="#111" />
<rect x="228.5" y="190.5" width="155.2" height="115.1" stroke="#6e6e6e" stroke-width="0.8" fill="none"/>
<line x1="244.4" y1="305.6" x2="244.4" y2="307.6" stroke="#444" stroke-width="0.7" />
<text transform="translate(244.4,316.02) scale(0.9,1)" text-anchor="middle" fill="#000" stroke="#000" stroke-width="0.15" style="font-size:6.9px;" >0</text>
<line x1="275.34" y1="305.6" x2="275.34" y2="307.6" stroke="#444" stroke-width="0.7" />
<text transform="translate(275.34,316.02) scale(0.9,1)" text-anchor="middle" fill="#000" stroke="#000" stroke-width="0.15" style="font-size:6.9px;" >20</text>
<line x1="306.28" y1="305.6" x2="306.28" y2="307.6" stroke="#444" stroke-width="0.7" />
<text transform="translate(306.28,316.02) scale(0.9,1)" text-anchor="middle" fill="#000" stroke="#000" stroke-width="0.15" style="font-size:6.9px;" >40</text>
<line x1="337.22" y1="305.6" x2="337.22" y2="307.6" stroke="#444" stroke-width="0.7" />
<text transform="translate(337.22,316.02) scale(0.9,1)" text-anchor="middle" fill="#000" stroke="#000" stroke-width="0.15" style="font-size:6.9px;" >60</text>
<line x1="368.16" y1="305.6" x2="368.16" y2="307.6" stroke="#444" stroke-width="0.7" />
<text transform="translate(368.16,316.02) scale(0.9,1)" text-anchor="middle" fill="#000" stroke="#000" stroke-width="0.15" style="font-size:6.9px;" >80</text>
<line x1="228.93" y1="305.6" x2="228.93" y2="306.9" stroke="#444" stroke-width="0.6" />
<line x1="259.87" y1="305.6" x2="259.87" y2="306.9" stroke="#444" stroke-width="0.6" />
<line x1="290.81" y1="305.6" x2="290.81" y2="306.9" stroke="#444" stroke-width="0.6" />
<line x1="321.75" y1="305.6" x2="321.75" y2="306.9" stroke="#444" stroke-width="0.6" />
<line x1="352.69" y1="305.6" x2="352.69" y2="306.9" stroke="#444" stroke-width="0.6" />
<line x1="383.63" y1="305.6" x2="383.63" y2="306.9" stroke="#444" stroke-width="0.6" />
<line x1="226.5" y1="305.7" x2="228.5" y2="305.7" stroke="#444" stroke-width="0.7" />
<text transform="translate(223.6,308.01) scale(0.9,1)" text-anchor="end" fill="#000" stroke="#000" stroke-width="0.15" style="font-size:6.6px;" >1.0</text>
<line x1="226.5" y1="253.5" x2="228.5" y2="253.5" stroke="#444" stroke-width="0.7" />
<text transform="translate(223.6,255.81) scale(0.9,1)" text-anchor="end" fill="#000" stroke="#000" stroke-width="0.15" style="font-size:6.6px;" >1.1</text>
<line x1="226.5" y1="201.3" x2="228.5" y2="201.3" stroke="#444" stroke-width="0.7" />
<text transform="translate(223.6,203.61) scale(0.9,1)" text-anchor="end" fill="#000" stroke="#000" stroke-width="0.15" style="font-size:6.6px;" >1.2</text>
<line x1="227.2" y1="295.26" x2="228.5" y2="295.26" stroke="#444" stroke-width="0.6" />
<line x1="227.2" y1="284.82" x2="228.5" y2="284.82" stroke="#444" stroke-width="0.6" />
<line x1="227.2" y1="274.38" x2="228.5" y2="274.38" stroke="#444" stroke-width="0.6" />
<line x1="227.2" y1="263.94" x2="228.5" y2="263.94" stroke="#444" stroke-width="0.6" />
<line x1="227.2" y1="243.06" x2="228.5" y2="243.06" stroke="#444" stroke-width="0.6" />
<line x1="227.2" y1="232.62" x2="228.5" y2="232.62" stroke="#444" stroke-width="0.6" />
<line x1="227.2" y1="222.18" x2="228.5" y2="222.18" stroke="#444" stroke-width="0.6" />
<line x1="227.2" y1="211.74" x2="228.5" y2="211.74" stroke="#444" stroke-width="0.6" />
<text x="306.2" y="324.49" text-anchor="middle" fill="#000" stroke="#000" stroke-width="0.15" style="font-size:7.4px;" >Cycle no.</text>
<g transform="translate(205.8,248) rotate(-90)"><text x="0" y="2.45" text-anchor="middle" fill="#000" stroke="#000" stroke-width="0.15" style="font-size:7.0px;"><tspan font-style="italic">R</tspan>/<tspan font-style="italic">R</tspan><tspan font-size="5" dy="1.6">0</tspan></text></g>
<text x="202.6" y="193.2" text-anchor="start" fill="#000" stroke="#000" stroke-width="0" style="font-size:14px;" >(d)</text>
<polyline fill="none" stroke="#555" stroke-width="0.5" points="245.95,199.3 247.49,213.6 249.04,218.8 250.59,218.8 252.13,237.9 253.68,235 255.23,235 256.78,245 258.32,242.6 259.87,243.5 261.42,247.4 262.96,247.4 264.51,247.4 266.06,247.4 267.61,247.4 269.15,259.3 270.7,258.3 272.25,257.4 273.79,254.5 275.34,256 276.89,257.4 278.43,271.7 279.98,270 281.53,268.8 283.07,266 284.62,262.9 286.17,272.4 287.72,269 289.26,266.4 290.81,264.7 292.36,268 293.9,270.3 295.45,269.1 297,269.1 298.55,271 300.09,273.6 301.64,273.6 303.19,273.6 304.73,273.6 306.28,280.4 307.83,275.9 309.37,273.6 310.92,273.6 312.47,275 314.01,282.6 315.56,282.6 317.11,280.4 318.66,278.1 320.2,289.3 321.75,284.8 323.3,282.6 324.84,280 326.39,279.2 327.94,289.3 329.49,286 331.03,281.5 332.58,285 334.13,291.6 335.67,288.2 337.22,284.8 338.77,285.5 340.31,286 341.86,284.8 343.41,284.8 344.95,284.8 346.5,293.8 348.05,287.1 349.6,286 351.14,284.8 352.69,286 354.24,288.2 355.78,287.1 357.33,286 358.88,284.8 360.43,285 361.97,293.8 363.52,291.6 365.07,289.3 366.61,288 368.16,287.1" />
<rect x="244.55" y="197.9" width="2.8" height="2.8" fill="#ee1111"/>
<rect x="246.09" y="212.2" width="2.8" height="2.8" fill="#ee1111"/>
<rect x="247.64" y="217.4" width="2.8" height="2.8" fill="#ee1111"/>
<rect x="249.19" y="217.4" width="2.8" height="2.8" fill="#ee1111"/>
<rect x="250.73" y="236.5" width="2.8" height="2.8" fill="#ee1111"/>
<rect x="252.28" y="233.6" width="2.8" height="2.8" fill="#ee1111"/>
<rect x="253.83" y="233.6" width="2.8" height="2.8" fill="#ee1111"/>
<rect x="255.38" y="243.6" width="2.8" height="2.8" fill="#ee1111"/>
<rect x="256.92" y="241.2" width="2.8" height="2.8" fill="#ee1111"/>
<rect x="258.47" y="242.1" width="2.8" height="2.8" fill="#ee1111"/>
<rect x="260.02" y="246" width="2.8" height="2.8" fill="#ee1111"/>
<rect x="261.56" y="246" width="2.8" height="2.8" fill="#ee1111"/>
<rect x="263.11" y="246" width="2.8" height="2.8" fill="#ee1111"/>
<rect x="264.66" y="246" width="2.8" height="2.8" fill="#ee1111"/>
<rect x="266.21" y="246" width="2.8" height="2.8" fill="#ee1111"/>
<rect x="267.75" y="257.9" width="2.8" height="2.8" fill="#ee1111"/>
<rect x="269.3" y="256.9" width="2.8" height="2.8" fill="#ee1111"/>
<rect x="270.85" y="256" width="2.8" height="2.8" fill="#ee1111"/>
<rect x="272.39" y="253.1" width="2.8" height="2.8" fill="#ee1111"/>
<rect x="273.94" y="254.6" width="2.8" height="2.8" fill="#ee1111"/>
<rect x="275.49" y="256" width="2.8" height="2.8" fill="#ee1111"/>
<rect x="277.03" y="270.3" width="2.8" height="2.8" fill="#ee1111"/>
<rect x="278.58" y="268.6" width="2.8" height="2.8" fill="#ee1111"/>
<rect x="280.13" y="267.4" width="2.8" height="2.8" fill="#ee1111"/>
<rect x="281.68" y="264.6" width="2.8" height="2.8" fill="#ee1111"/>
<rect x="283.22" y="261.5" width="2.8" height="2.8" fill="#ee1111"/>
<rect x="284.77" y="271" width="2.8" height="2.8" fill="#ee1111"/>
<rect x="286.32" y="267.6" width="2.8" height="2.8" fill="#ee1111"/>
<rect x="287.86" y="265" width="2.8" height="2.8" fill="#ee1111"/>
<rect x="289.41" y="263.3" width="2.8" height="2.8" fill="#ee1111"/>
<rect x="290.96" y="266.6" width="2.8" height="2.8" fill="#ee1111"/>
<rect x="292.5" y="268.9" width="2.8" height="2.8" fill="#ee1111"/>
<rect x="294.05" y="267.7" width="2.8" height="2.8" fill="#ee1111"/>
<rect x="295.6" y="267.7" width="2.8" height="2.8" fill="#ee1111"/>
<rect x="297.15" y="269.6" width="2.8" height="2.8" fill="#ee1111"/>
<rect x="298.69" y="272.2" width="2.8" height="2.8" fill="#ee1111"/>
<rect x="300.24" y="272.2" width="2.8" height="2.8" fill="#ee1111"/>
<rect x="301.79" y="272.2" width="2.8" height="2.8" fill="#ee1111"/>
<rect x="303.33" y="272.2" width="2.8" height="2.8" fill="#ee1111"/>
<rect x="304.88" y="279" width="2.8" height="2.8" fill="#ee1111"/>
<rect x="306.43" y="274.5" width="2.8" height="2.8" fill="#ee1111"/>
<rect x="307.97" y="272.2" width="2.8" height="2.8" fill="#ee1111"/>
<rect x="309.52" y="272.2" width="2.8" height="2.8" fill="#ee1111"/>
<rect x="311.07" y="273.6" width="2.8" height="2.8" fill="#ee1111"/>
<rect x="312.62" y="281.2" width="2.8" height="2.8" fill="#ee1111"/>
<rect x="314.16" y="281.2" width="2.8" height="2.8" fill="#ee1111"/>
<rect x="315.71" y="279" width="2.8" height="2.8" fill="#ee1111"/>
<rect x="317.26" y="276.7" width="2.8" height="2.8" fill="#ee1111"/>
<rect x="318.8" y="287.9" width="2.8" height="2.8" fill="#ee1111"/>
<rect x="320.35" y="283.4" width="2.8" height="2.8" fill="#ee1111"/>
<rect x="321.9" y="281.2" width="2.8" height="2.8" fill="#ee1111"/>
<rect x="323.44" y="278.6" width="2.8" height="2.8" fill="#ee1111"/>
<rect x="324.99" y="277.8" width="2.8" height="2.8" fill="#ee1111"/>
<rect x="326.54" y="287.9" width="2.8" height="2.8" fill="#ee1111"/>
<rect x="328.09" y="284.6" width="2.8" height="2.8" fill="#ee1111"/>
<rect x="329.63" y="280.1" width="2.8" height="2.8" fill="#ee1111"/>
<rect x="331.18" y="283.6" width="2.8" height="2.8" fill="#ee1111"/>
<rect x="332.73" y="290.2" width="2.8" height="2.8" fill="#ee1111"/>
<rect x="334.27" y="286.8" width="2.8" height="2.8" fill="#ee1111"/>
<rect x="335.82" y="283.4" width="2.8" height="2.8" fill="#ee1111"/>
<rect x="337.37" y="284.1" width="2.8" height="2.8" fill="#ee1111"/>
<rect x="338.91" y="284.6" width="2.8" height="2.8" fill="#ee1111"/>
<rect x="340.46" y="283.4" width="2.8" height="2.8" fill="#ee1111"/>
<rect x="342.01" y="283.4" width="2.8" height="2.8" fill="#ee1111"/>
<rect x="343.56" y="283.4" width="2.8" height="2.8" fill="#ee1111"/>
<rect x="345.1" y="292.4" width="2.8" height="2.8" fill="#ee1111"/>
<rect x="346.65" y="285.7" width="2.8" height="2.8" fill="#ee1111"/>
<rect x="348.2" y="284.6" width="2.8" height="2.8" fill="#ee1111"/>
<rect x="349.74" y="283.4" width="2.8" height="2.8" fill="#ee1111"/>
<rect x="351.29" y="284.6" width="2.8" height="2.8" fill="#ee1111"/>
<rect x="352.84" y="286.8" width="2.8" height="2.8" fill="#ee1111"/>
<rect x="354.38" y="285.7" width="2.8" height="2.8" fill="#ee1111"/>
<rect x="355.93" y="284.6" width="2.8" height="2.8" fill="#ee1111"/>
<rect x="357.48" y="283.4" width="2.8" height="2.8" fill="#ee1111"/>
<rect x="359.03" y="283.6" width="2.8" height="2.8" fill="#ee1111"/>
<rect x="360.57" y="292.4" width="2.8" height="2.8" fill="#ee1111"/>
<rect x="362.12" y="290.2" width="2.8" height="2.8" fill="#ee1111"/>
<rect x="363.67" y="287.9" width="2.8" height="2.8" fill="#ee1111"/>
<rect x="365.21" y="286.6" width="2.8" height="2.8" fill="#ee1111"/>
<rect x="366.76" y="285.7" width="2.8" height="2.8" fill="#ee1111"/>
<line x1="332.7" y1="203.9" x2="339.5" y2="203.9" stroke="#666" stroke-width="0.6" />
<line x1="343.5" y1="203.9" x2="349.2" y2="203.9" stroke="#666" stroke-width="0.6" />
<rect x="340.3" y="202.7" width="2.4" height="2.4" fill="#ee1111"/>
<text x="352" y="206.18" text-anchor="start" fill="#333" stroke="#333" stroke-width="0.15" style="font-size:6.8px;" ><tspan font-style="italic">R</tspan><tspan font-size="4" dy="1.8">5%</tspan><tspan dy="-1.8">/</tspan><tspan font-style="italic">R</tspan><tspan font-size="4" dy="1.8">0</tspan></text>
<text x="206.9" y="341.25" text-anchor="middle" fill="#000" stroke="#000" stroke-width="0" style="font-size:11px;" font-weight="bold">A</text>
<line x1="452.6" y1="48" x2="608.2" y2="48" stroke="#c0c0c0" stroke-width="1.2" />
<line x1="452.6" y1="163.4" x2="608.2" y2="163.4" stroke="#a8a8a8" stroke-width="1.1" />
<line x1="452.6" y1="48" x2="452.6" y2="163.4" stroke="#c8c8c8" stroke-width="1.3" />
<line x1="608.2" y1="48" x2="608.2" y2="163.4" stroke="#c8c8c8" stroke-width="1.3" />
<line x1="453" y1="163.4" x2="453" y2="165.2" stroke="#777" stroke-width="0.6" />
<line x1="453" y1="48" x2="453" y2="49.8" stroke="#777" stroke-width="0.6" />
<text x="453" y="172.17" text-anchor="middle" fill="#000" stroke="#000" stroke-width="0.15" style="font-size:6.2px;" >0.0</text>
<text x="453" y="43.87" text-anchor="middle" fill="#000" stroke="#000" stroke-width="0.15" style="font-size:6.2px;" >0.0</text>
<line x1="483.6" y1="163.4" x2="483.6" y2="165.2" stroke="#777" stroke-width="0.6" />
<line x1="483.6" y1="48" x2="483.6" y2="49.8" stroke="#777" stroke-width="0.6" />
<text x="483.6" y="172.17" text-anchor="middle" fill="#000" stroke="#000" stroke-width="0.15" style="font-size:6.2px;" >0.2</text>
<text x="483.6" y="43.87" text-anchor="middle" fill="#000" stroke="#000" stroke-width="0.15" style="font-size:6.2px;" >0.2</text>
<line x1="514.2" y1="163.4" x2="514.2" y2="165.2" stroke="#777" stroke-width="0.6" />
<line x1="514.2" y1="48" x2="514.2" y2="49.8" stroke="#777" stroke-width="0.6" />
<text x="514.2" y="172.17" text-anchor="middle" fill="#000" stroke="#000" stroke-width="0.15" style="font-size:6.2px;" >0.4</text>
<text x="514.2" y="43.87" text-anchor="middle" fill="#000" stroke="#000" stroke-width="0.15" style="font-size:6.2px;" >0.4</text>
<line x1="544.8" y1="163.4" x2="544.8" y2="165.2" stroke="#777" stroke-width="0.6" />
<line x1="544.8" y1="48" x2="544.8" y2="49.8" stroke="#777" stroke-width="0.6" />
<text x="544.8" y="172.17" text-anchor="middle" fill="#000" stroke="#000" stroke-width="0.15" style="font-size:6.2px;" >0.6</text>
<text x="544.8" y="43.87" text-anchor="middle" fill="#000" stroke="#000" stroke-width="0.15" style="font-size:6.2px;" >0.6</text>
<line x1="575.4" y1="163.4" x2="575.4" y2="165.2" stroke="#777" stroke-width="0.6" />
<line x1="575.4" y1="48" x2="575.4" y2="49.8" stroke="#777" stroke-width="0.6" />
<text x="575.4" y="172.17" text-anchor="middle" fill="#000" stroke="#000" stroke-width="0.15" style="font-size:6.2px;" >0.8</text>
<text x="575.4" y="43.87" text-anchor="middle" fill="#000" stroke="#000" stroke-width="0.15" style="font-size:6.2px;" >0.8</text>
<line x1="606" y1="163.4" x2="606" y2="165.2" stroke="#777" stroke-width="0.6" />
<line x1="606" y1="48" x2="606" y2="49.8" stroke="#777" stroke-width="0.6" />
<text x="606" y="172.17" text-anchor="middle" fill="#000" stroke="#000" stroke-width="0.15" style="font-size:6.2px;" >1.0</text>
<text x="606" y="43.87" text-anchor="middle" fill="#000" stroke="#000" stroke-width="0.15" style="font-size:6.2px;" >1.0</text>
<line x1="468.3" y1="163.4" x2="468.3" y2="164.5" stroke="#888" stroke-width="0.5" />
<line x1="468.3" y1="48" x2="468.3" y2="49.1" stroke="#888" stroke-width="0.5" />
<line x1="498.9" y1="163.4" x2="498.9" y2="164.5" stroke="#888" stroke-width="0.5" />
<line x1="498.9" y1="48" x2="498.9" y2="49.1" stroke="#888" stroke-width="0.5" />
<line x1="529.5" y1="163.4" x2="529.5" y2="164.5" stroke="#888" stroke-width="0.5" />
<line x1="529.5" y1="48" x2="529.5" y2="49.1" stroke="#888" stroke-width="0.5" />
<line x1="560.1" y1="163.4" x2="560.1" y2="164.5" stroke="#888" stroke-width="0.5" />
<line x1="560.1" y1="48" x2="560.1" y2="49.1" stroke="#888" stroke-width="0.5" />
<line x1="590.7" y1="163.4" x2="590.7" y2="164.5" stroke="#888" stroke-width="0.5" />
<line x1="590.7" y1="48" x2="590.7" y2="49.1" stroke="#888" stroke-width="0.5" />
<line x1="450.8" y1="151" x2="452.6" y2="151" stroke="#777" stroke-width="0.6" />
<text x="449.4" y="153.13" text-anchor="end" fill="#000" stroke="#000" stroke-width="0.15" style="font-size:6.1px;" >105</text>
<line x1="450.8" y1="132.81" x2="452.6" y2="132.81" stroke="#777" stroke-width="0.6" />
<text x="449.4" y="134.94" text-anchor="end" fill="#000" stroke="#000" stroke-width="0.15" style="font-size:6.1px;" >120</text>
<line x1="450.8" y1="114.61" x2="452.6" y2="114.61" stroke="#777" stroke-width="0.6" />
<text x="449.4" y="116.75" text-anchor="end" fill="#000" stroke="#000" stroke-width="0.15" style="font-size:6.1px;" >135</text>
<line x1="450.8" y1="96.41" x2="452.6" y2="96.41" stroke="#777" stroke-width="0.6" />
<text x="449.4" y="98.55" text-anchor="end" fill="#000" stroke="#000" stroke-width="0.15" style="font-size:6.1px;" >150</text>
<line x1="450.8" y1="78.22" x2="452.6" y2="78.22" stroke="#777" stroke-width="0.6" />
<text x="449.4" y="80.36" text-anchor="end" fill="#000" stroke="#000" stroke-width="0.15" style="font-size:6.1px;" >165</text>
<line x1="450.8" y1="60.02" x2="452.6" y2="60.02" stroke="#777" stroke-width="0.6" />
<text x="449.4" y="62.16" text-anchor="end" fill="#000" stroke="#000" stroke-width="0.15" style="font-size:6.1px;" >180</text>
<line x1="451.5" y1="160.1" x2="452.6" y2="160.1" stroke="#888" stroke-width="0.5" />
<line x1="451.5" y1="141.9" x2="452.6" y2="141.9" stroke="#888" stroke-width="0.5" />
<line x1="451.5" y1="123.71" x2="452.6" y2="123.71" stroke="#888" stroke-width="0.5" />
<line x1="451.5" y1="105.51" x2="452.6" y2="105.51" stroke="#888" stroke-width="0.5" />
<line x1="451.5" y1="87.32" x2="452.6" y2="87.32" stroke="#888" stroke-width="0.5" />
<line x1="451.5" y1="69.12" x2="452.6" y2="69.12" stroke="#888" stroke-width="0.5" />
<line x1="451.5" y1="50.93" x2="452.6" y2="50.93" stroke="#888" stroke-width="0.5" />
<line x1="607.1" y1="156.08" x2="608.2" y2="156.08" stroke="#888" stroke-width="0.5" />
<line x1="607.1" y1="141.64" x2="608.2" y2="141.64" stroke="#888" stroke-width="0.5" />
<line x1="607.1" y1="127.21" x2="608.2" y2="127.21" stroke="#888" stroke-width="0.5" />
<line x1="607.1" y1="112.77" x2="608.2" y2="112.77" stroke="#888" stroke-width="0.5" />
<line x1="607.1" y1="98.33" x2="608.2" y2="98.33" stroke="#888" stroke-width="0.5" />
<line x1="607.1" y1="83.89" x2="608.2" y2="83.89" stroke="#888" stroke-width="0.5" />
<line x1="607.1" y1="69.46" x2="608.2" y2="69.46" stroke="#888" stroke-width="0.5" />
<line x1="607.1" y1="55.02" x2="608.2" y2="55.02" stroke="#888" stroke-width="0.5" />
<line x1="606.4" y1="163.3" x2="608.2" y2="163.3" stroke="#777" stroke-width="0.6" />
<text x="610" y="165.44" text-anchor="start" fill="#000" stroke="#000" stroke-width="0.15" style="font-size:6.1px;" >150</text>
<line x1="606.4" y1="148.86" x2="608.2" y2="148.86" stroke="#777" stroke-width="0.6" />
<text x="610" y="151" text-anchor="start" fill="#000" stroke="#000" stroke-width="0.15" style="font-size:6.1px;" >175</text>
<line x1="606.4" y1="134.43" x2="608.2" y2="134.43" stroke="#777" stroke-width="0.6" />
<text x="610" y="136.56" text-anchor="start" fill="#000" stroke="#000" stroke-width="0.15" style="font-size:6.1px;" >200</text>
<line x1="606.4" y1="119.99" x2="608.2" y2="119.99" stroke="#777" stroke-width="0.6" />
<text x="610" y="122.12" text-anchor="start" fill="#000" stroke="#000" stroke-width="0.15" style="font-size:6.1px;" >225</text>
<line x1="606.4" y1="105.55" x2="608.2" y2="105.55" stroke="#777" stroke-width="0.6" />
<text x="610" y="107.69" text-anchor="start" fill="#000" stroke="#000" stroke-width="0.15" style="font-size:6.1px;" >250</text>
<line x1="606.4" y1="91.11" x2="608.2" y2="91.11" stroke="#777" stroke-width="0.6" />
<text x="610" y="93.25" text-anchor="start" fill="#000" stroke="#000" stroke-width="0.15" style="font-size:6.1px;" >275</text>
<line x1="606.4" y1="76.68" x2="608.2" y2="76.68" stroke="#777" stroke-width="0.6" />
<text x="610" y="78.81" text-anchor="start" fill="#000" stroke="#000" stroke-width="0.15" style="font-size:6.1px;" >300</text>
<line x1="606.4" y1="62.24" x2="608.2" y2="62.24" stroke="#777" stroke-width="0.6" />
<text x="610" y="64.37" text-anchor="start" fill="#000" stroke="#000" stroke-width="0.15" style="font-size:6.1px;" >325</text>
<line x1="606.4" y1="47.8" x2="608.2" y2="47.8" stroke="#777" stroke-width="0.6" />
<text x="610" y="49.94" text-anchor="start" fill="#000" stroke="#000" stroke-width="0.15" style="font-size:6.1px;" >350</text>
<text x="531.2" y="34.69" text-anchor="middle" fill="#000" stroke="#000" stroke-width="0" style="font-size:9.4px;" >Relative pressure (<tspan font-style="italic">P</tspan>/<tspan font-style="italic">P</tspan><tspan font-size="6" dy="2">0</tspan><tspan dy="-2">)</tspan></text>
<text x="531.2" y="183.79" text-anchor="middle" fill="#000" stroke="#000" stroke-width="0" style="font-size:9.4px;" >Relative pressure (<tspan font-style="italic">P</tspan>/<tspan font-style="italic">P</tspan><tspan font-size="6" dy="2">0</tspan><tspan dy="-2">)</tspan></text>
<g transform="translate(430,108.2) rotate(-90)"><text x="0" y="3.25" text-anchor="middle" fill="#000" stroke="#000" stroke-width="0.05" style="font-size:9.3px;">Amount adsorbed (cm<tspan font-size="5.5" dy="-3.2">3</tspan><tspan dy="3.2">/g)</tspan></text></g>
<g transform="translate(629.4,103.6) rotate(-90)"><text x="0" y="3.25" text-anchor="middle" fill="#000" stroke="#000" stroke-width="0.05" style="font-size:9.3px;">Amount adsorbed (cm<tspan font-size="5.5" dy="-3.2">3</tspan><tspan dy="3.2">/g)</tspan></text></g>
<text transform="translate(596.6,157.72) scale(0.82,1)" text-anchor="middle" fill="#111" stroke="#111" stroke-width="0" style="font-size:13.5px;" >(a)</text>
<text x="556.7" y="79.42" text-anchor="middle" fill="#a040b0" stroke="#a040b0" stroke-width="0.15" style="font-size:7.2px;" >PCM</text>
<text x="581.9" y="129.69" text-anchor="middle" fill="#111" stroke="#111" stroke-width="0.15" style="font-size:7.1px;" >PCM (AS)</text>
<polyline fill="none" stroke="#bdbdbd" stroke-width="0.7" points="579.9,54.2 579.9,64.1 591,64.1" />
<rect x="579.2" y="53.2" width="1.4" height="2.2" fill="#333"/>
<polygon points="594,64.1 590.6,62.9 590.6,65.3" fill="#222"/>
<polyline fill="none" stroke="#bdbdbd" stroke-width="0.7" points="503.8,139 511.3,139 511.3,144.5" />
<rect x="500.4" y="138.3" width="2.4" height="1.4" fill="#333"/>
<polygon points="511.3,147.6 510.1,144.2 512.5,144.2" fill="#222"/>
<polyline fill="none" stroke="#222" stroke-width="0.5" points="454.2,154.7 454.39,154.33 454.64,153.84 454.93,153.26 455.25,152.6 455.6,151.89 455.98,151.16 456.36,150.41 456.74,149.69 457.11,149 457.47,148.38 457.8,147.84 458.1,147.4 458.37,147.06 458.62,146.8 458.85,146.59 459.07,146.44 459.29,146.32 459.5,146.23 459.71,146.16 459.93,146.1 460.15,146.03 460.38,145.95 460.63,145.84 460.9,145.7 461.18,145.53 461.47,145.36 461.76,145.17 462.06,144.99 462.36,144.79 462.67,144.6 463,144.41 463.33,144.21 463.68,144.03 464.04,143.84 464.41,143.67 464.8,143.5 465.21,143.34 465.63,143.19 466.08,143.05 466.54,142.91 467.01,142.78 467.49,142.65 467.98,142.52 468.47,142.39 468.96,142.25 469.45,142.11 469.93,141.96 470.4,141.8 470.87,141.63 471.33,141.46 471.8,141.27 472.27,141.09 472.73,140.89 473.2,140.7 473.67,140.51 474.13,140.31 474.6,140.13 475.07,139.94 475.53,139.77 476,139.6 476.47,139.44 476.95,139.28 477.43,139.13 477.91,138.97 478.39,138.83 478.87,138.68 479.34,138.54 479.81,138.4 480.28,138.27 480.73,138.14 481.17,138.02 481.6,137.9 482.02,137.79 482.42,137.68 482.81,137.58 483.2,137.48 483.58,137.38 483.95,137.29 484.32,137.21 484.68,137.12 485.04,137.04 485.39,136.96 485.75,136.88 486.1,136.8 486.43,136.72 486.73,136.66 487,136.59 487.25,136.53 487.5,136.48 487.76,136.42 488.04,136.36 488.35,136.3 488.7,136.24 489.1,136.16 489.56,136.09 490.1,136 490.73,135.91 491.44,135.81 492.23,135.7 493.07,135.59 493.95,135.48 494.86,135.36 495.78,135.24 496.7,135.12 497.59,134.99 498.45,134.86 499.26,134.73 500,134.6 500.68,134.46 501.33,134.32 501.95,134.17 502.55,134.01 503.12,133.86 503.68,133.7 504.23,133.54 504.77,133.39 505.32,133.23 505.87,133.08 506.43,132.94 507,132.8 507.58,132.67 508.17,132.54 508.75,132.42 509.33,132.3 509.92,132.19 510.5,132.07 511.08,131.96 511.67,131.85 512.25,131.74 512.83,131.63 513.42,131.52 514,131.4 514.58,131.28 515.17,131.17 515.75,131.05 516.33,130.93 516.92,130.82 517.5,130.7 518.08,130.58 518.67,130.47 519.25,130.35 519.83,130.23 520.42,130.12 521,130 521.58,129.88 522.17,129.77 522.75,129.65 523.33,129.53 523.92,129.42 524.5,129.3 525.08,129.18 525.67,129.07 526.25,128.95 526.83,128.83 527.42,128.72 528,128.6 528.58,128.48 529.17,128.37 529.75,128.25 530.33,128.14 530.91,128.02 531.49,127.91 532.08,127.79 532.66,127.67 533.24,127.56 533.83,127.44 534.41,127.32 535,127.2 535.59,127.08 536.19,126.94 536.8,126.81 537.41,126.67 538.02,126.53 538.63,126.39 539.24,126.26 539.83,126.13 540.42,126.01 541,125.89 541.56,125.79 542.1,125.7 542.62,125.63 543.12,125.57 543.59,125.53 544.06,125.5 544.51,125.48 544.96,125.46 545.4,125.44 545.86,125.41 546.32,125.38 546.79,125.34 547.28,125.28 547.8,125.2 548.34,125.11 548.89,125 549.46,124.88 550.04,124.76 550.62,124.62 551.22,124.48 551.82,124.34 552.42,124.19 553.02,124.04 553.62,123.89 554.21,123.74 554.8,123.6 555.38,123.46 555.97,123.32 556.55,123.19 557.13,123.05 557.72,122.91 558.3,122.77 558.88,122.63 559.47,122.48 560.05,122.32 560.63,122.16 561.22,121.99 561.8,121.8 562.39,121.6 562.98,121.4 563.57,121.18 564.17,120.96 564.77,120.72 565.36,120.49 565.95,120.25 566.54,120 567.12,119.75 567.69,119.5 568.25,119.25 568.8,119 569.34,118.74 569.88,118.48 570.41,118.21 570.94,117.93 571.46,117.65 571.97,117.37 572.47,117.09 572.96,116.81 573.44,116.55 573.91,116.29 574.36,116.04 574.8,115.8 575.22,115.58 575.62,115.36 576.01,115.16 576.38,114.97 576.74,114.78 577.09,114.59 577.44,114.41 577.77,114.23 578.11,114.05 578.44,113.87 578.77,113.69 579.1,113.5 579.43,113.32 579.74,113.14 580.04,112.98 580.34,112.82 580.63,112.66 580.93,112.5 581.22,112.33 581.51,112.14 581.82,111.94 582.13,111.72 582.46,111.48 582.8,111.2 583.16,110.9 583.54,110.57 583.93,110.22 584.33,109.85 584.74,109.46 585.15,109.06 585.56,108.65 585.97,108.23 586.37,107.8 586.76,107.37 587.14,106.93 587.5,106.5 587.84,106.06 588.18,105.6 588.5,105.13 588.81,104.66 589.12,104.17 589.42,103.68 589.72,103.19 590.02,102.7 590.31,102.21 590.61,101.73 590.9,101.26 591.2,100.8 591.5,100.34 591.81,99.89 592.12,99.43 592.43,98.98 592.73,98.53 593.04,98.08 593.34,97.64 593.63,97.21 593.91,96.79 594.19,96.38 594.45,95.98 594.7,95.6 594.93,95.23 595.15,94.88 595.36,94.54 595.56,94.21 595.75,93.9 595.93,93.59 596.11,93.28 596.29,92.99 596.46,92.69 596.64,92.39 596.82,92.1 597,91.8 597.19,91.5 597.37,91.21 597.56,90.91 597.74,90.63 597.92,90.34 598.11,90.06 598.29,89.78 598.47,89.5 598.65,89.22 598.83,88.94 599.02,88.67 599.2,88.4 599.38,88.13 599.57,87.86 599.76,87.6 599.95,87.33 600.14,87.07 600.33,86.81 600.52,86.56 600.7,86.3 600.89,86.05 601.06,85.8 601.23,85.55 601.4,85.3 601.56,85.06 601.72,84.82 601.87,84.58 602.02,84.35 602.17,84.12 602.31,83.89 602.45,83.67 602.59,83.44 602.72,83.21 602.85,82.97 602.98,82.74 603.1,82.5 603.22,82.27 603.34,82.06 603.45,81.87 603.57,81.68 603.68,81.49 603.78,81.29 603.88,81.08 603.98,80.84 604.07,80.57 604.15,80.26 604.23,79.91 604.3,79.5 604.36,79.05 604.42,78.56 604.46,78.05 604.5,77.5 604.54,76.92 604.57,76.31 604.6,75.67 604.62,75 604.64,74.3 604.66,73.56 604.68,72.8 604.7,72 604.72,71.12 604.74,70.12 604.75,69.04 604.76,67.89 604.77,66.71 604.78,65.53 604.78,64.38 604.79,63.28 604.79,62.26 604.79,61.36 604.8,60.59 604.8,60" />
<polygon points="454.2,156.53 452.5,153.58 455.9,153.58" fill="#111"/>
<polygon points="455.72,153.48 454.02,150.54 457.42,150.54" fill="#111"/>
<polygon points="457.31,150.47 455.61,147.53 459.01,147.53" fill="#111"/>
<polygon points="459.57,148.03 457.87,145.09 461.27,145.09" fill="#111"/>
<polygon points="462.58,146.48 460.88,143.54 464.28,143.54" fill="#111"/>
<polygon points="465.64,145.02 463.94,142.07 467.34,142.07" fill="#111"/>
<polygon points="468.92,144.09 467.22,141.14 470.62,141.14" fill="#111"/>
<polygon points="472.13,142.97 470.43,140.02 473.83,140.02" fill="#111"/>
<polygon points="475.28,141.69 473.58,138.74 476.98,138.74" fill="#111"/>
<polygon points="478.51,140.61 476.81,137.67 480.21,137.67" fill="#111"/>
<polygon points="481.78,139.68 480.08,136.73 483.48,136.73" fill="#111"/>
<polygon points="485.09,138.85 483.39,135.91 486.79,135.91" fill="#111"/>
<polygon points="488.41,138.11 486.71,135.17 490.11,135.17" fill="#111"/>
<polygon points="491.77,137.59 490.07,134.64 493.47,134.64" fill="#111"/>
<polygon points="495.14,137.15 493.44,134.21 496.84,134.21" fill="#111"/>
<polygon points="498.51,136.68 496.81,133.73 500.21,133.73" fill="#111"/>
<polygon points="501.85,136.02 500.15,133.07 503.55,133.07" fill="#111"/>
<polygon points="505.13,135.11 503.43,132.17 506.83,132.17" fill="#111"/>
<polygon points="508.44,134.31 506.74,131.37 510.14,131.37" fill="#111"/>
<polygon points="511.78,133.66 510.08,130.71 513.48,130.71" fill="#111"/>
<polygon points="515.12,133 513.42,130.06 516.82,130.06" fill="#111"/>
<polygon points="518.46,132.33 516.76,129.39 520.16,129.39" fill="#111"/>
<polygon points="521.79,131.67 520.09,128.72 523.49,128.72" fill="#111"/>
<polygon points="525.13,131 523.43,128.05 526.83,128.05" fill="#111"/>
<polygon points="528.47,130.33 526.77,127.39 530.17,127.39" fill="#111"/>
<polygon points="531.81,129.67 530.11,126.73 533.51,126.73" fill="#111"/>
<polygon points="535.14,129 533.44,126.05 536.84,126.05" fill="#111"/>
<polygon points="538.46,128.26 536.76,125.31 540.16,125.31" fill="#111"/>
<polygon points="541.8,127.58 540.1,124.63 543.5,124.63" fill="#111"/>
<polygon points="545.19,127.27 543.49,124.33 546.89,124.33" fill="#111"/>
<polygon points="548.56,126.89 546.86,123.94 550.26,123.94" fill="#111"/>
<polygon points="551.89,126.15 550.19,123.2 553.59,123.2" fill="#111"/>
<polygon points="555.19,125.33 553.49,122.39 556.89,122.39" fill="#111"/>
<polygon points="558.5,124.55 556.8,121.61 560.2,121.61" fill="#111"/>
<polygon points="561.78,123.63 560.08,120.69 563.48,120.69" fill="#111"/>
<polygon points="564.98,122.47 563.28,119.52 566.68,119.52" fill="#111"/>
<polygon points="568.11,121.14 566.41,118.2 569.81,118.2" fill="#111"/>
<polygon points="571.16,119.63 569.46,116.69 572.86,116.69" fill="#111"/>
<polygon points="574.14,117.99 572.44,115.04 575.84,115.04" fill="#111"/>
<polygon points="577.15,116.39 575.45,113.45 578.85,113.45" fill="#111"/>
<polygon points="580.13,114.76 578.43,111.82 581.83,111.82" fill="#111"/>
<polygon points="582.96,112.89 581.26,109.94 584.66,109.94" fill="#111"/>
<polygon points="585.46,110.58 583.76,107.63 587.16,107.63" fill="#111"/>
<polygon points="587.72,108.04 586.02,105.09 589.42,105.09" fill="#111"/>
<polygon points="589.61,105.21 587.91,102.26 591.31,102.26" fill="#111"/>
<polygon points="591.41,102.32 589.71,99.37 593.11,99.37" fill="#111"/>
<polygon points="593.32,99.5 591.62,96.55 595.02,96.55" fill="#111"/>
<polygon points="595.19,96.66 593.49,93.71 596.89,93.71" fill="#111"/>
<polygon points="596.93,93.73 595.23,90.79 598.63,90.79" fill="#111"/>
<polygon points="598.77,90.87 597.07,87.93 600.47,87.93" fill="#111"/>
<polygon points="600.73,88.09 599.03,85.14 602.43,85.14" fill="#111"/>
<polygon points="602.6,85.25 600.9,82.3 604.3,82.3" fill="#111"/>
<polygon points="604.12,82.21 602.42,79.27 605.82,79.27" fill="#111"/>
<polygon points="604.53,78.84 602.83,75.89 606.23,75.89" fill="#111"/>
<polygon points="604.66,75.44 602.96,72.49 606.36,72.49" fill="#111"/>
<polygon points="604.73,72.04 603.03,69.09 606.43,69.09" fill="#111"/>
<polygon points="604.77,68.63 603.07,65.69 606.47,65.69" fill="#111"/>
<polygon points="604.78,65.23 603.08,62.28 606.48,62.28" fill="#111"/>
<polygon points="604.8,61.83 603.1,58.88 606.5,58.88" fill="#111"/>
<polyline fill="none" stroke="#222" stroke-width="0.5" points="521,129.9 521.17,129.69 521.37,129.43 521.61,129.12 521.88,128.78 522.17,128.4 522.49,128.01 522.81,127.6 523.15,127.18 523.49,126.76 523.84,126.35 524.17,125.97 524.5,125.6 524.82,125.25 525.14,124.89 525.47,124.53 525.8,124.17 526.13,123.81 526.47,123.46 526.82,123.11 527.17,122.76 527.54,122.43 527.91,122.11 528.3,121.8 528.7,121.5 529.11,121.22 529.53,120.95 529.97,120.69 530.41,120.43 530.86,120.19 531.32,119.96 531.79,119.73 532.27,119.51 532.76,119.3 533.26,119.09 533.78,118.89 534.3,118.7 534.84,118.51 535.4,118.33 535.99,118.16 536.58,118 537.19,117.84 537.8,117.69 538.42,117.54 539.03,117.4 539.64,117.27 540.24,117.14 540.83,117.02 541.4,116.9 541.96,116.79 542.51,116.7 543.05,116.61 543.59,116.54 544.12,116.47 544.65,116.4 545.18,116.33 545.7,116.26 546.22,116.19 546.75,116.1 547.27,116.01 547.8,115.9 548.33,115.78 548.85,115.65 549.37,115.51 549.89,115.37 550.41,115.22 550.93,115.07 551.45,114.91 551.97,114.75 552.5,114.59 553.03,114.43 553.56,114.26 554.1,114.1 554.64,113.94 555.19,113.77 555.75,113.6 556.31,113.42 556.87,113.25 557.43,113.07 558,112.89 558.56,112.71 559.12,112.53 559.68,112.35 560.24,112.18 560.8,112 561.35,111.83 561.91,111.66 562.46,111.5 563.02,111.34 563.57,111.18 564.12,111.01 564.68,110.85 565.23,110.67 565.77,110.5 566.32,110.31 566.86,110.11 567.4,109.9 567.94,109.68 568.47,109.45 568.99,109.21 569.52,108.96 570.04,108.71 570.56,108.45 571.08,108.18 571.6,107.91 572.12,107.64 572.65,107.36 573.17,107.08 573.7,106.8 574.23,106.51 574.78,106.22 575.33,105.92 575.88,105.62 576.43,105.32 576.98,105.01 577.53,104.69 578.07,104.38 578.6,104.06 579.11,103.74 579.62,103.42 580.1,103.1 580.57,102.78 581.02,102.46 581.47,102.13 581.9,101.8 582.33,101.47 582.74,101.14 583.15,100.81 583.55,100.47 583.95,100.14 584.33,99.79 584.72,99.45 585.1,99.1 585.48,98.74 585.85,98.38 586.22,98 586.59,97.62 586.94,97.24 587.29,96.86 587.64,96.48 587.97,96.1 588.29,95.73 588.61,95.37 588.91,95.03 589.2,94.7 589.48,94.38 589.74,94.08 589.98,93.78 590.22,93.49 590.44,93.21 590.66,92.94 590.87,92.67 591.08,92.41 591.29,92.15 591.49,91.9 591.69,91.65 591.9,91.4 592.1,91.16 592.3,90.92 592.49,90.7 592.68,90.47 592.86,90.26 593.04,90.04 593.23,89.83 593.41,89.63 593.6,89.42 593.79,89.21 593.99,89.01 594.2,88.8 594.42,88.59 594.64,88.38 594.88,88.17 595.12,87.97 595.36,87.76 595.61,87.56 595.85,87.35 596.09,87.16 596.33,86.96 596.56,86.77 596.79,86.58 597,86.4 597.2,86.23 597.4,86.06 597.59,85.9 597.78,85.74 597.96,85.59 598.14,85.44 598.31,85.29 598.49,85.14 598.66,84.98 598.84,84.83 599.02,84.67 599.2,84.5 599.38,84.33 599.57,84.15 599.76,83.97 599.95,83.79 600.14,83.6 600.33,83.41 600.52,83.22 600.7,83.04 600.89,82.85 601.06,82.66 601.23,82.48 601.4,82.3 601.56,82.12 601.72,81.95 601.87,81.77 602.03,81.6 602.17,81.42 602.32,81.25 602.46,81.08 602.6,80.9 602.73,80.73 602.86,80.55 602.98,80.38 603.1,80.2 603.21,80.04 603.33,79.91 603.43,79.79 603.54,79.69 603.64,79.58 603.73,79.47 603.82,79.33 603.91,79.17 603.99,78.96 604.06,78.7 604.13,78.39 604.2,78 604.26,77.54 604.31,77.03 604.36,76.45 604.4,75.84 604.43,75.18 604.46,74.49 604.49,73.77 604.51,73.03 604.54,72.28 604.56,71.52 604.58,70.76 604.6,70 604.62,69.2 604.64,68.33 604.65,67.41 604.66,66.44 604.67,65.47 604.68,64.5 604.68,63.56 604.69,62.67 604.69,61.84 604.69,61.11 604.7,60.49 604.7,60" />
<polygon points="521,131.73 519.3,128.78 522.7,128.78" fill="#111"/>
<polygon points="524.79,127.11 523.09,124.16 526.49,124.16" fill="#111"/>
<polygon points="529.14,123.03 527.44,120.08 530.84,120.08" fill="#111"/>
<polygon points="534.51,120.45 532.81,117.51 536.21,117.51" fill="#111"/>
<polygon points="540.3,118.96 538.6,116.01 542,116.01" fill="#111"/>
<polygon points="546.2,118.02 544.5,115.07 547.9,115.07" fill="#111"/>
<polygon points="551.99,116.57 550.29,113.63 553.69,113.63" fill="#111"/>
<polygon points="557.7,114.81 556,111.86 559.4,111.86" fill="#111"/>
<polygon points="563.42,113.05 561.72,110.1 565.12,110.1" fill="#111"/>
<polygon points="569.03,111.02 567.33,108.07 570.73,108.07" fill="#111"/>
<polygon points="574.34,108.28 572.64,105.34 576.04,105.34" fill="#111"/>
<polygon points="579.53,105.3 577.83,102.36 581.23,102.36" fill="#111"/>
<polygon points="584.27,101.68 582.57,98.73 585.97,98.73" fill="#111"/>
<polygon points="588.44,97.4 586.74,94.45 590.14,94.45" fill="#111"/>
<polygon points="592.26,92.8 590.56,89.86 593.96,89.86" fill="#111"/>
<polygon points="596.52,88.63 594.82,85.68 598.22,85.68" fill="#111"/>
<polygon points="600.94,84.61 599.24,81.67 602.64,81.67" fill="#111"/>
<polygon points="604.21,79.75 602.51,76.8 605.91,76.8" fill="#111"/>
<polygon points="604.55,73.78 602.85,70.84 606.25,70.84" fill="#111"/>
<polygon points="604.66,67.8 602.96,64.86 606.36,64.86" fill="#111"/>
<polygon points="604.7,61.83 603,58.88 606.4,58.88" fill="#111"/>
<polyline fill="none" stroke="#a040b0" stroke-width="0.6" points="454.2,155.8 454.22,155.71 454.23,155.61 454.24,155.5 454.24,155.38 454.26,155.24 454.28,155.09 454.3,154.91 454.34,154.71 454.4,154.48 454.48,154.22 454.58,153.93 454.7,153.6 454.85,153.22 455.03,152.78 455.23,152.29 455.46,151.77 455.69,151.21 455.94,150.64 456.2,150.07 456.47,149.49 456.73,148.92 457,148.38 457.25,147.87 457.5,147.4 457.74,146.96 457.99,146.53 458.23,146.12 458.48,145.71 458.73,145.32 458.98,144.94 459.23,144.57 459.48,144.21 459.73,143.87 459.99,143.53 460.24,143.21 460.5,142.9 460.76,142.6 461.03,142.32 461.3,142.06 461.57,141.81 461.84,141.57 462.11,141.34 462.38,141.12 462.66,140.9 462.92,140.7 463.19,140.49 463.45,140.3 463.7,140.1 463.95,139.91 464.18,139.73 464.42,139.56 464.64,139.4 464.87,139.25 465.09,139.1 465.32,138.95 465.54,138.81 465.77,138.66 466.01,138.51 466.25,138.36 466.5,138.2 466.76,138.04 467.02,137.87 467.29,137.7 467.56,137.53 467.83,137.36 468.11,137.19 468.39,137.02 468.67,136.85 468.96,136.68 469.24,136.52 469.52,136.36 469.8,136.2 470.08,136.05 470.36,135.9 470.64,135.75 470.93,135.6 471.21,135.46 471.49,135.31 471.78,135.17 472.06,135.03 472.35,134.9 472.63,134.76 472.92,134.63 473.2,134.5 473.48,134.37 473.77,134.25 474.05,134.13 474.34,134.02 474.62,133.91 474.91,133.79 475.19,133.68 475.47,133.57 475.76,133.46 476.04,133.34 476.32,133.22 476.6,133.1 476.88,132.97 477.15,132.84 477.43,132.71 477.7,132.58 477.98,132.44 478.25,132.31 478.52,132.17 478.8,132.03 479.07,131.9 479.35,131.76 479.62,131.63 479.9,131.5 480.18,131.37 480.46,131.24 480.74,131.11 481.03,130.98 481.31,130.85 481.59,130.72 481.88,130.59 482.16,130.47 482.45,130.34 482.73,130.23 483.02,130.11 483.3,130 483.57,129.9 483.8,129.82 484.02,129.76 484.23,129.7 484.44,129.65 484.66,129.59 484.89,129.53 485.16,129.45 485.46,129.36 485.82,129.23 486.22,129.08 486.7,128.9 487.26,128.67 487.92,128.4 488.64,128.1 489.43,127.77 490.25,127.43 491.09,127.07 491.93,126.71 492.76,126.35 493.56,126 494.31,125.67 495,125.37 495.6,125.1 496.12,124.86 496.58,124.65 496.99,124.45 497.36,124.27 497.69,124.1 498.01,123.94 498.31,123.78 498.61,123.62 498.92,123.45 499.25,123.28 499.61,123.1 500,122.9 500.42,122.69 500.86,122.46 501.32,122.23 501.78,121.99 502.25,121.75 502.73,121.51 503.21,121.26 503.69,121.02 504.17,120.78 504.65,120.54 505.13,120.32 505.6,120.1 506.07,119.89 506.53,119.68 507,119.48 507.47,119.28 507.93,119.09 508.4,118.89 508.87,118.7 509.33,118.52 509.8,118.34 510.27,118.15 510.73,117.98 511.2,117.8 511.67,117.63 512.13,117.46 512.6,117.31 513.07,117.15 513.53,117 514,116.85 514.47,116.7 514.93,116.55 515.4,116.39 515.87,116.24 516.33,116.07 516.8,115.9 517.27,115.72 517.73,115.54 518.2,115.35 518.67,115.16 519.13,114.97 519.6,114.78 520.07,114.58 520.53,114.38 521,114.18 521.47,113.99 521.93,113.79 522.4,113.6 522.86,113.41 523.32,113.23 523.77,113.04 524.21,112.86 524.66,112.68 525.11,112.5 525.57,112.32 526.03,112.13 526.5,111.93 526.99,111.73 527.48,111.52 528,111.3 528.54,111.07 529.09,110.83 529.67,110.57 530.26,110.31 530.85,110.04 531.46,109.78 532.06,109.5 532.67,109.23 533.27,108.97 533.86,108.7 534.44,108.45 535,108.2 535.55,107.96 536.09,107.72 536.62,107.49 537.15,107.26 537.67,107.04 538.19,106.81 538.71,106.59 539.23,106.37 539.74,106.15 540.26,105.93 540.78,105.72 541.3,105.5 541.82,105.29 542.35,105.07 542.88,104.87 543.4,104.66 543.92,104.45 544.45,104.25 544.97,104.05 545.5,103.84 546.02,103.63 546.55,103.43 547.07,103.21 547.6,103 548.12,102.78 548.65,102.57 549.18,102.35 549.7,102.13 550.23,101.91 550.75,101.69 551.27,101.47 551.8,101.24 552.33,101.01 552.85,100.78 553.38,100.54 553.9,100.3 554.42,100.05 554.95,99.79 555.48,99.53 556,99.27 556.52,99 557.05,98.72 557.57,98.45 558.1,98.18 558.63,97.9 559.15,97.63 559.67,97.36 560.2,97.1 560.73,96.84 561.25,96.59 561.78,96.34 562.3,96.09 562.83,95.85 563.35,95.6 563.88,95.35 564.4,95.1 564.93,94.84 565.45,94.57 565.98,94.29 566.5,94 567.03,93.7 567.55,93.39 568.08,93.06 568.61,92.73 569.14,92.4 569.66,92.06 570.19,91.71 570.71,91.37 571.24,91.02 571.76,90.68 572.28,90.34 572.8,90 573.32,89.66 573.85,89.32 574.39,88.96 574.93,88.61 575.47,88.26 576,87.91 576.52,87.56 577.04,87.22 577.53,86.89 578.01,86.58 578.47,86.28 578.9,86 579.3,85.74 579.67,85.51 580.02,85.29 580.34,85.09 580.65,84.9 580.95,84.71 581.24,84.53 581.54,84.34 581.83,84.15 582.14,83.95 582.46,83.74 582.8,83.5 583.15,83.25 583.52,82.99 583.89,82.73 584.26,82.46 584.64,82.18 585.02,81.89 585.41,81.6 585.79,81.31 586.17,81.01 586.55,80.71 586.93,80.41 587.3,80.1 587.67,79.79 588.04,79.46 588.42,79.13 588.8,78.79 589.18,78.45 589.55,78.1 589.92,77.75 590.28,77.41 590.63,77.07 590.97,76.74 591.29,76.41 591.6,76.1 591.89,75.79 592.17,75.5 592.44,75.2 592.69,74.91 592.93,74.63 593.17,74.34 593.4,74.07 593.62,73.79 593.84,73.51 594.06,73.24 594.28,72.97 594.5,72.7 594.72,72.43 594.93,72.17 595.14,71.9 595.34,71.64 595.54,71.39 595.74,71.13 595.93,70.88 596.13,70.62 596.32,70.37 596.51,70.11 596.71,69.86 596.9,69.6 597.1,69.34 597.29,69.09 597.49,68.85 597.69,68.6 597.88,68.35 598.08,68.11 598.27,67.86 598.46,67.6 598.65,67.34 598.84,67.07 599.02,66.79 599.2,66.5 599.38,66.2 599.56,65.88 599.74,65.56 599.92,65.23 600.1,64.89 600.27,64.55 600.44,64.21 600.6,63.86 600.76,63.51 600.92,63.17 601.06,62.83 601.2,62.5 601.33,62.17 601.45,61.83 601.56,61.5 601.66,61.16 601.76,60.83 601.86,60.49 601.95,60.16 602.04,59.84 602.13,59.52 602.22,59.2 602.31,58.9 602.4,58.6 602.49,58.32 602.58,58.04 602.67,57.78 602.76,57.53 602.85,57.28 602.93,57.04 603.02,56.79 603.11,56.55 603.2,56.3 603.29,56.04 603.39,55.78 603.5,55.5 603.62,55.2 603.74,54.88 603.88,54.53 604.03,54.17 604.17,53.81 604.32,53.46 604.46,53.11 604.6,52.78 604.72,52.48 604.83,52.21 604.93,51.98 605,51.8" />
<circle cx="454.2" cy="155.8" r="1.5" fill="#8a1e9a" /><circle cx="454.2" cy="156.3" r="0.75" fill="#c070d0" />
<circle cx="455.13" cy="152.55" r="1.5" fill="#8a1e9a" /><circle cx="455.13" cy="153.05" r="0.75" fill="#c070d0" />
<circle cx="456.49" cy="149.43" r="1.5" fill="#8a1e9a" /><circle cx="456.49" cy="149.93" r="0.75" fill="#c070d0" />
<circle cx="458.06" cy="146.41" r="1.5" fill="#8a1e9a" /><circle cx="458.06" cy="146.91" r="0.75" fill="#c070d0" />
<circle cx="459.95" cy="143.58" r="1.5" fill="#8a1e9a" /><circle cx="459.95" cy="144.08" r="0.75" fill="#c070d0" />
<circle cx="462.33" cy="141.16" r="1.5" fill="#8a1e9a" /><circle cx="462.33" cy="141.66" r="0.75" fill="#c070d0" />
<circle cx="465.06" cy="139.13" r="1.5" fill="#8a1e9a" /><circle cx="465.06" cy="139.63" r="0.75" fill="#c070d0" />
<circle cx="467.93" cy="137.3" r="1.5" fill="#8a1e9a" /><circle cx="467.93" cy="137.8" r="0.75" fill="#c070d0" />
<circle cx="470.89" cy="135.62" r="1.5" fill="#8a1e9a" /><circle cx="470.89" cy="136.12" r="0.75" fill="#c070d0" />
<circle cx="473.97" cy="134.17" r="1.5" fill="#8a1e9a" /><circle cx="473.97" cy="134.67" r="0.75" fill="#c070d0" />
<circle cx="477.11" cy="132.87" r="1.5" fill="#8a1e9a" /><circle cx="477.11" cy="133.37" r="0.75" fill="#c070d0" />
<circle cx="480.17" cy="131.38" r="1.5" fill="#8a1e9a" /><circle cx="480.17" cy="131.88" r="0.75" fill="#c070d0" />
<circle cx="483.28" cy="130.01" r="1.5" fill="#8a1e9a" /><circle cx="483.28" cy="130.51" r="0.75" fill="#c070d0" />
<circle cx="486.52" cy="128.97" r="1.5" fill="#8a1e9a" /><circle cx="486.52" cy="129.47" r="0.75" fill="#c070d0" />
<circle cx="489.67" cy="127.67" r="1.5" fill="#8a1e9a" /><circle cx="489.67" cy="128.17" r="0.75" fill="#c070d0" />
<circle cx="492.8" cy="126.33" r="1.5" fill="#8a1e9a" /><circle cx="492.8" cy="126.83" r="0.75" fill="#c070d0" />
<circle cx="495.91" cy="124.96" r="1.5" fill="#8a1e9a" /><circle cx="495.91" cy="125.46" r="0.75" fill="#c070d0" />
<circle cx="498.96" cy="123.44" r="1.5" fill="#8a1e9a" /><circle cx="498.96" cy="123.94" r="0.75" fill="#c070d0" />
<circle cx="501.99" cy="121.88" r="1.5" fill="#8a1e9a" /><circle cx="501.99" cy="122.38" r="0.75" fill="#c070d0" />
<circle cx="505.03" cy="120.36" r="1.5" fill="#8a1e9a" /><circle cx="505.03" cy="120.86" r="0.75" fill="#c070d0" />
<circle cx="508.15" cy="119" r="1.5" fill="#8a1e9a" /><circle cx="508.15" cy="119.5" r="0.75" fill="#c070d0" />
<circle cx="511.32" cy="117.76" r="1.5" fill="#8a1e9a" /><circle cx="511.32" cy="118.26" r="0.75" fill="#c070d0" />
<circle cx="514.55" cy="116.67" r="1.5" fill="#8a1e9a" /><circle cx="514.55" cy="117.17" r="0.75" fill="#c070d0" />
<circle cx="517.75" cy="115.53" r="1.5" fill="#8a1e9a" /><circle cx="517.75" cy="116.03" r="0.75" fill="#c070d0" />
<circle cx="520.9" cy="114.23" r="1.5" fill="#8a1e9a" /><circle cx="520.9" cy="114.73" r="0.75" fill="#c070d0" />
<circle cx="524.04" cy="112.93" r="1.5" fill="#8a1e9a" /><circle cx="524.04" cy="113.43" r="0.75" fill="#c070d0" />
<circle cx="527.19" cy="111.64" r="1.5" fill="#8a1e9a" /><circle cx="527.19" cy="112.14" r="0.75" fill="#c070d0" />
<circle cx="530.31" cy="110.29" r="1.5" fill="#8a1e9a" /><circle cx="530.31" cy="110.79" r="0.75" fill="#c070d0" />
<circle cx="533.42" cy="108.9" r="1.5" fill="#8a1e9a" /><circle cx="533.42" cy="109.4" r="0.75" fill="#c070d0" />
<circle cx="536.54" cy="107.53" r="1.5" fill="#8a1e9a" /><circle cx="536.54" cy="108.03" r="0.75" fill="#c070d0" />
<circle cx="539.67" cy="106.18" r="1.5" fill="#8a1e9a" /><circle cx="539.67" cy="106.68" r="0.75" fill="#c070d0" />
<circle cx="542.81" cy="104.89" r="1.5" fill="#8a1e9a" /><circle cx="542.81" cy="105.39" r="0.75" fill="#c070d0" />
<circle cx="545.98" cy="103.65" r="1.5" fill="#8a1e9a" /><circle cx="545.98" cy="104.15" r="0.75" fill="#c070d0" />
<circle cx="549.14" cy="102.37" r="1.5" fill="#8a1e9a" /><circle cx="549.14" cy="102.87" r="0.75" fill="#c070d0" />
<circle cx="552.27" cy="101.04" r="1.5" fill="#8a1e9a" /><circle cx="552.27" cy="101.54" r="0.75" fill="#c070d0" />
<circle cx="555.35" cy="99.59" r="1.5" fill="#8a1e9a" /><circle cx="555.35" cy="100.09" r="0.75" fill="#c070d0" />
<circle cx="558.38" cy="98.03" r="1.5" fill="#8a1e9a" /><circle cx="558.38" cy="98.53" r="0.75" fill="#c070d0" />
<circle cx="561.42" cy="96.51" r="1.5" fill="#8a1e9a" /><circle cx="561.42" cy="97.01" r="0.75" fill="#c070d0" />
<circle cx="564.49" cy="95.05" r="1.5" fill="#8a1e9a" /><circle cx="564.49" cy="95.55" r="0.75" fill="#c070d0" />
<circle cx="567.48" cy="93.43" r="1.5" fill="#8a1e9a" /><circle cx="567.48" cy="93.93" r="0.75" fill="#c070d0" />
<circle cx="570.36" cy="91.6" r="1.5" fill="#8a1e9a" /><circle cx="570.36" cy="92.1" r="0.75" fill="#c070d0" />
<circle cx="573.21" cy="89.74" r="1.5" fill="#8a1e9a" /><circle cx="573.21" cy="90.24" r="0.75" fill="#c070d0" />
<circle cx="576.05" cy="87.87" r="1.5" fill="#8a1e9a" /><circle cx="576.05" cy="88.37" r="0.75" fill="#c070d0" />
<circle cx="578.9" cy="86" r="1.5" fill="#8a1e9a" /><circle cx="578.9" cy="86.5" r="0.75" fill="#c070d0" />
<circle cx="581.78" cy="84.19" r="1.5" fill="#8a1e9a" /><circle cx="581.78" cy="84.69" r="0.75" fill="#c070d0" />
<circle cx="584.56" cy="82.24" r="1.5" fill="#8a1e9a" /><circle cx="584.56" cy="82.74" r="0.75" fill="#c070d0" />
<circle cx="587.25" cy="80.14" r="1.5" fill="#8a1e9a" /><circle cx="587.25" cy="80.64" r="0.75" fill="#c070d0" />
<circle cx="589.79" cy="77.88" r="1.5" fill="#8a1e9a" /><circle cx="589.79" cy="78.38" r="0.75" fill="#c070d0" />
<circle cx="592.19" cy="75.47" r="1.5" fill="#8a1e9a" /><circle cx="592.19" cy="75.97" r="0.75" fill="#c070d0" />
<circle cx="594.37" cy="72.86" r="1.5" fill="#8a1e9a" /><circle cx="594.37" cy="73.36" r="0.75" fill="#c070d0" />
<circle cx="596.47" cy="70.17" r="1.5" fill="#8a1e9a" /><circle cx="596.47" cy="70.67" r="0.75" fill="#c070d0" />
<circle cx="598.55" cy="67.48" r="1.5" fill="#8a1e9a" /><circle cx="598.55" cy="67.98" r="0.75" fill="#c070d0" />
<circle cx="600.27" cy="64.55" r="1.5" fill="#8a1e9a" /><circle cx="600.27" cy="65.05" r="0.75" fill="#c070d0" />
<circle cx="601.59" cy="61.41" r="1.5" fill="#8a1e9a" /><circle cx="601.59" cy="61.91" r="0.75" fill="#c070d0" />
<circle cx="602.55" cy="58.15" r="1.5" fill="#8a1e9a" /><circle cx="602.55" cy="58.65" r="0.75" fill="#c070d0" />
<circle cx="603.71" cy="54.95" r="1.5" fill="#8a1e9a" /><circle cx="603.71" cy="55.45" r="0.75" fill="#c070d0" />
<circle cx="605" cy="51.8" r="1.5" fill="#8a1e9a" /><circle cx="605" cy="52.3" r="0.75" fill="#c070d0" />
<polyline fill="none" stroke="#a040b0" stroke-width="0.6" points="522.4,113.2 522.58,112.96 522.8,112.64 523.07,112.28 523.37,111.87 523.69,111.42 524.03,110.95 524.38,110.47 524.73,109.98 525.08,109.5 525.41,109.03 525.72,108.6 526,108.2 526.25,107.83 526.46,107.48 526.65,107.14 526.83,106.81 527.01,106.49 527.18,106.18 527.37,105.86 527.57,105.54 527.79,105.22 528.05,104.89 528.35,104.55 528.7,104.2 529.1,103.83 529.54,103.45 530.02,103.06 530.53,102.67 531.07,102.27 531.62,101.86 532.19,101.46 532.77,101.07 533.34,100.68 533.91,100.3 534.46,99.94 535,99.6 535.52,99.27 536.05,98.97 536.58,98.67 537.1,98.38 537.62,98.1 538.15,97.83 538.67,97.56 539.2,97.3 539.72,97.03 540.25,96.76 540.77,96.48 541.3,96.2 541.82,95.91 542.34,95.62 542.86,95.33 543.38,95.03 543.89,94.73 544.41,94.44 544.93,94.14 545.46,93.85 545.98,93.56 546.52,93.27 547.05,92.98 547.6,92.7 548.16,92.42 548.72,92.15 549.29,91.88 549.87,91.62 550.46,91.36 551.04,91.09 551.63,90.83 552.21,90.57 552.8,90.31 553.37,90.04 553.94,89.77 554.5,89.5 555.05,89.22 555.59,88.95 556.12,88.67 556.65,88.39 557.18,88.1 557.7,87.82 558.22,87.53 558.75,87.25 559.28,86.96 559.81,86.67 560.35,86.39 560.9,86.1 561.46,85.81 562.03,85.52 562.6,85.22 563.19,84.93 563.77,84.63 564.36,84.34 564.94,84.04 565.53,83.75 566.11,83.46 566.68,83.17 567.24,82.88 567.8,82.6 568.35,82.32 568.89,82.05 569.43,81.77 569.96,81.5 570.49,81.24 571.02,80.97 571.54,80.7 572.06,80.44 572.57,80.18 573.09,79.92 573.59,79.66 574.1,79.4 574.6,79.14 575.11,78.88 575.61,78.63 576.11,78.37 576.6,78.12 577.09,77.86 577.58,77.61 578.06,77.36 578.53,77.12 579,76.87 579.45,76.64 579.9,76.4 580.34,76.17 580.77,75.94 581.19,75.71 581.61,75.48 582.02,75.26 582.42,75.04 582.81,74.82 583.2,74.61 583.59,74.4 583.96,74.19 584.33,73.99 584.7,73.8 585.06,73.61 585.41,73.43 585.75,73.26 586.08,73.09 586.4,72.92 586.73,72.76 587.04,72.6 587.36,72.44 587.67,72.29 587.98,72.13 588.29,71.96 588.6,71.8 588.91,71.63 589.22,71.46 589.53,71.29 589.84,71.12 590.15,70.95 590.45,70.78 590.75,70.61 591.05,70.44 591.34,70.28 591.63,70.12 591.92,69.96 592.2,69.8 592.48,69.65 592.75,69.5 593.02,69.35 593.29,69.21 593.55,69.07 593.81,68.93 594.06,68.79 594.31,68.66 594.56,68.52 594.81,68.38 595.06,68.24 595.3,68.1 595.54,67.96 595.78,67.83 596.01,67.71 596.24,67.59 596.47,67.46 596.69,67.34 596.92,67.21 597.14,67.07 597.36,66.92 597.57,66.76 597.79,66.59 598,66.4 598.21,66.19 598.43,65.96 598.64,65.72 598.85,65.47 599.06,65.21 599.27,64.94 599.47,64.66 599.67,64.39 599.86,64.11 600.05,63.83 600.23,63.56 600.4,63.3 600.56,63.04 600.72,62.79 600.87,62.54 601.01,62.3 601.15,62.05 601.28,61.8 601.41,61.55 601.53,61.29 601.65,61.03 601.77,60.76 601.89,60.49 602,60.2 602.11,59.9 602.21,59.59 602.31,59.26 602.4,58.93 602.49,58.6 602.57,58.26 602.66,57.92 602.74,57.58 602.83,57.24 602.92,56.92 603.01,56.6 603.1,56.3 603.2,56 603.3,55.7 603.4,55.41 603.51,55.11 603.62,54.82 603.72,54.54 603.83,54.26 603.93,54 604.03,53.75 604.13,53.52 604.22,53.3 604.3,53.1 604.38,52.92 604.45,52.76 604.53,52.61 604.6,52.48 604.66,52.36 604.72,52.25 604.78,52.15 604.84,52.07 604.89,51.99 604.93,51.92 604.97,51.86 605,51.8" />
<circle cx="522.4" cy="113.2" r="1.5" fill="#8a1e9a" /><circle cx="522.4" cy="113.7" r="0.75" fill="#c070d0" />
<circle cx="526.06" cy="108.12" r="1.5" fill="#8a1e9a" /><circle cx="526.06" cy="108.62" r="0.75" fill="#c070d0" />
<circle cx="529.84" cy="103.21" r="1.5" fill="#8a1e9a" /><circle cx="529.84" cy="103.71" r="0.75" fill="#c070d0" />
<circle cx="534.97" cy="99.62" r="1.5" fill="#8a1e9a" /><circle cx="534.97" cy="100.12" r="0.75" fill="#c070d0" />
<circle cx="540.48" cy="96.64" r="1.5" fill="#8a1e9a" /><circle cx="540.48" cy="97.14" r="0.75" fill="#c070d0" />
<circle cx="545.94" cy="93.58" r="1.5" fill="#8a1e9a" /><circle cx="545.94" cy="94.08" r="0.75" fill="#c070d0" />
<circle cx="551.57" cy="90.86" r="1.5" fill="#8a1e9a" /><circle cx="551.57" cy="91.36" r="0.75" fill="#c070d0" />
<circle cx="557.19" cy="88.09" r="1.5" fill="#8a1e9a" /><circle cx="557.19" cy="88.59" r="0.75" fill="#c070d0" />
<circle cx="562.72" cy="85.16" r="1.5" fill="#8a1e9a" /><circle cx="562.72" cy="85.66" r="0.75" fill="#c070d0" />
<circle cx="568.31" cy="82.34" r="1.5" fill="#8a1e9a" /><circle cx="568.31" cy="82.84" r="0.75" fill="#c070d0" />
<circle cx="573.9" cy="79.5" r="1.5" fill="#8a1e9a" /><circle cx="573.9" cy="80" r="0.75" fill="#c070d0" />
<circle cx="579.46" cy="76.63" r="1.5" fill="#8a1e9a" /><circle cx="579.46" cy="77.13" r="0.75" fill="#c070d0" />
<circle cx="584.97" cy="73.66" r="1.5" fill="#8a1e9a" /><circle cx="584.97" cy="74.16" r="0.75" fill="#c070d0" />
<circle cx="590.51" cy="70.75" r="1.5" fill="#8a1e9a" /><circle cx="590.51" cy="71.25" r="0.75" fill="#c070d0" />
<circle cx="595.99" cy="67.72" r="1.5" fill="#8a1e9a" /><circle cx="595.99" cy="68.22" r="0.75" fill="#c070d0" />
<circle cx="600.36" cy="63.36" r="1.5" fill="#8a1e9a" /><circle cx="600.36" cy="63.86" r="0.75" fill="#c070d0" />
<circle cx="602.74" cy="57.61" r="1.5" fill="#8a1e9a" /><circle cx="602.74" cy="58.11" r="0.75" fill="#c070d0" />
<circle cx="605" cy="51.8" r="1.5" fill="#8a1e9a" /><circle cx="605" cy="52.3" r="0.75" fill="#c070d0" />
<polygon points="604.7,61.83 603,58.88 606.4,58.88" fill="#111"/>
<polygon points="604.7,63.83 603,60.88 606.4,60.88" fill="#111"/>
<polygon points="604.7,65.83 603,62.88 606.4,62.88" fill="#111"/>
<polygon points="604.7,67.83 603,64.88 606.4,64.88" fill="#111"/>
<polygon points="604.7,69.83 603,66.88 606.4,66.88" fill="#111"/>
<polygon points="604.7,71.83 603,68.88 606.4,68.88" fill="#111"/>
<polygon points="604.7,73.83 603,70.88 606.4,70.88" fill="#111"/>
<polygon points="604.7,75.83 603,72.88 606.4,72.88" fill="#111"/>
<polygon points="604.7,77.83 603,74.88 606.4,74.88" fill="#111"/>
<circle cx="604" cy="52.5" r="1.5" fill="#8a1e9a" /><circle cx="604" cy="53" r="0.75" fill="#c070d0" />
<circle cx="604.2" cy="54.1" r="1.5" fill="#8a1e9a" /><circle cx="604.2" cy="54.6" r="0.75" fill="#c070d0" />
<circle cx="604.4" cy="55.7" r="1.5" fill="#8a1e9a" /><circle cx="604.4" cy="56.2" r="0.75" fill="#c070d0" />
<circle cx="604.6" cy="57.3" r="1.5" fill="#8a1e9a" /><circle cx="604.6" cy="57.8" r="0.75" fill="#c070d0" />
<rect x="473.7" y="52.6" width="56.80000000000001" height="41.199999999999996" fill="#fff" stroke="#b0b0b0" stroke-width="0.8"/>
<line x1="479.5" y1="93.8" x2="479.5" y2="92.8" stroke="#555" stroke-width="0.4" />
<text x="479.5" y="97.94" text-anchor="middle" fill="#000" stroke="#000" stroke-width="0.06" style="font-size:4.4px;" >2</text>
<line x1="492.1" y1="93.8" x2="492.1" y2="92.8" stroke="#555" stroke-width="0.4" />
<text x="492.1" y="97.94" text-anchor="middle" fill="#000" stroke="#000" stroke-width="0.06" style="font-size:4.4px;" >4</text>
<line x1="504.7" y1="93.8" x2="504.7" y2="92.8" stroke="#555" stroke-width="0.4" />
<text x="504.7" y="97.94" text-anchor="middle" fill="#000" stroke="#000" stroke-width="0.06" style="font-size:4.4px;" >6</text>
<line x1="517.3" y1="93.8" x2="517.3" y2="92.8" stroke="#555" stroke-width="0.4" />
<text x="517.3" y="97.94" text-anchor="middle" fill="#000" stroke="#000" stroke-width="0.06" style="font-size:4.4px;" >8</text>
<line x1="529.9" y1="93.8" x2="529.9" y2="92.8" stroke="#555" stroke-width="0.4" />
<text x="529.9" y="97.94" text-anchor="middle" fill="#000" stroke="#000" stroke-width="0.06" style="font-size:4.4px;" >10</text>
<line x1="473.7" y1="90" x2="474.7" y2="90" stroke="#555" stroke-width="0.4" />
<text transform="translate(471.6,91.75) scale(0.8,1)" text-anchor="end" fill="#000" stroke="#000" stroke-width="0.06" style="font-size:5.0px;" >0.00</text>
<line x1="473.7" y1="75.45" x2="474.7" y2="75.45" stroke="#555" stroke-width="0.4" />
<text transform="translate(471.6,77.2) scale(0.8,1)" text-anchor="end" fill="#000" stroke="#000" stroke-width="0.06" style="font-size:5.0px;" >0.02</text>
<line x1="473.7" y1="60.9" x2="474.7" y2="60.9" stroke="#555" stroke-width="0.4" />
<text transform="translate(471.6,62.65) scale(0.8,1)" text-anchor="end" fill="#000" stroke="#000" stroke-width="0.06" style="font-size:5.0px;" >0.04</text>
<text x="503.2" y="103.85" text-anchor="middle" fill="#000" stroke="#000" stroke-width="0.06" style="font-size:5.0px;" >Pore diameter (nm)</text>
<g transform="translate(459.2,75.3) rotate(-90)"><text x="0" y="1.65" text-anchor="middle" fill="#000" stroke="#000" stroke-width="0.06" style="font-size:4.7px;">Volume (dV/dr) (cm<tspan font-size="3.2" dy="-1.7">3</tspan><tspan dy="1.7">/g)</tspan></text></g>
<polyline fill="none" stroke="#222" stroke-width="0.8" points="478.4,89 482.6,89.2 486.8,89 488.5,88.4 491,75.3 493.5,81.1 496,87.9 503.6,87.9 511,87.3 520.4,86.2 529.7,85.7" />
<circle cx="478.4" cy="89" r="0.9" fill="#222" />
<circle cx="482.6" cy="89.2" r="0.9" fill="#222" />
<circle cx="486.8" cy="89" r="0.9" fill="#222" />
<circle cx="488.5" cy="88.4" r="0.9" fill="#222" />
<circle cx="491" cy="75.3" r="0.9" fill="#222" />
<circle cx="493.5" cy="81.1" r="0.9" fill="#222" />
<circle cx="496" cy="87.9" r="0.9" fill="#222" />
<circle cx="503.6" cy="87.9" r="0.9" fill="#222" />
<circle cx="511" cy="87.3" r="0.9" fill="#222" />
<circle cx="520.4" cy="86.2" r="0.9" fill="#222" />
<circle cx="529.7" cy="85.7" r="0.9" fill="#222" />
<polyline fill="none" stroke="#a040b0" stroke-width="0.8" points="478.4,83.3 482.6,84 486.8,84.7 488.2,80.6 491,54.7 493.5,74.4 496,79.5 499.4,80 505,80 511,80.2 518,80.2 525.5,80.3 529.7,81.1" />
<circle cx="478.4" cy="83.3" r="0.9" fill="#8a1e9a" />
<circle cx="482.6" cy="84" r="0.9" fill="#8a1e9a" />
<circle cx="486.8" cy="84.7" r="0.9" fill="#8a1e9a" />
<circle cx="488.2" cy="80.6" r="0.9" fill="#8a1e9a" />
<circle cx="491" cy="54.7" r="0.9" fill="#8a1e9a" />
<circle cx="493.5" cy="74.4" r="0.9" fill="#8a1e9a" />
<circle cx="496" cy="79.5" r="0.9" fill="#8a1e9a" />
<circle cx="499.4" cy="80" r="0.9" fill="#8a1e9a" />
<circle cx="505" cy="80" r="0.9" fill="#8a1e9a" />
<circle cx="511" cy="80.2" r="0.9" fill="#8a1e9a" />
<circle cx="518" cy="80.2" r="0.9" fill="#8a1e9a" />
<circle cx="525.5" cy="80.3" r="0.9" fill="#8a1e9a" />
<circle cx="529.7" cy="81.1" r="0.9" fill="#8a1e9a" />
<text x="511.4" y="75.26" text-anchor="middle" fill="#a040b0" stroke="#a040b0" stroke-width="0.06" style="font-size:5.3px;" >PCM</text>
<text x="518.4" y="91.75" text-anchor="middle" fill="#111" stroke="#111" stroke-width="0.06" style="font-size:5.0px;" >PCM (AS)</text>
<line x1="453.2" y1="191.9" x2="608.7" y2="191.9" stroke="#999" stroke-width="1.3" />
<line x1="453.2" y1="306.5" x2="608.7" y2="306.5" stroke="#a0a0a0" stroke-width="1.1" />
<line x1="453.2" y1="191.9" x2="453.2" y2="306.5" stroke="#a0a0a0" stroke-width="1.2" />
<line x1="608.7" y1="191.9" x2="608.7" y2="306.5" stroke="#c0c0c0" stroke-width="1.2" />
<line x1="453.7" y1="306.5" x2="453.7" y2="308.3" stroke="#777" stroke-width="0.6" />
<text x="453.7" y="315.3" text-anchor="middle" fill="#000" stroke="#000" stroke-width="0.15" style="font-size:6.0px;" >0.0</text>
<line x1="484.16" y1="306.5" x2="484.16" y2="308.3" stroke="#777" stroke-width="0.6" />
<text x="484.16" y="315.3" text-anchor="middle" fill="#000" stroke="#000" stroke-width="0.15" style="font-size:6.0px;" >0.2</text>
<line x1="514.62" y1="306.5" x2="514.62" y2="308.3" stroke="#777" stroke-width="0.6" />
<text x="514.62" y="315.3" text-anchor="middle" fill="#000" stroke="#000" stroke-width="0.15" style="font-size:6.0px;" >0.4</text>
<line x1="545.08" y1="306.5" x2="545.08" y2="308.3" stroke="#777" stroke-width="0.6" />
<text x="545.08" y="315.3" text-anchor="middle" fill="#000" stroke="#000" stroke-width="0.15" style="font-size:6.0px;" >0.6</text>
<line x1="575.54" y1="306.5" x2="575.54" y2="308.3" stroke="#777" stroke-width="0.6" />
<text x="575.54" y="315.3" text-anchor="middle" fill="#000" stroke="#000" stroke-width="0.15" style="font-size:6.0px;" >0.8</text>
<line x1="606" y1="306.5" x2="606" y2="308.3" stroke="#777" stroke-width="0.6" />
<text x="606" y="315.3" text-anchor="middle" fill="#000" stroke="#000" stroke-width="0.15" style="font-size:6.0px;" >1.0</text>
<line x1="468.93" y1="306.5" x2="468.93" y2="307.6" stroke="#888" stroke-width="0.5" />
<line x1="499.39" y1="306.5" x2="499.39" y2="307.6" stroke="#888" stroke-width="0.5" />
<line x1="529.85" y1="306.5" x2="529.85" y2="307.6" stroke="#888" stroke-width="0.5" />
<line x1="560.31" y1="306.5" x2="560.31" y2="307.6" stroke="#888" stroke-width="0.5" />
<line x1="590.77" y1="306.5" x2="590.77" y2="307.6" stroke="#888" stroke-width="0.5" />
<line x1="451.4" y1="306.5" x2="453.2" y2="306.5" stroke="#666" stroke-width="0.7" />
<text x="449.4" y="308.63" text-anchor="end" fill="#000" stroke="#000" stroke-width="0.15" style="font-size:6.1px;" >40</text>
<line x1="451.4" y1="287.5" x2="453.2" y2="287.5" stroke="#666" stroke-width="0.7" />
<text x="449.4" y="289.63" text-anchor="end" fill="#000" stroke="#000" stroke-width="0.15" style="font-size:6.1px;" >50</text>
<line x1="451.4" y1="268.5" x2="453.2" y2="268.5" stroke="#666" stroke-width="0.7" />
<text x="449.4" y="270.63" text-anchor="end" fill="#000" stroke="#000" stroke-width="0.15" style="font-size:6.1px;" >60</text>
<line x1="451.4" y1="249.5" x2="453.2" y2="249.5" stroke="#666" stroke-width="0.7" />
<text x="449.4" y="251.63" text-anchor="end" fill="#000" stroke="#000" stroke-width="0.15" style="font-size:6.1px;" >70</text>
<line x1="451.4" y1="230.5" x2="453.2" y2="230.5" stroke="#666" stroke-width="0.7" />
<text x="449.4" y="232.63" text-anchor="end" fill="#000" stroke="#000" stroke-width="0.15" style="font-size:6.1px;" >80</text>
<line x1="451.4" y1="211.5" x2="453.2" y2="211.5" stroke="#666" stroke-width="0.7" />
<text x="449.4" y="213.63" text-anchor="end" fill="#000" stroke="#000" stroke-width="0.15" style="font-size:6.1px;" >90</text>
<line x1="451.4" y1="192.5" x2="453.2" y2="192.5" stroke="#666" stroke-width="0.7" />
<text x="449.4" y="194.63" text-anchor="end" fill="#000" stroke="#000" stroke-width="0.15" style="font-size:6.1px;" >100</text>
<line x1="452.1" y1="297" x2="453.2" y2="297" stroke="#888" stroke-width="0.5" />
<line x1="452.1" y1="278" x2="453.2" y2="278" stroke="#888" stroke-width="0.5" />
<line x1="452.1" y1="259" x2="453.2" y2="259" stroke="#888" stroke-width="0.5" />
<line x1="452.1" y1="240" x2="453.2" y2="240" stroke="#888" stroke-width="0.5" />
<line x1="452.1" y1="221" x2="453.2" y2="221" stroke="#888" stroke-width="0.5" />
<line x1="452.1" y1="202" x2="453.2" y2="202" stroke="#888" stroke-width="0.5" />
<g transform="translate(430.3,250.7) rotate(-90)"><text x="0" y="3.25" text-anchor="middle" fill="#000" stroke="#000" stroke-width="0.05" style="font-size:9.3px;">Amount adsorbed (cm<tspan font-size="5.5" dy="-3.2">3</tspan><tspan dy="3.2">/g)</tspan></text></g>
<text transform="translate(596.4,300.33) scale(0.82,1)" text-anchor="middle" fill="#111" stroke="#111" stroke-width="0" style="font-size:13.5px;" >(b)</text>
<text x="577" y="232.39" text-anchor="middle" fill="#2840e8" stroke="#2840e8" stroke-width="0.15" style="font-size:7.4px;" >f-PCN</text>
<text x="556.6" y="281.19" text-anchor="middle" fill="#111" stroke="#111" stroke-width="0.15" style="font-size:7.4px;" >PCN</text>
<text x="529.4" y="341.88" text-anchor="middle" fill="#000" stroke="#000" stroke-width="0" style="font-size:12.5px;" font-weight="bold">B</text>
<polyline fill="none" stroke="#222" stroke-width="0.5" points="454.9,302.7 455.04,302.23 455.2,301.61 455.4,300.87 455.61,300.04 455.85,299.14 456.1,298.21 456.37,297.26 456.64,296.33 456.93,295.44 457.22,294.62 457.51,293.9 457.8,293.3 458.1,292.81 458.4,292.38 458.73,292.02 459.06,291.7 459.39,291.43 459.74,291.19 460.08,290.97 460.43,290.78 460.78,290.59 461.13,290.4 461.47,290.21 461.8,290 462.13,289.79 462.44,289.61 462.76,289.44 463.07,289.29 463.38,289.14 463.69,289 464.01,288.86 464.33,288.71 464.66,288.56 464.99,288.39 465.34,288.21 465.7,288 466.07,287.77 466.46,287.51 466.85,287.24 467.26,286.95 467.67,286.65 468.09,286.35 468.51,286.05 468.93,285.75 469.35,285.46 469.77,285.19 470.19,284.93 470.6,284.7 471,284.49 471.38,284.3 471.76,284.12 472.13,283.96 472.49,283.8 472.87,283.65 473.25,283.5 473.65,283.36 474.07,283.2 474.52,283.05 474.99,282.88 475.5,282.7 476.05,282.51 476.63,282.31 477.24,282.1 477.88,281.89 478.54,281.67 479.21,281.45 479.9,281.23 480.59,281.01 481.27,280.8 481.96,280.59 482.64,280.39 483.3,280.2 483.96,280.01 484.61,279.83 485.27,279.65 485.93,279.47 486.59,279.3 487.25,279.12 487.91,278.96 488.57,278.8 489.23,278.64 489.89,278.49 490.54,278.34 491.2,278.2 491.85,278.07 492.5,277.94 493.15,277.82 493.8,277.71 494.45,277.6 495.1,277.5 495.75,277.4 496.4,277.3 497.05,277.2 497.7,277.1 498.35,277 499,276.9 499.66,276.8 500.31,276.69 500.97,276.58 501.63,276.48 502.29,276.37 502.95,276.27 503.61,276.17 504.27,276.07 504.93,275.97 505.59,275.88 506.24,275.79 506.9,275.7 507.55,275.62 508.21,275.55 508.86,275.48 509.51,275.42 510.16,275.36 510.81,275.3 511.46,275.24 512.1,275.18 512.75,275.12 513.4,275.05 514.05,274.98 514.7,274.9 515.35,274.81 516,274.72 516.66,274.62 517.31,274.51 517.97,274.41 518.62,274.3 519.27,274.19 519.92,274.09 520.57,273.98 521.22,273.88 521.86,273.79 522.5,273.7 523.13,273.62 523.74,273.55 524.34,273.49 524.93,273.43 525.52,273.37 526.11,273.31 526.71,273.26 527.33,273.2 527.96,273.13 528.61,273.06 529.29,272.99 530,272.9 530.73,272.81 531.48,272.71 532.24,272.6 533.01,272.5 533.8,272.38 534.61,272.27 535.44,272.15 536.29,272.03 537.17,271.9 538.08,271.77 539.03,271.64 540,271.5 541.02,271.36 542.1,271.21 543.22,271.06 544.38,270.9 545.56,270.74 546.76,270.58 547.97,270.41 549.18,270.24 550.37,270.08 551.55,269.92 552.69,269.76 553.8,269.6 554.88,269.45 555.96,269.29 557.04,269.14 558.1,268.98 559.16,268.83 560.2,268.68 561.22,268.52 562.23,268.37 563.21,268.23 564.17,268.08 565.1,267.94 566,267.8 566.86,267.67 567.69,267.55 568.49,267.43 569.26,267.33 570.01,267.22 570.74,267.11 571.45,267 572.16,266.89 572.87,266.76 573.57,266.62 574.28,266.47 575,266.3 575.72,266.12 576.43,265.93 577.14,265.74 577.84,265.54 578.54,265.33 579.24,265.11 579.93,264.88 580.62,264.64 581.31,264.38 582.01,264.1 582.7,263.81 583.4,263.5 584.11,263.17 584.82,262.82 585.55,262.46 586.28,262.07 587.01,261.68 587.73,261.27 588.45,260.85 589.16,260.41 589.85,259.97 590.52,259.52 591.17,259.06 591.8,258.6 592.41,258.13 593,257.65 593.57,257.16 594.13,256.66 594.68,256.15 595.21,255.63 595.73,255.1 596.23,254.56 596.72,254.01 597.2,253.45 597.66,252.88 598.1,252.3 598.53,251.71 598.95,251.11 599.35,250.49 599.73,249.86 600.11,249.23 600.46,248.58 600.81,247.93 601.13,247.27 601.45,246.61 601.75,245.94 602.03,245.27 602.3,244.6 602.55,243.92 602.78,243.22 603,242.52 603.19,241.8 603.37,241.08 603.54,240.36 603.7,239.64 603.85,238.92 603.99,238.22 604.13,237.53 604.27,236.85 604.4,236.2 604.53,235.58 604.65,235 604.76,234.45 604.86,233.92 604.96,233.4 605.05,232.88 605.13,232.34 605.21,231.79 605.29,231.21 605.36,230.59 605.43,229.93 605.5,229.2 605.56,228.38 605.62,227.45 605.68,226.43 605.73,225.36 605.78,224.26 605.82,223.16 605.86,222.09 605.89,221.06 605.92,220.11 605.95,219.27 605.98,218.55 606,218" />
<polygon points="454.9,301.36 453.65,303.52 456.15,303.52" fill="#111"/>
<polygon points="455.85,297.8 454.6,299.97 457.1,299.97" fill="#111"/>
<polygon points="456.88,294.27 455.63,296.43 458.13,296.43" fill="#111"/>
<polygon points="458.46,290.97 457.21,293.14 459.71,293.14" fill="#111"/>
<polygon points="461.45,288.88 460.2,291.04 462.7,291.04" fill="#111"/>
<polygon points="464.72,287.19 463.47,289.35 465.97,289.35" fill="#111"/>
<polygon points="467.81,285.21 466.56,287.37 469.06,287.37" fill="#111"/>
<polygon points="470.89,283.2 469.64,285.37 472.14,285.37" fill="#111"/>
<polygon points="474.29,281.79 473.04,283.95 475.54,283.95" fill="#111"/>
<polygon points="477.76,280.58 476.51,282.75 479.01,282.75" fill="#111"/>
<polygon points="481.27,279.46 480.02,281.63 482.52,281.63" fill="#111"/>
<polygon points="484.8,278.43 483.55,280.6 486.05,280.6" fill="#111"/>
<polygon points="488.37,277.5 487.12,279.67 489.62,279.67" fill="#111"/>
<polygon points="491.96,276.7 490.71,278.87 493.21,278.87" fill="#111"/>
<polygon points="495.58,276.08 494.33,278.25 496.83,278.25" fill="#111"/>
<polygon points="499.22,275.52 497.97,277.69 500.47,277.69" fill="#111"/>
<polygon points="502.86,274.94 501.61,277.11 504.11,277.11" fill="#111"/>
<polygon points="506.5,274.41 505.25,276.58 507.75,276.58" fill="#111"/>
<polygon points="510.16,274.02 508.91,276.18 511.41,276.18" fill="#111"/>
<polygon points="513.82,273.66 512.57,275.83 515.07,275.83" fill="#111"/>
<polygon points="517.46,273.15 516.21,275.31 518.71,275.31" fill="#111"/>
<polygon points="521.1,272.56 519.85,274.72 522.35,274.72" fill="#111"/>
<polygon points="524.75,272.1 523.5,274.27 526,274.27" fill="#111"/>
<polygon points="528.41,271.74 527.16,273.91 529.66,273.91" fill="#111"/>
<polygon points="532.06,271.29 530.81,273.45 533.31,273.45" fill="#111"/>
<polygon points="535.71,270.77 534.46,272.93 536.96,272.93" fill="#111"/>
<polygon points="539.35,270.25 538.1,272.41 540.6,272.41" fill="#111"/>
<polygon points="542.99,269.75 541.74,271.91 544.24,271.91" fill="#111"/>
<polygon points="546.64,269.25 545.39,271.41 547.89,271.41" fill="#111"/>
<polygon points="550.29,268.75 549.04,270.91 551.54,270.91" fill="#111"/>
<polygon points="553.93,268.24 552.68,270.4 555.18,270.4" fill="#111"/>
<polygon points="557.57,267.72 556.32,269.88 558.82,269.88" fill="#111"/>
<polygon points="561.22,267.18 559.97,269.35 562.47,269.35" fill="#111"/>
<polygon points="564.86,266.63 563.61,268.8 566.11,268.8" fill="#111"/>
<polygon points="568.5,266.09 567.25,268.26 569.75,268.26" fill="#111"/>
<polygon points="572.14,265.55 570.89,267.71 573.39,267.71" fill="#111"/>
<polygon points="575.73,264.77 574.48,266.94 576.98,266.94" fill="#111"/>
<polygon points="579.27,263.76 578.02,265.92 580.52,265.92" fill="#111"/>
<polygon points="582.71,262.46 581.46,264.63 583.96,264.63" fill="#111"/>
<polygon points="586.03,260.86 584.78,263.03 587.28,263.03" fill="#111"/>
<polygon points="589.22,259.03 587.97,261.2 590.47,261.2" fill="#111"/>
<polygon points="592.23,256.92 590.98,259.09 593.48,259.09" fill="#111"/>
<polygon points="594.99,254.5 593.74,256.66 596.24,256.66" fill="#111"/>
<polygon points="597.47,251.77 596.22,253.94 598.72,253.94" fill="#111"/>
<polygon points="599.58,248.76 598.33,250.93 600.83,250.93" fill="#111"/>
<polygon points="601.32,245.52 600.07,247.69 602.57,247.69" fill="#111"/>
<polygon points="602.71,242.12 601.46,244.28 603.96,244.28" fill="#111"/>
<polygon points="603.64,238.56 602.39,240.72 604.89,240.72" fill="#111"/>
<polygon points="604.38,234.95 603.13,237.12 605.63,237.12" fill="#111"/>
<polygon points="605.08,231.34 603.83,233.51 606.33,233.51" fill="#111"/>
<polygon points="605.51,227.69 604.26,229.85 606.76,229.85" fill="#111"/>
<polygon points="605.73,224.01 604.48,226.18 606.98,226.18" fill="#111"/>
<polygon points="605.87,220.34 604.62,222.5 607.12,222.5" fill="#111"/>
<polygon points="606,216.66 604.75,218.82 607.25,218.82" fill="#111"/>
<polyline fill="none" stroke="#222" stroke-width="0.5" points="475.7,260.6 475.99,260.56 476.34,260.52 476.73,260.46 477.18,260.4 477.67,260.34 478.19,260.27 478.76,260.2 479.36,260.12 479.98,260.04 480.63,259.96 481.31,259.88 482,259.8 482.73,259.72 483.51,259.63 484.33,259.53 485.19,259.44 486.08,259.34 486.99,259.24 487.91,259.14 488.84,259.04 489.78,258.95 490.7,258.86 491.61,258.78 492.5,258.7 493.38,258.63 494.25,258.57 495.12,258.51 496,258.46 496.88,258.41 497.75,258.37 498.62,258.32 499.5,258.28 500.38,258.24 501.25,258.19 502.12,258.15 503,258.1 503.88,258.05 504.75,258.01 505.62,257.96 506.5,257.92 507.38,257.88 508.25,257.83 509.12,257.79 510,257.74 510.88,257.69 511.75,257.63 512.62,257.57 513.5,257.5 514.39,257.43 515.31,257.36 516.25,257.28 517.19,257.21 518.14,257.13 519.07,257.04 519.99,256.95 520.89,256.86 521.74,256.76 522.55,256.65 523.31,256.53 524,256.4 524.62,256.25 525.19,256.08 525.69,255.9 526.16,255.7 526.58,255.49 526.98,255.28 527.36,255.08 527.73,254.88 528.1,254.7 528.48,254.54 528.88,254.4 529.3,254.3 529.69,254.23 530.01,254.19 530.28,254.17 530.52,254.17 530.76,254.19 531.02,254.21 531.34,254.24 531.73,254.27 532.21,254.3 532.82,254.32 533.57,254.32 534.5,254.3 535.64,254.27 536.98,254.22 538.5,254.17 540.15,254.11 541.9,254.05 543.71,253.99 545.55,253.92 547.37,253.85 549.14,253.78 550.83,253.72 552.4,253.66 553.8,253.6 555.08,253.55 556.28,253.5 557.42,253.45 558.51,253.4 559.55,253.35 560.54,253.3 561.5,253.25 562.43,253.2 563.34,253.15 564.23,253.1 565.12,253.05 566,253 566.86,252.95 567.66,252.91 568.42,252.86 569.16,252.83 569.87,252.79 570.56,252.74 571.26,252.7 571.96,252.64 572.67,252.58 573.41,252.5 574.18,252.41 575,252.3 575.87,252.18 576.77,252.05 577.71,251.91 578.67,251.76 579.65,251.6 580.64,251.43 581.62,251.25 582.59,251.06 583.55,250.86 584.47,250.65 585.36,250.43 586.2,250.2 587.01,249.96 587.79,249.71 588.56,249.46 589.31,249.19 590.04,248.91 590.75,248.62 591.44,248.33 592.11,248.02 592.76,247.71 593.39,247.38 594.01,247.05 594.6,246.7 595.17,246.35 595.72,245.98 596.25,245.61 596.75,245.22 597.24,244.83 597.71,244.43 598.16,244.01 598.59,243.59 599.01,243.16 599.42,242.71 599.82,242.26 600.2,241.8 600.57,241.32 600.93,240.83 601.27,240.32 601.6,239.8 601.91,239.27 602.21,238.74 602.5,238.2 602.77,237.65 603.02,237.11 603.26,236.57 603.49,236.03 603.7,235.5 603.89,234.99 604.06,234.51 604.21,234.04 604.34,233.58 604.46,233.12 604.56,232.66 604.66,232.17 604.75,231.66 604.83,231.12 604.92,230.53 605.01,229.9 605.1,229.2 605.2,228.4 605.29,227.49 605.38,226.48 605.47,225.41 605.56,224.31 605.64,223.21 605.71,222.12 605.79,221.09 605.85,220.13 605.91,219.28 605.96,218.56 606,218" />
<polygon points="475.7,259.26 474.45,261.42 476.95,261.42" fill="#111"/>
<polygon points="482.6,258.39 481.35,260.55 483.85,260.55" fill="#111"/>
<polygon points="489.51,257.63 488.26,259.8 490.76,259.8" fill="#111"/>
<polygon points="496.44,257.1 495.19,259.26 497.69,259.26" fill="#111"/>
<polygon points="503.38,256.74 502.13,258.9 504.63,258.9" fill="#111"/>
<polygon points="510.33,256.38 509.08,258.54 511.58,258.54" fill="#111"/>
<polygon points="517.26,255.86 516.01,258.02 518.51,258.02" fill="#111"/>
<polygon points="524.16,255.02 522.91,257.19 525.41,257.19" fill="#111"/>
<polygon points="530.68,252.84 529.43,255 531.93,255" fill="#111"/>
<polygon points="537.63,252.86 536.38,255.02 538.88,255.02" fill="#111"/>
<polygon points="544.57,252.61 543.32,254.78 545.82,254.78" fill="#111"/>
<polygon points="551.52,252.35 550.27,254.51 552.77,254.51" fill="#111"/>
<polygon points="558.47,252.06 557.22,254.22 559.72,254.22" fill="#111"/>
<polygon points="565.41,251.69 564.16,253.86 566.66,253.86" fill="#111"/>
<polygon points="572.35,251.26 571.1,253.43 573.6,253.43" fill="#111"/>
<polygon points="579.24,250.32 577.99,252.49 580.49,252.49" fill="#111"/>
<polygon points="586.04,248.9 584.79,251.07 587.29,251.07" fill="#111"/>
<polygon points="592.54,246.47 591.29,248.63 593.79,248.63" fill="#111"/>
<polygon points="598.26,242.57 597.01,244.73 599.51,244.73" fill="#111"/>
<polygon points="602.41,237.03 601.16,239.19 603.66,239.19" fill="#111"/>
<polygon points="604.72,230.5 603.47,232.66 605.97,232.66" fill="#111"/>
<polygon points="605.51,223.59 604.26,225.76 606.76,225.76" fill="#111"/>
<polygon points="606,216.66 604.75,218.82 607.25,218.82" fill="#111"/>
<polyline fill="none" stroke="#2840e8" stroke-width="0.6" points="454.9,287.1 455.04,286.71 455.21,286.21 455.42,285.61 455.65,284.94 455.9,284.22 456.16,283.46 456.44,282.68 456.72,281.9 457,281.15 457.28,280.43 457.55,279.78 457.8,279.2 458.04,278.68 458.28,278.19 458.52,277.73 458.76,277.29 459,276.87 459.24,276.47 459.48,276.09 459.73,275.72 459.98,275.36 460.25,275 460.52,274.65 460.8,274.3 461.09,273.95 461.4,273.62 461.71,273.29 462.03,272.97 462.36,272.67 462.69,272.37 463.03,272.08 463.37,271.8 463.7,271.54 464.04,271.28 464.37,271.03 464.7,270.8 465.02,270.59 465.32,270.41 465.6,270.25 465.89,270.11 466.17,269.98 466.46,269.85 466.76,269.72 467.08,269.58 467.41,269.43 467.78,269.25 468.17,269.04 468.6,268.8 469.06,268.51 469.53,268.19 470.03,267.83 470.54,267.44 471.07,267.04 471.63,266.64 472.2,266.23 472.81,265.83 473.44,265.45 474.1,265.1 474.78,264.78 475.5,264.5 476.27,264.26 477.09,264.05 477.96,263.87 478.87,263.71 479.81,263.56 480.76,263.43 481.71,263.31 482.66,263.19 483.6,263.08 484.51,262.96 485.38,262.84 486.2,262.7 486.98,262.56 487.73,262.42 488.46,262.28 489.17,262.14 489.86,262 490.54,261.87 491.22,261.74 491.89,261.6 492.55,261.47 493.23,261.35 493.91,261.22 494.6,261.1 495.29,260.98 495.98,260.87 496.65,260.75 497.32,260.64 497.99,260.54 498.67,260.43 499.35,260.33 500.04,260.22 500.75,260.12 501.48,260.01 502.23,259.91 503,259.8 503.8,259.69 504.63,259.58 505.48,259.48 506.34,259.37 507.23,259.26 508.12,259.16 509.02,259.05 509.92,258.94 510.83,258.83 511.73,258.72 512.62,258.61 513.5,258.5 514.38,258.39 515.25,258.27 516.12,258.16 517,258.04 517.88,257.93 518.75,257.81 519.62,257.7 520.5,257.58 521.38,257.46 522.25,257.34 523.12,257.22 524,257.1 524.85,256.98 525.65,256.87 526.42,256.76 527.17,256.64 527.93,256.53 528.7,256.42 529.5,256.3 530.35,256.18 531.26,256.05 532.24,255.91 533.32,255.76 534.5,255.6 535.82,255.42 537.29,255.23 538.87,255.02 540.54,254.8 542.28,254.57 544.04,254.34 545.82,254.11 547.57,253.88 549.27,253.66 550.89,253.46 552.41,253.27 553.8,253.1 555.08,252.95 556.28,252.81 557.42,252.69 558.51,252.57 559.55,252.47 560.54,252.37 561.5,252.27 562.43,252.18 563.34,252.09 564.23,252 565.12,251.9 566,251.8 566.86,251.7 567.69,251.6 568.49,251.51 569.26,251.42 570.01,251.33 570.74,251.24 571.45,251.15 572.16,251.06 572.87,250.95 573.57,250.85 574.28,250.73 575,250.6 575.72,250.47 576.43,250.33 577.14,250.19 577.84,250.05 578.54,249.9 579.24,249.74 579.93,249.58 580.62,249.41 581.31,249.22 582.01,249.03 582.7,248.82 583.4,248.6 584.11,248.36 584.84,248.1 585.59,247.83 586.34,247.54 587.09,247.24 587.83,246.93 588.56,246.62 589.27,246.31 589.96,246 590.61,245.69 591.23,245.39 591.8,245.1 592.33,244.82 592.82,244.54 593.27,244.26 593.7,243.98 594.1,243.71 594.48,243.43 594.84,243.16 595.19,242.89 595.52,242.61 595.85,242.34 596.18,242.07 596.5,241.8 596.82,241.53 597.12,241.27 597.4,241.01 597.68,240.76 597.94,240.51 598.19,240.25 598.44,239.99 598.68,239.73 598.91,239.46 599.14,239.18 599.37,238.9 599.6,238.6 599.83,238.29 600.05,237.98 600.27,237.66 600.49,237.33 600.7,237 600.91,236.66 601.11,236.32 601.3,235.97 601.49,235.61 601.67,235.25 601.84,234.88 602,234.5 602.15,234.12 602.3,233.74 602.43,233.35 602.56,232.96 602.67,232.56 602.79,232.15 602.9,231.74 603,231.31 603.1,230.88 603.2,230.43 603.3,229.97 603.4,229.5 603.5,229.02 603.59,228.52 603.68,228.01 603.77,227.5 603.86,226.97 603.94,226.43 604.02,225.88 604.1,225.33 604.17,224.76 604.25,224.18 604.32,223.6 604.4,223 604.48,222.37 604.55,221.7 604.63,221 604.71,220.27 604.78,219.54 604.86,218.81 604.93,218.09 604.99,217.39 605.05,216.74 605.11,216.13 605.16,215.58 605.2,215.1 605.23,214.69 605.26,214.33 605.28,214.02 605.29,213.74 605.3,213.51 605.3,213.31 605.3,213.13 605.3,212.98 605.3,212.84 605.3,212.72 605.3,212.61 605.3,212.5" />
<polygon points="454.9,285.6 453.5,288.02 456.3,288.02" fill="#2840e8"/>
<polygon points="456.21,281.83 454.81,284.25 457.61,284.25" fill="#2840e8"/>
<polygon points="457.62,278.1 456.22,280.52 459.02,280.52" fill="#2840e8"/>
<polygon points="459.49,274.57 458.09,277 460.89,277" fill="#2840e8"/>
<polygon points="462.01,271.49 460.61,273.92 463.41,273.92" fill="#2840e8"/>
<polygon points="465.13,269.01 463.73,271.44 466.53,271.44" fill="#2840e8"/>
<polygon points="468.7,267.23 467.3,269.66 470.1,269.66" fill="#2840e8"/>
<polygon points="471.94,264.91 470.54,267.34 473.34,267.34" fill="#2840e8"/>
<polygon points="475.44,263.02 474.04,265.44 476.84,265.44" fill="#2840e8"/>
<polygon points="479.33,262.13 477.93,264.56 480.73,264.56" fill="#2840e8"/>
<polygon points="483.28,261.61 481.88,264.04 484.68,264.04" fill="#2840e8"/>
<polygon points="487.23,261.01 485.83,263.43 488.63,263.43" fill="#2840e8"/>
<polygon points="491.14,260.25 489.74,262.67 492.54,262.67" fill="#2840e8"/>
<polygon points="495.07,259.52 493.67,261.94 496.47,261.94" fill="#2840e8"/>
<polygon points="499.01,258.88 497.61,261.3 500.41,261.3" fill="#2840e8"/>
<polygon points="502.95,258.3 501.55,260.73 504.35,260.73" fill="#2840e8"/>
<polygon points="506.91,257.8 505.51,260.22 508.31,260.22" fill="#2840e8"/>
<polygon points="510.88,257.32 509.48,259.75 512.28,259.75" fill="#2840e8"/>
<polygon points="514.83,256.82 513.43,259.25 516.23,259.25" fill="#2840e8"/>
<polygon points="518.79,256.3 517.39,258.73 520.19,258.73" fill="#2840e8"/>
<polygon points="522.75,255.77 521.35,258.19 524.15,258.19" fill="#2840e8"/>
<polygon points="526.7,255.21 525.3,257.64 528.1,257.64" fill="#2840e8"/>
<polygon points="530.64,254.63 529.24,257.06 532.04,257.06" fill="#2840e8"/>
<polygon points="534.6,254.08 533.2,256.51 536,256.51" fill="#2840e8"/>
<polygon points="538.55,253.56 537.15,255.98 539.95,255.98" fill="#2840e8"/>
<polygon points="542.51,253.03 541.11,255.46 543.91,255.46" fill="#2840e8"/>
<polygon points="546.47,252.52 545.07,254.94 547.87,254.94" fill="#2840e8"/>
<polygon points="550.43,252.01 549.03,254.44 551.83,254.44" fill="#2840e8"/>
<polygon points="554.39,251.53 552.99,253.95 555.79,253.95" fill="#2840e8"/>
<polygon points="558.35,251.09 556.95,253.51 559.75,253.51" fill="#2840e8"/>
<polygon points="562.32,250.69 560.92,253.11 563.72,253.11" fill="#2840e8"/>
<polygon points="566.29,250.26 564.89,252.69 567.69,252.69" fill="#2840e8"/>
<polygon points="570.25,249.8 568.85,252.22 571.65,252.22" fill="#2840e8"/>
<polygon points="574.2,249.24 572.8,251.66 575.6,251.66" fill="#2840e8"/>
<polygon points="578.12,248.49 576.72,250.91 579.52,250.91" fill="#2840e8"/>
<polygon points="582,247.53 580.6,249.95 583.4,249.95" fill="#2840e8"/>
<polygon points="585.78,246.25 584.38,248.67 587.18,248.67" fill="#2840e8"/>
<polygon points="589.46,244.72 588.06,247.14 590.86,247.14" fill="#2840e8"/>
<polygon points="593.01,242.91 591.61,245.34 594.41,245.34" fill="#2840e8"/>
<polygon points="596.21,240.54 594.81,242.96 597.61,242.96" fill="#2840e8"/>
<polygon points="599.07,237.76 597.67,240.19 600.47,240.19" fill="#2840e8"/>
<polygon points="601.3,234.46 599.9,236.88 602.7,236.88" fill="#2840e8"/>
<polygon points="602.76,230.75 601.36,233.18 604.16,233.18" fill="#2840e8"/>
<polygon points="603.62,226.86 602.22,229.28 605.02,229.28" fill="#2840e8"/>
<polygon points="604.22,222.91 602.82,225.34 605.62,225.34" fill="#2840e8"/>
<polygon points="604.69,218.95 603.29,221.37 606.09,221.37" fill="#2840e8"/>
<polygon points="605.08,214.98 603.68,217.4 606.48,217.4" fill="#2840e8"/>
<polygon points="605.3,211 603.9,213.42 606.7,213.42" fill="#2840e8"/>
<polyline fill="none" stroke="#2840e8" stroke-width="0.6" points="475.7,247.6 475.99,247.57 476.34,247.54 476.73,247.5 477.18,247.46 477.67,247.41 478.19,247.36 478.76,247.3 479.36,247.24 479.98,247.19 480.63,247.12 481.31,247.06 482,247 482.73,246.93 483.51,246.86 484.33,246.79 485.19,246.71 486.08,246.63 486.99,246.55 487.91,246.47 488.84,246.39 489.78,246.31 490.7,246.24 491.61,246.17 492.5,246.1 493.37,246.04 494.23,245.98 495.08,245.93 495.92,245.88 496.77,245.83 497.62,245.78 498.48,245.73 499.34,245.69 500.23,245.64 501.13,245.6 502.05,245.55 503,245.5 503.99,245.45 505.03,245.39 506.1,245.34 507.2,245.28 508.31,245.22 509.43,245.16 510.54,245.11 511.63,245.06 512.7,245.01 513.72,244.97 514.69,244.93 515.6,244.9 516.46,244.89 517.29,244.89 518.09,244.91 518.87,244.93 519.61,244.96 520.33,244.99 521.01,245.02 521.67,245.03 522.29,245.03 522.89,245.01 523.46,244.97 524,244.9 524.49,244.8 524.92,244.66 525.3,244.51 525.63,244.33 525.94,244.14 526.23,243.94 526.51,243.74 526.8,243.53 527.1,243.33 527.43,243.14 527.79,242.96 528.2,242.8 528.61,242.65 528.98,242.51 529.32,242.36 529.66,242.23 530.02,242.09 530.41,241.96 530.85,241.84 531.36,241.72 531.96,241.6 532.67,241.5 533.51,241.4 534.5,241.3 535.66,241.21 537,241.14 538.48,241.08 540.09,241.02 541.78,240.97 543.53,240.92 545.32,240.87 547.11,240.83 548.89,240.78 550.61,240.72 552.26,240.67 553.8,240.6 555.26,240.53 556.69,240.46 558.1,240.38 559.47,240.31 560.83,240.23 562.17,240.15 563.49,240.07 564.8,239.98 566.11,239.89 567.41,239.8 568.7,239.7 570,239.6 571.32,239.5 572.67,239.39 574.03,239.29 575.4,239.18 576.76,239.07 578.09,238.95 579.4,238.83 580.66,238.7 581.86,238.56 582.99,238.42 584.04,238.27 585,238.1 585.85,237.92 586.61,237.74 587.28,237.55 587.89,237.34 588.44,237.14 588.94,236.92 589.41,236.7 589.86,236.47 590.3,236.23 590.74,235.99 591.21,235.75 591.7,235.5 592.21,235.24 592.72,234.98 593.23,234.71 593.73,234.43 594.22,234.14 594.71,233.85 595.18,233.56 595.64,233.26 596.08,232.97 596.51,232.68 596.91,232.39 597.3,232.1 597.67,231.82 598.01,231.54 598.34,231.26 598.66,230.99 598.96,230.71 599.24,230.43 599.52,230.15 599.77,229.87 600.02,229.59 600.26,229.3 600.48,229 600.7,228.7 600.9,228.4 601.09,228.09 601.26,227.79 601.41,227.48 601.56,227.17 601.69,226.85 601.82,226.53 601.94,226.2 602.06,225.86 602.17,225.52 602.28,225.17 602.4,224.8 602.51,224.42 602.62,224.03 602.72,223.62 602.81,223.2 602.9,222.78 602.99,222.35 603.07,221.92 603.16,221.49 603.24,221.05 603.32,220.63 603.41,220.21 603.5,219.8 603.59,219.39 603.69,218.98 603.79,218.56 603.89,218.14 603.98,217.72 604.08,217.31 604.18,216.91 604.27,216.51 604.36,216.13 604.45,215.77 604.53,215.42 604.6,215.1 604.67,214.79 604.74,214.49 604.8,214.2 604.86,213.92 604.92,213.66 604.97,213.41 605.02,213.17 605.06,212.96 605.1,212.76 605.14,212.58 605.17,212.43 605.2,212.3" />
<polygon points="475.7,246.1 474.3,248.52 477.1,248.52" fill="#2840e8"/>
<polygon points="482.62,245.44 481.22,247.87 484.02,247.87" fill="#2840e8"/>
<polygon points="489.55,244.83 488.15,247.25 490.95,247.25" fill="#2840e8"/>
<polygon points="496.48,244.34 495.08,246.77 497.88,246.77" fill="#2840e8"/>
<polygon points="503.42,243.97 502.02,246.4 504.82,246.4" fill="#2840e8"/>
<polygon points="510.37,243.61 508.97,246.04 511.77,246.04" fill="#2840e8"/>
<polygon points="517.31,243.39 515.91,245.81 518.71,245.81" fill="#2840e8"/>
<polygon points="524.25,243.34 522.85,245.77 525.65,245.77" fill="#2840e8"/>
<polygon points="530.51,240.43 529.11,242.85 531.91,242.85" fill="#2840e8"/>
<polygon points="537.4,239.62 536,242.04 538.8,242.04" fill="#2840e8"/>
<polygon points="544.35,239.39 542.95,241.82 545.75,241.82" fill="#2840e8"/>
<polygon points="551.3,239.2 549.9,241.62 552.7,241.62" fill="#2840e8"/>
<polygon points="558.24,238.87 556.84,241.3 559.64,241.3" fill="#2840e8"/>
<polygon points="565.18,238.45 563.78,240.88 566.58,240.88" fill="#2840e8"/>
<polygon points="572.11,237.93 570.71,240.36 573.51,240.36" fill="#2840e8"/>
<polygon points="579.04,237.36 577.64,239.78 580.44,239.78" fill="#2840e8"/>
<polygon points="585.92,236.4 584.52,238.83 587.32,238.83" fill="#2840e8"/>
<polygon points="592.3,233.7 590.9,236.12 593.7,236.12" fill="#2840e8"/>
<polygon points="598.13,229.94 596.73,232.36 599.53,232.36" fill="#2840e8"/>
<polygon points="602.07,224.34 600.67,226.76 603.47,226.76" fill="#2840e8"/>
<polygon points="603.67,217.58 602.27,220 605.07,220" fill="#2840e8"/>
<polygon points="605.2,210.8 603.8,213.22 606.6,213.22" fill="#2840e8"/>
<polygon points="605.8,212.66 604.55,214.82 607.05,214.82" fill="#111"/>
<polygon points="605.8,214.66 604.55,216.82 607.05,216.82" fill="#111"/>
<polygon points="605.8,216.66 604.55,218.82 607.05,218.82" fill="#111"/>
<polygon points="605.8,218.66 604.55,220.82 607.05,220.82" fill="#111"/>
<polygon points="605.8,220.66 604.55,222.82 607.05,222.82" fill="#111"/>
<polygon points="605.8,222.66 604.55,224.82 607.05,224.82" fill="#111"/>
<polygon points="605.8,224.66 604.55,226.82 607.05,226.82" fill="#111"/>
<polygon points="605.8,226.66 604.55,228.82 607.05,228.82" fill="#111"/>
<polygon points="605.8,228.66 604.55,230.82 607.05,230.82" fill="#111"/>
<polygon points="605.8,230.66 604.55,232.82 607.05,232.82" fill="#111"/>
<polygon points="605.8,232.66 604.55,234.82 607.05,234.82" fill="#111"/>
<polygon points="605,211.5 603.6,213.92 606.4,213.92" fill="#2840e8"/>
<polygon points="605,213.5 603.6,215.92 606.4,215.92" fill="#2840e8"/>
<polygon points="605,215.5 603.6,217.92 606.4,217.92" fill="#2840e8"/>
<polygon points="605,217.5 603.6,219.92 606.4,219.92" fill="#2840e8"/>
<polygon points="605,219.5 603.6,221.92 606.4,221.92" fill="#2840e8"/>
<polygon points="605,221.5 603.6,223.92 606.4,223.92" fill="#2840e8"/>
<polygon points="605,223.5 603.6,225.92 606.4,225.92" fill="#2840e8"/>
<polygon points="605,225.5 603.6,227.92 606.4,227.92" fill="#2840e8"/>
<polygon points="605,227.5 603.6,229.92 606.4,229.92" fill="#2840e8"/>
<polygon points="605,229.5 603.6,231.92 606.4,231.92" fill="#2840e8"/>
<rect x="474.2" y="194.4" width="71.40000000000003" height="33.19999999999999" fill="#fff" stroke="#b0b0b0" stroke-width="0.8"/>
<line x1="481.92" y1="227.6" x2="481.92" y2="226.6" stroke="#555" stroke-width="0.4" />
<text x="481.92" y="232.74" text-anchor="middle" fill="#000" stroke="#000" stroke-width="0.06" style="font-size:4.4px;" >2</text>
<line x1="497.64" y1="227.6" x2="497.64" y2="226.6" stroke="#555" stroke-width="0.4" />
<text x="497.64" y="232.74" text-anchor="middle" fill="#000" stroke="#000" stroke-width="0.06" style="font-size:4.4px;" >4</text>
<line x1="513.36" y1="227.6" x2="513.36" y2="226.6" stroke="#555" stroke-width="0.4" />
<text x="513.36" y="232.74" text-anchor="middle" fill="#000" stroke="#000" stroke-width="0.06" style="font-size:4.4px;" >6</text>
<line x1="529.08" y1="227.6" x2="529.08" y2="226.6" stroke="#555" stroke-width="0.4" />
<text x="529.08" y="232.74" text-anchor="middle" fill="#000" stroke="#000" stroke-width="0.06" style="font-size:4.4px;" >8</text>
<line x1="544.8" y1="227.6" x2="544.8" y2="226.6" stroke="#555" stroke-width="0.4" />
<text x="544.8" y="232.74" text-anchor="middle" fill="#000" stroke="#000" stroke-width="0.06" style="font-size:4.4px;" >10</text>
<line x1="474.2" y1="224.2" x2="475.2" y2="224.2" stroke="#555" stroke-width="0.4" />
<text transform="translate(471.4,226.16) scale(0.66,1)" text-anchor="end" fill="#000" stroke="#000" stroke-width="0.06" style="font-size:5.6px;" >0.000</text>
<line x1="474.2" y1="212" x2="475.2" y2="212" stroke="#555" stroke-width="0.4" />
<text transform="translate(471.4,213.96) scale(0.66,1)" text-anchor="end" fill="#000" stroke="#000" stroke-width="0.06" style="font-size:5.6px;" >0.002</text>
<line x1="474.2" y1="200.4" x2="475.2" y2="200.4" stroke="#555" stroke-width="0.4" />
<text transform="translate(471.4,202.36) scale(0.66,1)" text-anchor="end" fill="#000" stroke="#000" stroke-width="0.06" style="font-size:5.6px;" >0.004</text>
<text x="510.7" y="238.23" text-anchor="middle" fill="#000" stroke="#000" stroke-width="0.06" style="font-size:5.5px;" >Pore diameter (nm)</text>
<g transform="translate(458.9,220.2) rotate(-90)"><text x="0" y="1.89" text-anchor="middle" fill="#000" stroke="#000" stroke-width="0.06" style="font-size:5.4px;">Volume (dV/dr) (cm<tspan font-size="3.6" dy="-2">3</tspan><tspan dy="2">/g)</tspan></text></g>
<polyline fill="none" stroke="#222" stroke-width="0.9" points="481.9,218.3 485.7,221.4 489.5,222.5 493.2,222.1 496.3,196.3 499.3,218.3 502.4,223.7" />
<rect x="481.15" y="217.55" width="1.5" height="1.5" fill="#222"/>
<rect x="484.95" y="220.65" width="1.5" height="1.5" fill="#222"/>
<rect x="488.75" y="221.75" width="1.5" height="1.5" fill="#222"/>
<rect x="492.45" y="221.35" width="1.5" height="1.5" fill="#222"/>
<rect x="495.55" y="195.55" width="1.5" height="1.5" fill="#222"/>
<rect x="498.55" y="217.55" width="1.5" height="1.5" fill="#222"/>
<rect x="501.65" y="222.95" width="1.5" height="1.5" fill="#222"/>
<polyline fill="none" stroke="#4a64f0" stroke-width="0.8" points="481.1,219.1 484.9,222.1 488.7,223.7 491.7,223.2 495.5,201.7 498.6,210 502.4,223.7 506.1,224.1 512.2,224.1 518.3,223.4 527.4,222.9 539.5,221.7 544.8,221.7" />
<polygon points="481.1,217.92 480,219.82 482.2,219.82" fill="#2840e8"/>
<polygon points="484.9,220.92 483.8,222.82 486,222.82" fill="#2840e8"/>
<polygon points="488.7,222.52 487.6,224.42 489.8,224.42" fill="#2840e8"/>
<polygon points="491.7,222.02 490.6,223.92 492.8,223.92" fill="#2840e8"/>
<polygon points="495.5,200.52 494.4,202.42 496.6,202.42" fill="#2840e8"/>
<polygon points="498.6,208.82 497.5,210.72 499.7,210.72" fill="#2840e8"/>
<polygon points="502.4,222.52 501.3,224.42 503.5,224.42" fill="#2840e8"/>
<polygon points="506.1,222.92 505,224.82 507.2,224.82" fill="#2840e8"/>
<polygon points="512.2,222.92 511.1,224.82 513.3,224.82" fill="#2840e8"/>
<polygon points="518.3,222.22 517.2,224.12 519.4,224.12" fill="#2840e8"/>
<polygon points="527.4,221.72 526.3,223.62 528.5,223.62" fill="#2840e8"/>
<polygon points="539.5,220.52 538.4,222.42 540.6,222.42" fill="#2840e8"/>
<polygon points="544.8,220.52 543.7,222.42 545.9,222.42" fill="#2840e8"/>
</svg>
</body></html>
